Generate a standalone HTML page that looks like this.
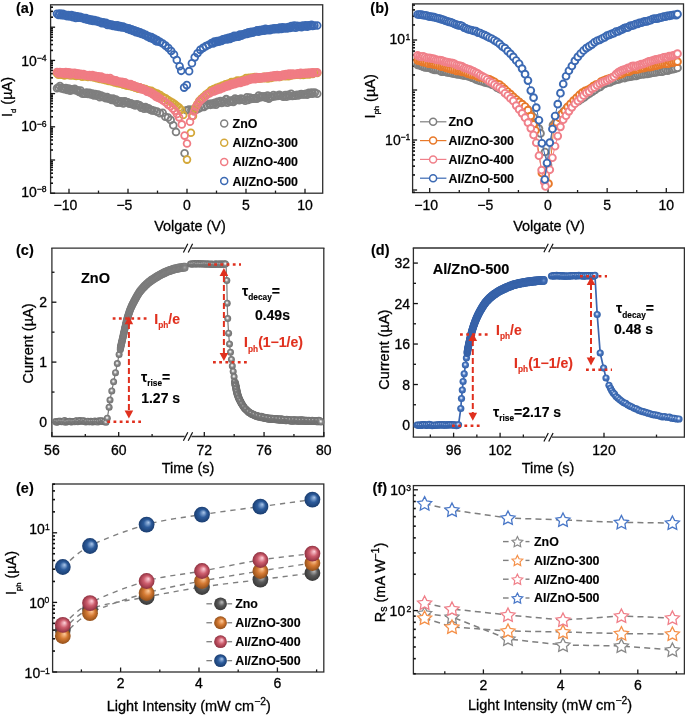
<!DOCTYPE html>
<html><head><meta charset="utf-8"><style>
html,body{margin:0;padding:0;background:#fff;}
svg{display:block;font-family:"Liberation Sans",sans-serif;will-change:transform;}
</style></head><body>
<svg width="685" height="715" viewBox="0 0 685 715">
<defs><radialGradient id="sg" cx="0.5" cy="0.5" r="0.5" fx="0.45" fy="0.4"><stop offset="0" stop-color="#ffffff"/><stop offset="0.22" stop-color="#d8d8d8"/><stop offset="0.5" stop-color="#8a8a8a"/><stop offset="1" stop-color="#6e6e6e"/></radialGradient><radialGradient id="sb" cx="0.5" cy="0.5" r="0.5" fx="0.45" fy="0.4"><stop offset="0" stop-color="#ffffff"/><stop offset="0.22" stop-color="#b0c8ee"/><stop offset="0.5" stop-color="#4a76bd"/><stop offset="1" stop-color="#305fa8"/></radialGradient><radialGradient id="sb2" cx="0.5" cy="0.5" r="0.5" fx="0.45" fy="0.4"><stop offset="0" stop-color="#6d93d0"/><stop offset="0.22" stop-color="#5a83c6"/><stop offset="0.5" stop-color="#3f6bb3"/><stop offset="1" stop-color="#335fa6"/></radialGradient><radialGradient id="sg2" cx="0.5" cy="0.5" r="0.5" fx="0.45" fy="0.4"><stop offset="0" stop-color="#a4a4a4"/><stop offset="0.22" stop-color="#969696"/><stop offset="0.5" stop-color="#858585"/><stop offset="1" stop-color="#787878"/></radialGradient><radialGradient id="eg" cx="0.5" cy="0.5" r="0.5" fx="0.62" fy="0.36"><stop offset="0" stop-color="#c0c0c0"/><stop offset="0.5" stop-color="#5a5a5a"/><stop offset="1" stop-color="#383838"/></radialGradient><radialGradient id="eo" cx="0.5" cy="0.5" r="0.5" fx="0.62" fy="0.36"><stop offset="0" stop-color="#ffcc9c"/><stop offset="0.5" stop-color="#d57a33"/><stop offset="1" stop-color="#94501a"/></radialGradient><radialGradient id="ep" cx="0.5" cy="0.5" r="0.5" fx="0.62" fy="0.36"><stop offset="0" stop-color="#ffd4dc"/><stop offset="0.5" stop-color="#cd5d6d"/><stop offset="1" stop-color="#8f3040"/></radialGradient><radialGradient id="eb" cx="0.5" cy="0.5" r="0.5" fx="0.62" fy="0.36"><stop offset="0" stop-color="#aac6ea"/><stop offset="0.5" stop-color="#2d5c9c"/><stop offset="1" stop-color="#1a3d70"/></radialGradient></defs>
<rect x="50.6" y="4.8" width="272.1" height="188.4" fill="none" stroke="#2e2e2e" stroke-width="1.3"/>
<line x1="69" y1="193.2" x2="69" y2="188.7" stroke="#1a1a1a" stroke-width="1.3" />
<line x1="128" y1="193.2" x2="128" y2="188.7" stroke="#1a1a1a" stroke-width="1.3" />
<line x1="187" y1="193.2" x2="187" y2="188.7" stroke="#1a1a1a" stroke-width="1.3" />
<line x1="246" y1="193.2" x2="246" y2="188.7" stroke="#1a1a1a" stroke-width="1.3" />
<line x1="305" y1="193.2" x2="305" y2="188.7" stroke="#1a1a1a" stroke-width="1.3" />
<line x1="98.5" y1="193.2" x2="98.5" y2="190.6" stroke="#1a1a1a" stroke-width="1.3" />
<line x1="157.5" y1="193.2" x2="157.5" y2="190.6" stroke="#1a1a1a" stroke-width="1.3" />
<line x1="216.5" y1="193.2" x2="216.5" y2="190.6" stroke="#1a1a1a" stroke-width="1.3" />
<line x1="275.5" y1="193.2" x2="275.5" y2="190.6" stroke="#1a1a1a" stroke-width="1.3" />
<line x1="50.6" y1="193.2" x2="55.1" y2="193.2" stroke="#111" stroke-width="1.3" />
<line x1="50.6" y1="160" x2="55.1" y2="160" stroke="#111" stroke-width="1.3" />
<line x1="50.6" y1="126.8" x2="55.1" y2="126.8" stroke="#111" stroke-width="1.3" />
<line x1="50.6" y1="93.6" x2="55.1" y2="93.6" stroke="#111" stroke-width="1.3" />
<line x1="50.6" y1="60.4" x2="55.1" y2="60.4" stroke="#111" stroke-width="1.3" />
<line x1="50.6" y1="27.2" x2="55.1" y2="27.2" stroke="#111" stroke-width="1.3" />
<line x1="50.6" y1="183.21" x2="53" y2="183.21" stroke="#111" stroke-width="1.6" />
<line x1="50.6" y1="177.36" x2="53" y2="177.36" stroke="#111" stroke-width="1.6" />
<line x1="50.6" y1="173.21" x2="53" y2="173.21" stroke="#111" stroke-width="1.6" />
<line x1="50.6" y1="169.99" x2="53" y2="169.99" stroke="#111" stroke-width="1.6" />
<line x1="50.6" y1="167.37" x2="53" y2="167.37" stroke="#111" stroke-width="1.6" />
<line x1="50.6" y1="165.14" x2="53" y2="165.14" stroke="#111" stroke-width="1.6" />
<line x1="50.6" y1="163.22" x2="53" y2="163.22" stroke="#111" stroke-width="1.6" />
<line x1="50.6" y1="161.52" x2="53" y2="161.52" stroke="#111" stroke-width="1.6" />
<line x1="50.6" y1="150.01" x2="53" y2="150.01" stroke="#111" stroke-width="1.6" />
<line x1="50.6" y1="144.16" x2="53" y2="144.16" stroke="#111" stroke-width="1.6" />
<line x1="50.6" y1="140.01" x2="53" y2="140.01" stroke="#111" stroke-width="1.6" />
<line x1="50.6" y1="136.79" x2="53" y2="136.79" stroke="#111" stroke-width="1.6" />
<line x1="50.6" y1="134.17" x2="53" y2="134.17" stroke="#111" stroke-width="1.6" />
<line x1="50.6" y1="131.94" x2="53" y2="131.94" stroke="#111" stroke-width="1.6" />
<line x1="50.6" y1="130.02" x2="53" y2="130.02" stroke="#111" stroke-width="1.6" />
<line x1="50.6" y1="128.32" x2="53" y2="128.32" stroke="#111" stroke-width="1.6" />
<line x1="50.6" y1="116.81" x2="53" y2="116.81" stroke="#111" stroke-width="1.6" />
<line x1="50.6" y1="110.96" x2="53" y2="110.96" stroke="#111" stroke-width="1.6" />
<line x1="50.6" y1="106.81" x2="53" y2="106.81" stroke="#111" stroke-width="1.6" />
<line x1="50.6" y1="103.59" x2="53" y2="103.59" stroke="#111" stroke-width="1.6" />
<line x1="50.6" y1="100.97" x2="53" y2="100.97" stroke="#111" stroke-width="1.6" />
<line x1="50.6" y1="98.74" x2="53" y2="98.74" stroke="#111" stroke-width="1.6" />
<line x1="50.6" y1="96.82" x2="53" y2="96.82" stroke="#111" stroke-width="1.6" />
<line x1="50.6" y1="95.12" x2="53" y2="95.12" stroke="#111" stroke-width="1.6" />
<line x1="50.6" y1="83.61" x2="53" y2="83.61" stroke="#111" stroke-width="1.6" />
<line x1="50.6" y1="77.76" x2="53" y2="77.76" stroke="#111" stroke-width="1.6" />
<line x1="50.6" y1="73.61" x2="53" y2="73.61" stroke="#111" stroke-width="1.6" />
<line x1="50.6" y1="70.39" x2="53" y2="70.39" stroke="#111" stroke-width="1.6" />
<line x1="50.6" y1="67.77" x2="53" y2="67.77" stroke="#111" stroke-width="1.6" />
<line x1="50.6" y1="65.54" x2="53" y2="65.54" stroke="#111" stroke-width="1.6" />
<line x1="50.6" y1="63.62" x2="53" y2="63.62" stroke="#111" stroke-width="1.6" />
<line x1="50.6" y1="61.92" x2="53" y2="61.92" stroke="#111" stroke-width="1.6" />
<line x1="50.6" y1="50.41" x2="53" y2="50.41" stroke="#111" stroke-width="1.6" />
<line x1="50.6" y1="44.56" x2="53" y2="44.56" stroke="#111" stroke-width="1.6" />
<line x1="50.6" y1="40.41" x2="53" y2="40.41" stroke="#111" stroke-width="1.6" />
<line x1="50.6" y1="37.19" x2="53" y2="37.19" stroke="#111" stroke-width="1.6" />
<line x1="50.6" y1="34.57" x2="53" y2="34.57" stroke="#111" stroke-width="1.6" />
<line x1="50.6" y1="32.34" x2="53" y2="32.34" stroke="#111" stroke-width="1.6" />
<line x1="50.6" y1="30.42" x2="53" y2="30.42" stroke="#111" stroke-width="1.6" />
<line x1="50.6" y1="28.72" x2="53" y2="28.72" stroke="#111" stroke-width="1.6" />
<line x1="50.6" y1="17.21" x2="53" y2="17.21" stroke="#111" stroke-width="1.6" />
<line x1="50.6" y1="11.36" x2="53" y2="11.36" stroke="#111" stroke-width="1.6" />
<line x1="50.6" y1="7.21" x2="53" y2="7.21" stroke="#111" stroke-width="1.6" />
<text stroke="#000" stroke-width="0.3" x="65.4" y="210" font-size="14" text-anchor="middle" font-weight="normal" fill="#000" >−10</text>
<text stroke="#000" stroke-width="0.3" x="124.4" y="210" font-size="14" text-anchor="middle" font-weight="normal" fill="#000" >−5</text>
<text stroke="#000" stroke-width="0.3" x="187" y="210" font-size="14" text-anchor="middle" font-weight="normal" fill="#000" >0</text>
<text stroke="#000" stroke-width="0.3" x="246" y="210" font-size="14" text-anchor="middle" font-weight="normal" fill="#000" >5</text>
<text stroke="#000" stroke-width="0.3" x="305" y="210" font-size="14" text-anchor="middle" font-weight="normal" fill="#000" >10</text>
<text stroke="#000" stroke-width="0.3" x="36.9" y="65.8" font-size="14" text-anchor="end" font-weight="normal" fill="#000" >10</text>
<text stroke="#000" stroke-width="0.3" x="46.55" y="61" font-size="8.6" text-anchor="end" font-weight="normal" fill="#000" >−4</text>
<text stroke="#000" stroke-width="0.3" x="36.9" y="131" font-size="14" text-anchor="end" font-weight="normal" fill="#000" >10</text>
<text stroke="#000" stroke-width="0.3" x="46.55" y="126.7" font-size="8.6" text-anchor="end" font-weight="normal" fill="#000" >−6</text>
<text stroke="#000" stroke-width="0.3" x="36.9" y="196.5" font-size="14" text-anchor="end" font-weight="normal" fill="#000" >10</text>
<text stroke="#000" stroke-width="0.3" x="46.65" y="192" font-size="8.6" text-anchor="end" font-weight="normal" fill="#000" >−8</text>
<text stroke="#000" stroke-width="0.3" x="190" y="231" font-size="14.5" text-anchor="middle" font-weight="normal" fill="#000" >Volgate (V)</text>
<text stroke="#000" stroke-width="0.3" transform="translate(11.7,97) rotate(-90)" font-size="14.5" text-anchor="middle" fill="#000">I<tspan font-size="7.8" dy="4.4">d</tspan><tspan dy="-4.4"> (µA)</tspan></text>
<text stroke="#000" stroke-width="0.15" x="16" y="13" font-size="14.5" text-anchor="start" font-weight="bold" fill="#000" >(a)</text>
<rect x="412.6" y="3.9" width="270.9" height="188.7" fill="none" stroke="#2e2e2e" stroke-width="1.3"/>
<line x1="429.7" y1="192.6" x2="429.7" y2="188.1" stroke="#1a1a1a" stroke-width="1.3" />
<line x1="488.85" y1="192.6" x2="488.85" y2="188.1" stroke="#1a1a1a" stroke-width="1.3" />
<line x1="548" y1="192.6" x2="548" y2="188.1" stroke="#1a1a1a" stroke-width="1.3" />
<line x1="607.15" y1="192.6" x2="607.15" y2="188.1" stroke="#1a1a1a" stroke-width="1.3" />
<line x1="666.3" y1="192.6" x2="666.3" y2="188.1" stroke="#1a1a1a" stroke-width="1.3" />
<line x1="459.27" y1="192.6" x2="459.27" y2="190" stroke="#1a1a1a" stroke-width="1.3" />
<line x1="518.42" y1="192.6" x2="518.42" y2="190" stroke="#1a1a1a" stroke-width="1.3" />
<line x1="577.58" y1="192.6" x2="577.58" y2="190" stroke="#1a1a1a" stroke-width="1.3" />
<line x1="636.73" y1="192.6" x2="636.73" y2="190" stroke="#1a1a1a" stroke-width="1.3" />
<line x1="412.6" y1="190" x2="417.1" y2="190" stroke="#111" stroke-width="1.3" />
<line x1="412.6" y1="140" x2="417.1" y2="140" stroke="#111" stroke-width="1.3" />
<line x1="412.6" y1="90" x2="417.1" y2="90" stroke="#111" stroke-width="1.3" />
<line x1="412.6" y1="40" x2="417.1" y2="40" stroke="#111" stroke-width="1.3" />
<line x1="412.6" y1="192.29" x2="415" y2="192.29" stroke="#111" stroke-width="1.6" />
<line x1="412.6" y1="174.95" x2="415" y2="174.95" stroke="#111" stroke-width="1.6" />
<line x1="412.6" y1="166.14" x2="415" y2="166.14" stroke="#111" stroke-width="1.6" />
<line x1="412.6" y1="159.9" x2="415" y2="159.9" stroke="#111" stroke-width="1.6" />
<line x1="412.6" y1="155.05" x2="415" y2="155.05" stroke="#111" stroke-width="1.6" />
<line x1="412.6" y1="151.09" x2="415" y2="151.09" stroke="#111" stroke-width="1.6" />
<line x1="412.6" y1="147.75" x2="415" y2="147.75" stroke="#111" stroke-width="1.6" />
<line x1="412.6" y1="144.85" x2="415" y2="144.85" stroke="#111" stroke-width="1.6" />
<line x1="412.6" y1="142.29" x2="415" y2="142.29" stroke="#111" stroke-width="1.6" />
<line x1="412.6" y1="124.95" x2="415" y2="124.95" stroke="#111" stroke-width="1.6" />
<line x1="412.6" y1="116.14" x2="415" y2="116.14" stroke="#111" stroke-width="1.6" />
<line x1="412.6" y1="109.9" x2="415" y2="109.9" stroke="#111" stroke-width="1.6" />
<line x1="412.6" y1="105.05" x2="415" y2="105.05" stroke="#111" stroke-width="1.6" />
<line x1="412.6" y1="101.09" x2="415" y2="101.09" stroke="#111" stroke-width="1.6" />
<line x1="412.6" y1="97.75" x2="415" y2="97.75" stroke="#111" stroke-width="1.6" />
<line x1="412.6" y1="94.85" x2="415" y2="94.85" stroke="#111" stroke-width="1.6" />
<line x1="412.6" y1="92.29" x2="415" y2="92.29" stroke="#111" stroke-width="1.6" />
<line x1="412.6" y1="74.95" x2="415" y2="74.95" stroke="#111" stroke-width="1.6" />
<line x1="412.6" y1="66.14" x2="415" y2="66.14" stroke="#111" stroke-width="1.6" />
<line x1="412.6" y1="59.9" x2="415" y2="59.9" stroke="#111" stroke-width="1.6" />
<line x1="412.6" y1="55.05" x2="415" y2="55.05" stroke="#111" stroke-width="1.6" />
<line x1="412.6" y1="51.09" x2="415" y2="51.09" stroke="#111" stroke-width="1.6" />
<line x1="412.6" y1="47.75" x2="415" y2="47.75" stroke="#111" stroke-width="1.6" />
<line x1="412.6" y1="44.85" x2="415" y2="44.85" stroke="#111" stroke-width="1.6" />
<line x1="412.6" y1="42.29" x2="415" y2="42.29" stroke="#111" stroke-width="1.6" />
<line x1="412.6" y1="24.95" x2="415" y2="24.95" stroke="#111" stroke-width="1.6" />
<line x1="412.6" y1="16.14" x2="415" y2="16.14" stroke="#111" stroke-width="1.6" />
<line x1="412.6" y1="9.9" x2="415" y2="9.9" stroke="#111" stroke-width="1.6" />
<line x1="412.6" y1="5.05" x2="415" y2="5.05" stroke="#111" stroke-width="1.6" />
<text stroke="#000" stroke-width="0.3" x="426.1" y="210" font-size="14" text-anchor="middle" font-weight="normal" fill="#000" >−10</text>
<text stroke="#000" stroke-width="0.3" x="485.25" y="210" font-size="14" text-anchor="middle" font-weight="normal" fill="#000" >−5</text>
<text stroke="#000" stroke-width="0.3" x="548" y="210" font-size="14" text-anchor="middle" font-weight="normal" fill="#000" >0</text>
<text stroke="#000" stroke-width="0.3" x="607.15" y="210" font-size="14" text-anchor="middle" font-weight="normal" fill="#000" >5</text>
<text stroke="#000" stroke-width="0.3" x="666.3" y="210" font-size="14" text-anchor="middle" font-weight="normal" fill="#000" >10</text>
<text stroke="#000" stroke-width="0.3" x="405.1" y="44.4" font-size="14" text-anchor="end" font-weight="normal" fill="#000" >10</text>
<text stroke="#000" stroke-width="0.3" x="410.4" y="39.7" font-size="8.6" text-anchor="end" font-weight="normal" fill="#000" >1</text>
<text stroke="#000" stroke-width="0.3" x="400.7" y="144.6" font-size="14" text-anchor="end" font-weight="normal" fill="#000" >10</text>
<text stroke="#000" stroke-width="0.3" x="410.4" y="139.7" font-size="8.6" text-anchor="end" font-weight="normal" fill="#000" >−1</text>
<text stroke="#000" stroke-width="0.3" x="549" y="231" font-size="14.5" text-anchor="middle" font-weight="normal" fill="#000" >Volgate (V)</text>
<text stroke="#000" stroke-width="0.3" transform="translate(374.6,96.3) rotate(-90)" font-size="14.5" text-anchor="middle" fill="#000">I<tspan font-size="7.6" dy="4.8">ph</tspan><tspan dy="-4.8"> (µA)</tspan></text>
<text stroke="#000" stroke-width="0.15" x="370.3" y="13" font-size="14.5" text-anchor="start" font-weight="bold" fill="#000" >(b)</text>
<line x1="51.9" y1="248.1" x2="51.9" y2="436.5" stroke="#2e2e2e" stroke-width="1.3" />
<line x1="323.8" y1="248.1" x2="323.8" y2="436.5" stroke="#2e2e2e" stroke-width="1.3" />
<line x1="51.25" y1="248.1" x2="184.6" y2="248.1" stroke="#2e2e2e" stroke-width="1.3" />
<line x1="51.25" y1="436.5" x2="184.6" y2="436.5" stroke="#2e2e2e" stroke-width="1.3" />
<line x1="191.4" y1="248.1" x2="324.45" y2="248.1" stroke="#2e2e2e" stroke-width="1.3" />
<line x1="191.4" y1="436.5" x2="324.45" y2="436.5" stroke="#2e2e2e" stroke-width="1.3" />
<line x1="183.4" y1="252.4" x2="187.8" y2="243.8" stroke="#111" stroke-width="1.2" />
<line x1="188.2" y1="252.4" x2="192.6" y2="243.8" stroke="#111" stroke-width="1.2" />
<line x1="183.4" y1="440.8" x2="187.8" y2="432.2" stroke="#111" stroke-width="1.2" />
<line x1="188.2" y1="440.8" x2="192.6" y2="432.2" stroke="#111" stroke-width="1.2" />
<line x1="51.9" y1="436.5" x2="51.9" y2="432" stroke="#1a1a1a" stroke-width="1.3" />
<line x1="118.7" y1="436.5" x2="118.7" y2="432" stroke="#1a1a1a" stroke-width="1.3" />
<line x1="204.3" y1="436.5" x2="204.3" y2="432" stroke="#1a1a1a" stroke-width="1.3" />
<line x1="264.06" y1="436.5" x2="264.06" y2="432" stroke="#1a1a1a" stroke-width="1.3" />
<line x1="323.82" y1="436.5" x2="323.82" y2="432" stroke="#1a1a1a" stroke-width="1.3" />
<line x1="85.3" y1="436.5" x2="85.3" y2="433.9" stroke="#1a1a1a" stroke-width="1.3" />
<line x1="152.1" y1="436.5" x2="152.1" y2="433.9" stroke="#1a1a1a" stroke-width="1.3" />
<line x1="234.18" y1="436.5" x2="234.18" y2="433.9" stroke="#1a1a1a" stroke-width="1.3" />
<line x1="293.94" y1="436.5" x2="293.94" y2="433.9" stroke="#1a1a1a" stroke-width="1.3" />
<line x1="51.9" y1="422" x2="56.4" y2="422" stroke="#111" stroke-width="1.3" />
<line x1="51.9" y1="362.1" x2="56.4" y2="362.1" stroke="#111" stroke-width="1.3" />
<line x1="51.9" y1="302.2" x2="56.4" y2="302.2" stroke="#111" stroke-width="1.3" />
<line x1="51.9" y1="392.05" x2="54.5" y2="392.05" stroke="#111" stroke-width="1.3" />
<line x1="51.9" y1="332.15" x2="54.5" y2="332.15" stroke="#111" stroke-width="1.3" />
<line x1="51.9" y1="272.25" x2="54.5" y2="272.25" stroke="#111" stroke-width="1.3" />
<text stroke="#000" stroke-width="0.3" x="51.9" y="455" font-size="14" text-anchor="middle" font-weight="normal" fill="#000" >56</text>
<text stroke="#000" stroke-width="0.3" x="118.7" y="455" font-size="14" text-anchor="middle" font-weight="normal" fill="#000" >60</text>
<text stroke="#000" stroke-width="0.3" x="204.3" y="455" font-size="14" text-anchor="middle" font-weight="normal" fill="#000" >72</text>
<text stroke="#000" stroke-width="0.3" x="264.06" y="455" font-size="14" text-anchor="middle" font-weight="normal" fill="#000" >76</text>
<text stroke="#000" stroke-width="0.3" x="323.82" y="455" font-size="14" text-anchor="middle" font-weight="normal" fill="#000" >80</text>
<text stroke="#000" stroke-width="0.3" x="47" y="427" font-size="14" text-anchor="end" font-weight="normal" fill="#000" >0</text>
<text stroke="#000" stroke-width="0.3" x="47" y="367.1" font-size="14" text-anchor="end" font-weight="normal" fill="#000" >1</text>
<text stroke="#000" stroke-width="0.3" x="47" y="307.2" font-size="14" text-anchor="end" font-weight="normal" fill="#000" >2</text>
<text stroke="#000" stroke-width="0.3" x="188" y="473" font-size="14.5" text-anchor="middle" font-weight="normal" fill="#000" >Time (s)</text>
<text stroke="#000" stroke-width="0.3" transform="translate(33.2,343.5) rotate(-90)" font-size="14.5" text-anchor="middle" fill="#000">Current (µA)</text>
<text stroke="#000" stroke-width="0.15" x="16" y="255" font-size="14.5" text-anchor="start" font-weight="bold" fill="#000" >(c)</text>
<line x1="413.4" y1="248" x2="413.4" y2="437.2" stroke="#2e2e2e" stroke-width="1.3" />
<line x1="684.4" y1="248" x2="684.4" y2="437.2" stroke="#2e2e2e" stroke-width="1.3" />
<line x1="412.75" y1="248" x2="545.1" y2="248" stroke="#2e2e2e" stroke-width="1.3" />
<line x1="412.75" y1="437.2" x2="545.1" y2="437.2" stroke="#2e2e2e" stroke-width="1.3" />
<line x1="551.9" y1="248" x2="685.05" y2="248" stroke="#2e2e2e" stroke-width="1.3" />
<line x1="551.9" y1="437.2" x2="685.05" y2="437.2" stroke="#2e2e2e" stroke-width="1.3" />
<line x1="543.9" y1="252.3" x2="548.3" y2="243.7" stroke="#111" stroke-width="1.2" />
<line x1="548.7" y1="252.3" x2="553.1" y2="243.7" stroke="#111" stroke-width="1.2" />
<line x1="543.9" y1="441.5" x2="548.3" y2="432.9" stroke="#111" stroke-width="1.2" />
<line x1="548.7" y1="441.5" x2="553.1" y2="432.9" stroke="#111" stroke-width="1.2" />
<line x1="453.6" y1="437.2" x2="453.6" y2="432.7" stroke="#1a1a1a" stroke-width="1.3" />
<line x1="500.1" y1="437.2" x2="500.1" y2="432.7" stroke="#1a1a1a" stroke-width="1.3" />
<line x1="604" y1="437.2" x2="604" y2="432.7" stroke="#1a1a1a" stroke-width="1.3" />
<line x1="430.35" y1="437.2" x2="430.35" y2="434.6" stroke="#1a1a1a" stroke-width="1.3" />
<line x1="476.85" y1="437.2" x2="476.85" y2="434.6" stroke="#1a1a1a" stroke-width="1.3" />
<line x1="523.35" y1="437.2" x2="523.35" y2="434.6" stroke="#1a1a1a" stroke-width="1.3" />
<line x1="656.5" y1="437.2" x2="656.5" y2="434.6" stroke="#1a1a1a" stroke-width="1.3" />
<line x1="413.4" y1="425" x2="417.9" y2="425" stroke="#111" stroke-width="1.3" />
<line x1="413.4" y1="384.52" x2="417.9" y2="384.52" stroke="#111" stroke-width="1.3" />
<line x1="413.4" y1="344.04" x2="417.9" y2="344.04" stroke="#111" stroke-width="1.3" />
<line x1="413.4" y1="303.56" x2="417.9" y2="303.56" stroke="#111" stroke-width="1.3" />
<line x1="413.4" y1="263.08" x2="417.9" y2="263.08" stroke="#111" stroke-width="1.3" />
<line x1="413.4" y1="404.76" x2="416" y2="404.76" stroke="#111" stroke-width="1.3" />
<line x1="413.4" y1="364.28" x2="416" y2="364.28" stroke="#111" stroke-width="1.3" />
<line x1="413.4" y1="323.8" x2="416" y2="323.8" stroke="#111" stroke-width="1.3" />
<line x1="413.4" y1="283.32" x2="416" y2="283.32" stroke="#111" stroke-width="1.3" />
<text stroke="#000" stroke-width="0.3" x="453.6" y="455" font-size="14" text-anchor="middle" font-weight="normal" fill="#000" >96</text>
<text stroke="#000" stroke-width="0.3" x="500.1" y="455" font-size="14" text-anchor="middle" font-weight="normal" fill="#000" >102</text>
<text stroke="#000" stroke-width="0.3" x="604" y="455" font-size="14" text-anchor="middle" font-weight="normal" fill="#000" >120</text>
<text stroke="#000" stroke-width="0.3" x="410" y="430" font-size="14" text-anchor="end" font-weight="normal" fill="#000" >0</text>
<text stroke="#000" stroke-width="0.3" x="410" y="389.52" font-size="14" text-anchor="end" font-weight="normal" fill="#000" >8</text>
<text stroke="#000" stroke-width="0.3" x="410" y="349.04" font-size="14" text-anchor="end" font-weight="normal" fill="#000" >16</text>
<text stroke="#000" stroke-width="0.3" x="410" y="308.56" font-size="14" text-anchor="end" font-weight="normal" fill="#000" >24</text>
<text stroke="#000" stroke-width="0.3" x="410" y="268.08" font-size="14" text-anchor="end" font-weight="normal" fill="#000" >32</text>
<text stroke="#000" stroke-width="0.3" x="548" y="473" font-size="14.5" text-anchor="middle" font-weight="normal" fill="#000" >Time (s)</text>
<text stroke="#000" stroke-width="0.3" transform="translate(389.2,349.6) rotate(-90)" font-size="14.5" text-anchor="middle" fill="#000">Current (µA)</text>
<text stroke="#000" stroke-width="0.15" x="371" y="255" font-size="14.5" text-anchor="start" font-weight="bold" fill="#000" >(d)</text>
<rect x="52.6" y="484" width="271.2" height="188" fill="none" stroke="#2e2e2e" stroke-width="1.3"/>
<line x1="120.6" y1="672" x2="120.6" y2="667.5" stroke="#1a1a1a" stroke-width="1.3" />
<line x1="199" y1="672" x2="199" y2="667.5" stroke="#1a1a1a" stroke-width="1.3" />
<line x1="277.4" y1="672" x2="277.4" y2="667.5" stroke="#1a1a1a" stroke-width="1.3" />
<line x1="81.4" y1="672" x2="81.4" y2="669.4" stroke="#1a1a1a" stroke-width="1.3" />
<line x1="159.8" y1="672" x2="159.8" y2="669.4" stroke="#1a1a1a" stroke-width="1.3" />
<line x1="238.2" y1="672" x2="238.2" y2="669.4" stroke="#1a1a1a" stroke-width="1.3" />
<line x1="316.6" y1="672" x2="316.6" y2="669.4" stroke="#1a1a1a" stroke-width="1.3" />
<line x1="52.6" y1="672" x2="57.1" y2="672" stroke="#111" stroke-width="1.3" />
<line x1="52.6" y1="602.4" x2="57.1" y2="602.4" stroke="#111" stroke-width="1.3" />
<line x1="52.6" y1="532.8" x2="57.1" y2="532.8" stroke="#111" stroke-width="1.3" />
<line x1="52.6" y1="651.05" x2="55" y2="651.05" stroke="#111" stroke-width="1.6" />
<line x1="52.6" y1="638.79" x2="55" y2="638.79" stroke="#111" stroke-width="1.6" />
<line x1="52.6" y1="630.1" x2="55" y2="630.1" stroke="#111" stroke-width="1.6" />
<line x1="52.6" y1="623.35" x2="55" y2="623.35" stroke="#111" stroke-width="1.6" />
<line x1="52.6" y1="617.84" x2="55" y2="617.84" stroke="#111" stroke-width="1.6" />
<line x1="52.6" y1="613.18" x2="55" y2="613.18" stroke="#111" stroke-width="1.6" />
<line x1="52.6" y1="609.14" x2="55" y2="609.14" stroke="#111" stroke-width="1.6" />
<line x1="52.6" y1="605.58" x2="55" y2="605.58" stroke="#111" stroke-width="1.6" />
<line x1="52.6" y1="581.45" x2="55" y2="581.45" stroke="#111" stroke-width="1.6" />
<line x1="52.6" y1="569.19" x2="55" y2="569.19" stroke="#111" stroke-width="1.6" />
<line x1="52.6" y1="560.5" x2="55" y2="560.5" stroke="#111" stroke-width="1.6" />
<line x1="52.6" y1="553.75" x2="55" y2="553.75" stroke="#111" stroke-width="1.6" />
<line x1="52.6" y1="548.24" x2="55" y2="548.24" stroke="#111" stroke-width="1.6" />
<line x1="52.6" y1="543.58" x2="55" y2="543.58" stroke="#111" stroke-width="1.6" />
<line x1="52.6" y1="539.54" x2="55" y2="539.54" stroke="#111" stroke-width="1.6" />
<line x1="52.6" y1="535.98" x2="55" y2="535.98" stroke="#111" stroke-width="1.6" />
<line x1="52.6" y1="511.85" x2="55" y2="511.85" stroke="#111" stroke-width="1.6" />
<line x1="52.6" y1="499.59" x2="55" y2="499.59" stroke="#111" stroke-width="1.6" />
<line x1="52.6" y1="490.9" x2="55" y2="490.9" stroke="#111" stroke-width="1.6" />
<line x1="52.6" y1="484.15" x2="55" y2="484.15" stroke="#111" stroke-width="1.6" />
<text stroke="#000" stroke-width="0.3" x="120.6" y="688" font-size="14" text-anchor="middle" font-weight="normal" fill="#000" >2</text>
<text stroke="#000" stroke-width="0.3" x="199" y="688" font-size="14" text-anchor="middle" font-weight="normal" fill="#000" >4</text>
<text stroke="#000" stroke-width="0.3" x="277.4" y="688" font-size="14" text-anchor="middle" font-weight="normal" fill="#000" >6</text>
<text stroke="#000" stroke-width="0.3" x="44.8" y="534.3" font-size="14" text-anchor="end" font-weight="normal" fill="#000" >10</text>
<text stroke="#000" stroke-width="0.3" x="49.8" y="529.6" font-size="8.6" text-anchor="end" font-weight="normal" fill="#000" >1</text>
<text stroke="#000" stroke-width="0.3" x="44.8" y="607.5" font-size="14" text-anchor="end" font-weight="normal" fill="#000" >10</text>
<text stroke="#000" stroke-width="0.3" x="49.25" y="603.4" font-size="8.6" text-anchor="end" font-weight="normal" fill="#000" >0</text>
<text stroke="#000" stroke-width="0.3" x="40.2" y="677.8" font-size="14" text-anchor="end" font-weight="normal" fill="#000" >10</text>
<text stroke="#000" stroke-width="0.3" x="49.8" y="673.7" font-size="8.6" text-anchor="end" font-weight="normal" fill="#000" >−1</text>
<text stroke="#000" stroke-width="0.3" x="188.7" y="710.5" font-size="14.5" text-anchor="middle" fill="#000">Light Intensity (mW cm<tspan font-size="10.3" dy="-5.6">−2</tspan><tspan dy="5.6">)</tspan></text>
<text stroke="#000" stroke-width="0.3" transform="translate(16.2,573) rotate(-90)" font-size="14.5" text-anchor="middle" fill="#000">I<tspan font-size="7.6" dy="4.8">ph</tspan><tspan dy="-4.8"> (µA)</tspan></text>
<text stroke="#000" stroke-width="0.15" x="16" y="493" font-size="14.5" text-anchor="start" font-weight="bold" fill="#000" >(e)</text>
<rect x="413.4" y="485.6" width="271" height="188.3" fill="none" stroke="#2e2e2e" stroke-width="1.3"/>
<line x1="483.4" y1="673.9" x2="483.4" y2="669.4" stroke="#1a1a1a" stroke-width="1.3" />
<line x1="560.6" y1="673.9" x2="560.6" y2="669.4" stroke="#1a1a1a" stroke-width="1.3" />
<line x1="637.8" y1="673.9" x2="637.8" y2="669.4" stroke="#1a1a1a" stroke-width="1.3" />
<line x1="444.8" y1="673.9" x2="444.8" y2="671.3" stroke="#1a1a1a" stroke-width="1.3" />
<line x1="522" y1="673.9" x2="522" y2="671.3" stroke="#1a1a1a" stroke-width="1.3" />
<line x1="599.2" y1="673.9" x2="599.2" y2="671.3" stroke="#1a1a1a" stroke-width="1.3" />
<line x1="676.4" y1="673.9" x2="676.4" y2="671.3" stroke="#1a1a1a" stroke-width="1.3" />
<line x1="413.4" y1="610.6" x2="417.9" y2="610.6" stroke="#111" stroke-width="1.3" />
<line x1="413.4" y1="489.8" x2="417.9" y2="489.8" stroke="#111" stroke-width="1.3" />
<line x1="413.4" y1="673.76" x2="415.8" y2="673.76" stroke="#111" stroke-width="1.6" />
<line x1="413.4" y1="658.67" x2="415.8" y2="658.67" stroke="#111" stroke-width="1.6" />
<line x1="413.4" y1="646.96" x2="415.8" y2="646.96" stroke="#111" stroke-width="1.6" />
<line x1="413.4" y1="637.4" x2="415.8" y2="637.4" stroke="#111" stroke-width="1.6" />
<line x1="413.4" y1="629.31" x2="415.8" y2="629.31" stroke="#111" stroke-width="1.6" />
<line x1="413.4" y1="622.31" x2="415.8" y2="622.31" stroke="#111" stroke-width="1.6" />
<line x1="413.4" y1="616.13" x2="415.8" y2="616.13" stroke="#111" stroke-width="1.6" />
<line x1="413.4" y1="574.24" x2="415.8" y2="574.24" stroke="#111" stroke-width="1.6" />
<line x1="413.4" y1="552.96" x2="415.8" y2="552.96" stroke="#111" stroke-width="1.6" />
<line x1="413.4" y1="537.87" x2="415.8" y2="537.87" stroke="#111" stroke-width="1.6" />
<line x1="413.4" y1="526.16" x2="415.8" y2="526.16" stroke="#111" stroke-width="1.6" />
<line x1="413.4" y1="516.6" x2="415.8" y2="516.6" stroke="#111" stroke-width="1.6" />
<line x1="413.4" y1="508.51" x2="415.8" y2="508.51" stroke="#111" stroke-width="1.6" />
<line x1="413.4" y1="501.51" x2="415.8" y2="501.51" stroke="#111" stroke-width="1.6" />
<line x1="413.4" y1="495.33" x2="415.8" y2="495.33" stroke="#111" stroke-width="1.6" />
<text stroke="#000" stroke-width="0.3" x="483.4" y="690" font-size="14" text-anchor="middle" font-weight="normal" fill="#000" >2</text>
<text stroke="#000" stroke-width="0.3" x="560.6" y="690" font-size="14" text-anchor="middle" font-weight="normal" fill="#000" >4</text>
<text stroke="#000" stroke-width="0.3" x="637.8" y="690" font-size="14" text-anchor="middle" font-weight="normal" fill="#000" >6</text>
<text stroke="#000" stroke-width="0.3" x="405.8" y="495.3" font-size="14" text-anchor="end" font-weight="normal" fill="#000" >10</text>
<text stroke="#000" stroke-width="0.3" x="411.15" y="491.2" font-size="8.6" text-anchor="end" font-weight="normal" fill="#000" >3</text>
<text stroke="#000" stroke-width="0.3" x="405.2" y="615.8" font-size="14" text-anchor="end" font-weight="normal" fill="#000" >10</text>
<text stroke="#000" stroke-width="0.3" x="411.25" y="611.5" font-size="8.6" text-anchor="end" font-weight="normal" fill="#000" >2</text>
<text stroke="#000" stroke-width="0.3" x="550" y="710" font-size="14.5" text-anchor="middle" fill="#000">Light Intensity (mW cm<tspan font-size="10.3" dy="-5.6">−2</tspan><tspan dy="5.6">)</tspan></text>
<text stroke="#000" stroke-width="0.3" transform="translate(384.8,582.5) rotate(-90)" font-size="14.5" text-anchor="middle" fill="#000">R<tspan font-size="10.5" dy="2.3">s</tspan><tspan dy="-2.3"> (mA W</tspan><tspan font-size="10" dy="-5.4">−1</tspan><tspan dy="5.4">)</tspan></text>
<text stroke="#000" stroke-width="0.15" x="372.5" y="493" font-size="14.5" text-anchor="start" font-weight="bold" fill="#000" >(f)</text>
<g fill="none" stroke="#7f7f7f" stroke-width="1.8"><circle cx="57" cy="88.29" r="3.4"/><circle cx="59.95" cy="85.93" r="3.4"/><circle cx="62.9" cy="88.14" r="3.4"/><circle cx="65.85" cy="88.01" r="3.4"/><circle cx="68.8" cy="88.56" r="3.4"/><circle cx="71.75" cy="89.21" r="3.4"/><circle cx="74.7" cy="88.68" r="3.4"/><circle cx="77.65" cy="90.34" r="3.4"/><circle cx="80.6" cy="90.59" r="3.4"/><circle cx="83.55" cy="93.75" r="3.4"/><circle cx="86.5" cy="92.55" r="3.4"/><circle cx="89.45" cy="92.86" r="3.4"/><circle cx="92.4" cy="93.57" r="3.4"/><circle cx="95.35" cy="94.02" r="3.4"/><circle cx="98.3" cy="94.48" r="3.4"/><circle cx="101.25" cy="95.59" r="3.4"/><circle cx="104.2" cy="96.84" r="3.4"/><circle cx="107.15" cy="97.13" r="3.4"/><circle cx="110.1" cy="98.58" r="3.4"/><circle cx="113.05" cy="98.62" r="3.4"/><circle cx="116" cy="99.51" r="3.4"/><circle cx="118.95" cy="101.17" r="3.4"/><circle cx="121.9" cy="101.27" r="3.4"/><circle cx="124.85" cy="101.32" r="3.4"/><circle cx="127.8" cy="102.18" r="3.4"/><circle cx="130.75" cy="103.27" r="3.4"/><circle cx="133.7" cy="104.81" r="3.4"/><circle cx="136.65" cy="104.3" r="3.4"/><circle cx="139.6" cy="105.26" r="3.4"/><circle cx="142.55" cy="107.04" r="3.4"/><circle cx="145.5" cy="106.93" r="3.4"/><circle cx="148.45" cy="108.28" r="3.4"/><circle cx="151.37" cy="109.95" r="3.4"/><circle cx="154.24" cy="110.8" r="3.4"/><circle cx="157.08" cy="111.63" r="3.4"/><circle cx="159.87" cy="113.13" r="3.4"/><circle cx="162.63" cy="112.82" r="3.4"/><circle cx="165.34" cy="116.68" r="3.4"/><circle cx="168.02" cy="117.58" r="3.4"/><circle cx="170.66" cy="120.08" r="3.4"/><circle cx="173.27" cy="125.24" r="3.4"/><circle cx="176" cy="131.92" r="3.4"/><circle cx="58.47" cy="87.58" r="3.4"/><circle cx="61.42" cy="88.51" r="3.4"/><circle cx="64.37" cy="89.12" r="3.4"/><circle cx="67.32" cy="89.92" r="3.4"/><circle cx="70.27" cy="90.62" r="3.4"/><circle cx="73.22" cy="90.06" r="3.4"/><circle cx="76.17" cy="90.34" r="3.4"/><circle cx="79.12" cy="91.99" r="3.4"/><circle cx="82.07" cy="93.35" r="3.4"/><circle cx="85.02" cy="93.73" r="3.4"/><circle cx="87.97" cy="94.07" r="3.4"/><circle cx="90.92" cy="94.41" r="3.4"/><circle cx="93.87" cy="95.45" r="3.4"/><circle cx="96.82" cy="95.82" r="3.4"/><circle cx="99.77" cy="97.16" r="3.4"/><circle cx="102.72" cy="96.91" r="3.4"/><circle cx="105.67" cy="98.19" r="3.4"/><circle cx="108.62" cy="98.77" r="3.4"/><circle cx="111.57" cy="99.89" r="3.4"/><circle cx="114.52" cy="100.45" r="3.4"/><circle cx="117.47" cy="102.6" r="3.4"/><circle cx="120.42" cy="102.7" r="3.4"/><circle cx="123.37" cy="103.38" r="3.4"/><circle cx="126.32" cy="101.93" r="3.4"/><circle cx="129.27" cy="103.61" r="3.4"/><circle cx="132.22" cy="104.12" r="3.4"/><circle cx="135.17" cy="105.56" r="3.4"/><circle cx="138.12" cy="104.75" r="3.4"/><circle cx="141.07" cy="107.82" r="3.4"/><circle cx="144.02" cy="108.79" r="3.4"/><circle cx="146.97" cy="108.38" r="3.4"/><circle cx="149.91" cy="109.55" r="3.4"/><circle cx="152" cy="110.36" r="3.4"/><circle cx="184.6" cy="153.3" r="3.4"/><circle cx="210.5" cy="104.83" r="3.4"/><circle cx="213.23" cy="104.5" r="3.4"/><circle cx="216" cy="104.72" r="3.4"/><circle cx="218.81" cy="102.82" r="3.4"/><circle cx="221.66" cy="102.93" r="3.4"/><circle cx="224.55" cy="102.16" r="3.4"/><circle cx="227.48" cy="102.76" r="3.4"/><circle cx="230.43" cy="101.81" r="3.4"/><circle cx="233.38" cy="101.85" r="3.4"/><circle cx="236.33" cy="100.06" r="3.4"/><circle cx="239.28" cy="100.28" r="3.4"/><circle cx="242.23" cy="99.61" r="3.4"/><circle cx="245.18" cy="100.72" r="3.4"/><circle cx="248.13" cy="99.93" r="3.4"/><circle cx="251.08" cy="99.05" r="3.4"/><circle cx="254.03" cy="98.59" r="3.4"/><circle cx="256.98" cy="98.7" r="3.4"/><circle cx="259.93" cy="97.53" r="3.4"/><circle cx="262.88" cy="97.01" r="3.4"/><circle cx="265.83" cy="97.61" r="3.4"/><circle cx="268.78" cy="98.61" r="3.4"/><circle cx="271.73" cy="96.84" r="3.4"/><circle cx="274.68" cy="96.52" r="3.4"/><circle cx="277.63" cy="96.02" r="3.4"/><circle cx="280.58" cy="95.77" r="3.4"/><circle cx="283.53" cy="96.72" r="3.4"/><circle cx="286.48" cy="96.74" r="3.4"/><circle cx="289.43" cy="96.04" r="3.4"/><circle cx="292.38" cy="96.03" r="3.4"/><circle cx="295.33" cy="95.67" r="3.4"/><circle cx="298.28" cy="95.43" r="3.4"/><circle cx="301.23" cy="94.17" r="3.4"/><circle cx="304.18" cy="94.55" r="3.4"/><circle cx="307.13" cy="94.63" r="3.4"/><circle cx="310.08" cy="93.82" r="3.4"/><circle cx="312.7" cy="93.76" r="3.4"/><circle cx="186.5" cy="110.23" r="3.4"/><circle cx="188.91" cy="109.57" r="3.4"/><circle cx="191.35" cy="109.89" r="3.4"/><circle cx="193.82" cy="109.43" r="3.4"/><circle cx="196.32" cy="109.76" r="3.4"/><circle cx="198.86" cy="108.48" r="3.4"/><circle cx="201.43" cy="107.22" r="3.4"/><circle cx="204.04" cy="106.85" r="3.4"/><circle cx="206.68" cy="105.13" r="3.4"/><circle cx="209.36" cy="103.86" r="3.4"/><circle cx="212.08" cy="103.55" r="3.4"/><circle cx="214.83" cy="102.9" r="3.4"/><circle cx="217.62" cy="101.84" r="3.4"/><circle cx="220.46" cy="100.99" r="3.4"/><circle cx="223.33" cy="101.16" r="3.4"/><circle cx="226.24" cy="99.16" r="3.4"/><circle cx="229.19" cy="100.72" r="3.4"/><circle cx="232.14" cy="100.26" r="3.4"/><circle cx="235.09" cy="98.66" r="3.4"/><circle cx="238.04" cy="99.36" r="3.4"/><circle cx="240.99" cy="98.44" r="3.4"/><circle cx="243.94" cy="99.19" r="3.4"/><circle cx="246.89" cy="97.24" r="3.4"/><circle cx="249.84" cy="97.62" r="3.4"/><circle cx="252.79" cy="98.25" r="3.4"/><circle cx="255.74" cy="98.09" r="3.4"/><circle cx="258.69" cy="95.64" r="3.4"/><circle cx="261.64" cy="96.22" r="3.4"/><circle cx="264.59" cy="96.41" r="3.4"/><circle cx="267.54" cy="95.64" r="3.4"/><circle cx="270.49" cy="96.8" r="3.4"/><circle cx="273.44" cy="95" r="3.4"/><circle cx="276.39" cy="95.79" r="3.4"/><circle cx="279.34" cy="94.81" r="3.4"/><circle cx="282.29" cy="96.11" r="3.4"/><circle cx="285.24" cy="95.09" r="3.4"/><circle cx="288.19" cy="94.7" r="3.4"/><circle cx="291.14" cy="93.69" r="3.4"/><circle cx="294.09" cy="95.5" r="3.4"/><circle cx="297.04" cy="94.71" r="3.4"/><circle cx="299.99" cy="94.45" r="3.4"/><circle cx="302.94" cy="94.42" r="3.4"/><circle cx="305.89" cy="93.68" r="3.4"/><circle cx="308.84" cy="92.82" r="3.4"/><circle cx="311.79" cy="92.45" r="3.4"/><circle cx="314.74" cy="92.66" r="3.4"/><circle cx="317.2" cy="93.72" r="3.4"/></g>
<g fill="none" stroke="#d4a83a" stroke-width="1.8"><circle cx="57" cy="73.19" r="3.4"/><circle cx="59.95" cy="73.44" r="3.4"/><circle cx="62.9" cy="73.88" r="3.4"/><circle cx="65.85" cy="73.72" r="3.4"/><circle cx="68.8" cy="73.96" r="3.4"/><circle cx="71.75" cy="74.39" r="3.4"/><circle cx="74.7" cy="74.56" r="3.4"/><circle cx="77.65" cy="75.05" r="3.4"/><circle cx="80.6" cy="74.36" r="3.4"/><circle cx="83.55" cy="75.38" r="3.4"/><circle cx="86.5" cy="75.36" r="3.4"/><circle cx="89.45" cy="75.85" r="3.4"/><circle cx="92.4" cy="76.41" r="3.4"/><circle cx="95.35" cy="76.94" r="3.4"/><circle cx="98.3" cy="77.46" r="3.4"/><circle cx="101.25" cy="77.84" r="3.4"/><circle cx="104.2" cy="78.85" r="3.4"/><circle cx="107.15" cy="79.05" r="3.4"/><circle cx="110.1" cy="79.78" r="3.4"/><circle cx="113.05" cy="80.74" r="3.4"/><circle cx="116" cy="81.24" r="3.4"/><circle cx="118.95" cy="82.76" r="3.4"/><circle cx="121.9" cy="83.24" r="3.4"/><circle cx="124.85" cy="84.25" r="3.4"/><circle cx="127.8" cy="84.41" r="3.4"/><circle cx="130.75" cy="85.02" r="3.4"/><circle cx="133.7" cy="85.9" r="3.4"/><circle cx="136.65" cy="86.82" r="3.4"/><circle cx="139.6" cy="87.26" r="3.4"/><circle cx="142.55" cy="88.3" r="3.4"/><circle cx="145.5" cy="89.04" r="3.4"/><circle cx="148.45" cy="90.38" r="3.4"/><circle cx="151.4" cy="90.86" r="3.4"/><circle cx="154.35" cy="92.54" r="3.4"/><circle cx="157.3" cy="93.54" r="3.4"/><circle cx="160.19" cy="94.98" r="3.4"/><circle cx="162.94" cy="97.06" r="3.4"/><circle cx="165.56" cy="98.4" r="3.4"/><circle cx="168.06" cy="100.11" r="3.4"/><circle cx="170.44" cy="101.64" r="3.4"/><circle cx="172.71" cy="102.76" r="3.4"/><circle cx="174.87" cy="104.3" r="3.4"/><circle cx="176.96" cy="106.12" r="3.4"/><circle cx="179.04" cy="107.5" r="3.4"/><circle cx="181.1" cy="109.89" r="3.4"/><circle cx="183.2" cy="114.93" r="3.4"/><circle cx="58.47" cy="74.79" r="3.4"/><circle cx="61.42" cy="74.78" r="3.4"/><circle cx="64.37" cy="75.51" r="3.4"/><circle cx="67.32" cy="74.98" r="3.4"/><circle cx="70.27" cy="75.48" r="3.4"/><circle cx="73.22" cy="75.53" r="3.4"/><circle cx="76.17" cy="75.86" r="3.4"/><circle cx="79.12" cy="75.66" r="3.4"/><circle cx="82.07" cy="76.66" r="3.4"/><circle cx="85.02" cy="76.49" r="3.4"/><circle cx="87.97" cy="76.85" r="3.4"/><circle cx="90.92" cy="76.97" r="3.4"/><circle cx="93.87" cy="77.44" r="3.4"/><circle cx="96.82" cy="78.27" r="3.4"/><circle cx="99.77" cy="78.94" r="3.4"/><circle cx="102.72" cy="79.5" r="3.4"/><circle cx="105.67" cy="80.28" r="3.4"/><circle cx="108.62" cy="80.84" r="3.4"/><circle cx="111.57" cy="81.37" r="3.4"/><circle cx="114.52" cy="82.36" r="3.4"/><circle cx="117.47" cy="83.15" r="3.4"/><circle cx="120.42" cy="83.78" r="3.4"/><circle cx="123.37" cy="84.73" r="3.4"/><circle cx="126.32" cy="85.58" r="3.4"/><circle cx="129.27" cy="86.02" r="3.4"/><circle cx="132.22" cy="86.59" r="3.4"/><circle cx="135.17" cy="87.62" r="3.4"/><circle cx="138.12" cy="88.69" r="3.4"/><circle cx="141.07" cy="88.95" r="3.4"/><circle cx="144.02" cy="89.79" r="3.4"/><circle cx="146.97" cy="90.66" r="3.4"/><circle cx="149.92" cy="91.99" r="3.4"/><circle cx="152.87" cy="92.36" r="3.4"/><circle cx="155.82" cy="94.26" r="3.4"/><circle cx="159.2" cy="96.19" r="3.4"/><circle cx="187" cy="159.6" r="3.4"/><circle cx="214.9" cy="89.55" r="3.4"/><circle cx="217.8" cy="88.99" r="3.4"/><circle cx="220.75" cy="87.65" r="3.4"/><circle cx="223.7" cy="86.29" r="3.4"/><circle cx="226.65" cy="85.46" r="3.4"/><circle cx="229.6" cy="84.06" r="3.4"/><circle cx="232.55" cy="83.38" r="3.4"/><circle cx="235.5" cy="83.11" r="3.4"/><circle cx="238.45" cy="81.61" r="3.4"/><circle cx="241.4" cy="81.51" r="3.4"/><circle cx="244.35" cy="80.17" r="3.4"/><circle cx="247.3" cy="79.59" r="3.4"/><circle cx="250.25" cy="78.79" r="3.4"/><circle cx="253.2" cy="78.1" r="3.4"/><circle cx="256.15" cy="78.47" r="3.4"/><circle cx="259.1" cy="78.63" r="3.4"/><circle cx="262.05" cy="78.26" r="3.4"/><circle cx="265" cy="78.15" r="3.4"/><circle cx="267.95" cy="78.41" r="3.4"/><circle cx="270.9" cy="77.86" r="3.4"/><circle cx="273.85" cy="77.21" r="3.4"/><circle cx="276.8" cy="77.03" r="3.4"/><circle cx="279.75" cy="76.98" r="3.4"/><circle cx="282.7" cy="76.25" r="3.4"/><circle cx="285.65" cy="76.29" r="3.4"/><circle cx="288.6" cy="76.18" r="3.4"/><circle cx="291.55" cy="75.56" r="3.4"/><circle cx="294.5" cy="75.03" r="3.4"/><circle cx="297.45" cy="74.77" r="3.4"/><circle cx="300.4" cy="74.87" r="3.4"/><circle cx="303.35" cy="74.88" r="3.4"/><circle cx="306.3" cy="74.52" r="3.4"/><circle cx="309.25" cy="74.38" r="3.4"/><circle cx="312.7" cy="73.89" r="3.4"/><circle cx="190.9" cy="132.8" r="3.4"/><circle cx="192.94" cy="115.98" r="3.4"/><circle cx="195" cy="108.27" r="3.4"/><circle cx="197.07" cy="104.43" r="3.4"/><circle cx="199.17" cy="101.02" r="3.4"/><circle cx="201.32" cy="98.89" r="3.4"/><circle cx="203.58" cy="96.68" r="3.4"/><circle cx="205.94" cy="94.64" r="3.4"/><circle cx="208.42" cy="92.81" r="3.4"/><circle cx="211.01" cy="90.27" r="3.4"/><circle cx="213.72" cy="89.01" r="3.4"/><circle cx="216.56" cy="87.89" r="3.4"/><circle cx="219.51" cy="86.75" r="3.4"/><circle cx="222.46" cy="85.63" r="3.4"/><circle cx="225.41" cy="84.42" r="3.4"/><circle cx="228.36" cy="83.59" r="3.4"/><circle cx="231.31" cy="82.17" r="3.4"/><circle cx="234.26" cy="81.77" r="3.4"/><circle cx="237.21" cy="80.67" r="3.4"/><circle cx="240.16" cy="80.45" r="3.4"/><circle cx="243.11" cy="79.68" r="3.4"/><circle cx="246.06" cy="77.99" r="3.4"/><circle cx="249.01" cy="77.8" r="3.4"/><circle cx="251.96" cy="77.45" r="3.4"/><circle cx="254.91" cy="77.17" r="3.4"/><circle cx="257.86" cy="77.53" r="3.4"/><circle cx="260.81" cy="77.25" r="3.4"/><circle cx="263.76" cy="76.88" r="3.4"/><circle cx="266.71" cy="77.14" r="3.4"/><circle cx="269.66" cy="76.92" r="3.4"/><circle cx="272.61" cy="76.63" r="3.4"/><circle cx="275.56" cy="75.88" r="3.4"/><circle cx="278.51" cy="75.9" r="3.4"/><circle cx="281.46" cy="75.51" r="3.4"/><circle cx="284.41" cy="74.69" r="3.4"/><circle cx="287.36" cy="74.54" r="3.4"/><circle cx="290.31" cy="74.43" r="3.4"/><circle cx="293.26" cy="74.07" r="3.4"/><circle cx="296.21" cy="74.42" r="3.4"/><circle cx="299.16" cy="73.82" r="3.4"/><circle cx="302.11" cy="73.3" r="3.4"/><circle cx="305.06" cy="73.14" r="3.4"/><circle cx="308.01" cy="73.11" r="3.4"/><circle cx="310.96" cy="73.49" r="3.4"/><circle cx="313.91" cy="72.67" r="3.4"/><circle cx="317.2" cy="73.03" r="3.4"/></g>
<g fill="none" stroke="#f07c84" stroke-width="1.8"><circle cx="57" cy="72.01" r="3.4"/><circle cx="59.95" cy="71.97" r="3.4"/><circle cx="62.9" cy="72.19" r="3.4"/><circle cx="65.85" cy="72.14" r="3.4"/><circle cx="68.8" cy="72.29" r="3.4"/><circle cx="71.75" cy="72.79" r="3.4"/><circle cx="74.7" cy="72.88" r="3.4"/><circle cx="77.65" cy="73.19" r="3.4"/><circle cx="80.6" cy="73.9" r="3.4"/><circle cx="83.55" cy="74.03" r="3.4"/><circle cx="86.5" cy="75.15" r="3.4"/><circle cx="89.45" cy="75.03" r="3.4"/><circle cx="92.4" cy="75.06" r="3.4"/><circle cx="95.35" cy="75.9" r="3.4"/><circle cx="98.3" cy="76.33" r="3.4"/><circle cx="101.25" cy="76.66" r="3.4"/><circle cx="104.2" cy="77.74" r="3.4"/><circle cx="107.15" cy="77.93" r="3.4"/><circle cx="110.1" cy="78.05" r="3.4"/><circle cx="113.05" cy="79.75" r="3.4"/><circle cx="116" cy="80.24" r="3.4"/><circle cx="118.95" cy="81.6" r="3.4"/><circle cx="121.9" cy="81.78" r="3.4"/><circle cx="124.85" cy="82.32" r="3.4"/><circle cx="127.8" cy="83.79" r="3.4"/><circle cx="130.75" cy="84.01" r="3.4"/><circle cx="133.7" cy="85.28" r="3.4"/><circle cx="136.65" cy="86.6" r="3.4"/><circle cx="139.6" cy="87.34" r="3.4"/><circle cx="142.55" cy="88.46" r="3.4"/><circle cx="145.5" cy="89.78" r="3.4"/><circle cx="148.45" cy="91.37" r="3.4"/><circle cx="151.4" cy="92.5" r="3.4"/><circle cx="154.35" cy="94.53" r="3.4"/><circle cx="157.3" cy="96.31" r="3.4"/><circle cx="160.19" cy="98.66" r="3.4"/><circle cx="162.94" cy="100.45" r="3.4"/><circle cx="165.56" cy="102.26" r="3.4"/><circle cx="168.06" cy="104.61" r="3.4"/><circle cx="170.44" cy="106.31" r="3.4"/><circle cx="172.71" cy="108.55" r="3.4"/><circle cx="174.87" cy="110.75" r="3.4"/><circle cx="176.96" cy="114.08" r="3.4"/><circle cx="179.04" cy="117.36" r="3.4"/><circle cx="181.8" cy="124.38" r="3.4"/><circle cx="58.47" cy="73.4" r="3.4"/><circle cx="61.42" cy="73.18" r="3.4"/><circle cx="64.37" cy="73.94" r="3.4"/><circle cx="67.32" cy="73.83" r="3.4"/><circle cx="70.27" cy="74.5" r="3.4"/><circle cx="73.22" cy="73.72" r="3.4"/><circle cx="76.17" cy="74.67" r="3.4"/><circle cx="79.12" cy="75.03" r="3.4"/><circle cx="82.07" cy="75.01" r="3.4"/><circle cx="85.02" cy="75.55" r="3.4"/><circle cx="87.97" cy="75.99" r="3.4"/><circle cx="90.92" cy="76.35" r="3.4"/><circle cx="93.87" cy="76.52" r="3.4"/><circle cx="96.82" cy="77.13" r="3.4"/><circle cx="99.77" cy="77.98" r="3.4"/><circle cx="102.72" cy="78.66" r="3.4"/><circle cx="105.67" cy="79.02" r="3.4"/><circle cx="108.62" cy="79.69" r="3.4"/><circle cx="111.57" cy="80.42" r="3.4"/><circle cx="114.52" cy="81.42" r="3.4"/><circle cx="117.47" cy="81.75" r="3.4"/><circle cx="120.42" cy="82.47" r="3.4"/><circle cx="123.37" cy="83.5" r="3.4"/><circle cx="126.32" cy="83.92" r="3.4"/><circle cx="129.27" cy="84.89" r="3.4"/><circle cx="132.22" cy="85.97" r="3.4"/><circle cx="135.17" cy="87.04" r="3.4"/><circle cx="138.12" cy="87.69" r="3.4"/><circle cx="141.07" cy="89.28" r="3.4"/><circle cx="144.02" cy="89.86" r="3.4"/><circle cx="146.97" cy="91.77" r="3.4"/><circle cx="149.92" cy="92.72" r="3.4"/><circle cx="152.87" cy="94.41" r="3.4"/><circle cx="155.82" cy="96.61" r="3.4"/><circle cx="157.8" cy="97.59" r="3.4"/><circle cx="184.6" cy="135.6" r="3.4"/><circle cx="187" cy="143.5" r="3.4"/><circle cx="214" cy="91.45" r="3.4"/><circle cx="216.86" cy="90.33" r="3.4"/><circle cx="219.81" cy="89.4" r="3.4"/><circle cx="222.76" cy="88.14" r="3.4"/><circle cx="225.71" cy="87.07" r="3.4"/><circle cx="228.66" cy="86.32" r="3.4"/><circle cx="231.61" cy="84.93" r="3.4"/><circle cx="234.56" cy="84.12" r="3.4"/><circle cx="237.51" cy="83.29" r="3.4"/><circle cx="240.46" cy="82.9" r="3.4"/><circle cx="243.41" cy="81.98" r="3.4"/><circle cx="246.36" cy="81.12" r="3.4"/><circle cx="249.31" cy="79.95" r="3.4"/><circle cx="252.26" cy="79.31" r="3.4"/><circle cx="255.21" cy="79.12" r="3.4"/><circle cx="258.16" cy="78.44" r="3.4"/><circle cx="261.11" cy="78.41" r="3.4"/><circle cx="264.06" cy="78.06" r="3.4"/><circle cx="267.01" cy="77.36" r="3.4"/><circle cx="269.96" cy="77.17" r="3.4"/><circle cx="272.91" cy="76.84" r="3.4"/><circle cx="275.86" cy="76.98" r="3.4"/><circle cx="278.81" cy="76.88" r="3.4"/><circle cx="281.76" cy="75.9" r="3.4"/><circle cx="284.71" cy="75.63" r="3.4"/><circle cx="287.66" cy="74.76" r="3.4"/><circle cx="290.61" cy="75.09" r="3.4"/><circle cx="293.56" cy="74.76" r="3.4"/><circle cx="296.51" cy="74.21" r="3.4"/><circle cx="299.46" cy="74.41" r="3.4"/><circle cx="302.41" cy="73.57" r="3.4"/><circle cx="305.36" cy="73.67" r="3.4"/><circle cx="308.31" cy="73.53" r="3.4"/><circle cx="311.26" cy="72.97" r="3.4"/><circle cx="312.7" cy="73.4" r="3.4"/><circle cx="190" cy="121.76" r="3.4"/><circle cx="192.03" cy="115.92" r="3.4"/><circle cx="194.08" cy="111.43" r="3.4"/><circle cx="196.15" cy="106.65" r="3.4"/><circle cx="198.24" cy="103.37" r="3.4"/><circle cx="200.35" cy="100.61" r="3.4"/><circle cx="202.56" cy="98.8" r="3.4"/><circle cx="204.87" cy="96.66" r="3.4"/><circle cx="207.3" cy="94.44" r="3.4"/><circle cx="209.84" cy="93.25" r="3.4"/><circle cx="212.5" cy="91.22" r="3.4"/><circle cx="215.28" cy="90.08" r="3.4"/><circle cx="218.2" cy="88.55" r="3.4"/><circle cx="221.15" cy="88" r="3.4"/><circle cx="224.1" cy="86.56" r="3.4"/><circle cx="227.05" cy="85.37" r="3.4"/><circle cx="230" cy="84.29" r="3.4"/><circle cx="232.95" cy="83.45" r="3.4"/><circle cx="235.9" cy="82.88" r="3.4"/><circle cx="238.85" cy="81.79" r="3.4"/><circle cx="241.8" cy="81.3" r="3.4"/><circle cx="244.75" cy="80.25" r="3.4"/><circle cx="247.7" cy="79.53" r="3.4"/><circle cx="250.65" cy="78.65" r="3.4"/><circle cx="253.6" cy="77.92" r="3.4"/><circle cx="256.55" cy="77.05" r="3.4"/><circle cx="259.5" cy="77.26" r="3.4"/><circle cx="262.45" cy="77.05" r="3.4"/><circle cx="265.4" cy="76.56" r="3.4"/><circle cx="268.35" cy="76.32" r="3.4"/><circle cx="271.3" cy="75.73" r="3.4"/><circle cx="274.25" cy="75.42" r="3.4"/><circle cx="277.2" cy="74.97" r="3.4"/><circle cx="280.15" cy="75.23" r="3.4"/><circle cx="283.1" cy="74.63" r="3.4"/><circle cx="286.05" cy="74.17" r="3.4"/><circle cx="289" cy="73.66" r="3.4"/><circle cx="291.95" cy="73.67" r="3.4"/><circle cx="294.9" cy="73.79" r="3.4"/><circle cx="297.85" cy="73.27" r="3.4"/><circle cx="300.8" cy="72.71" r="3.4"/><circle cx="303.75" cy="73" r="3.4"/><circle cx="306.7" cy="72.77" r="3.4"/><circle cx="309.65" cy="72.44" r="3.4"/><circle cx="312.6" cy="72.19" r="3.4"/><circle cx="315.55" cy="72.59" r="3.4"/><circle cx="317.2" cy="72.34" r="3.4"/></g>
<g fill="none" stroke="#3b69b3" stroke-width="1.8"><circle cx="57" cy="13.7" r="3.4"/><circle cx="59.9" cy="13.46" r="3.4"/><circle cx="62.79" cy="13.83" r="3.4"/><circle cx="65.68" cy="14.74" r="3.4"/><circle cx="68.57" cy="15.01" r="3.4"/><circle cx="71.46" cy="15.16" r="3.4"/><circle cx="74.35" cy="15.86" r="3.4"/><circle cx="77.23" cy="16.4" r="3.4"/><circle cx="80.11" cy="16.91" r="3.4"/><circle cx="82.99" cy="17.69" r="3.4"/><circle cx="85.87" cy="18.15" r="3.4"/><circle cx="88.75" cy="19.08" r="3.4"/><circle cx="91.62" cy="19.6" r="3.4"/><circle cx="94.49" cy="20.09" r="3.4"/><circle cx="97.36" cy="20.91" r="3.4"/><circle cx="100.22" cy="21.72" r="3.4"/><circle cx="103.09" cy="22.33" r="3.4"/><circle cx="105.95" cy="22.69" r="3.4"/><circle cx="108.81" cy="24.03" r="3.4"/><circle cx="111.67" cy="24.45" r="3.4"/><circle cx="114.52" cy="25.3" r="3.4"/><circle cx="117.38" cy="25.34" r="3.4"/><circle cx="120.23" cy="25.93" r="3.4"/><circle cx="123.08" cy="26.52" r="3.4"/><circle cx="125.93" cy="27.69" r="3.4"/><circle cx="128.77" cy="28.29" r="3.4"/><circle cx="131.61" cy="29.2" r="3.4"/><circle cx="134.45" cy="30.35" r="3.4"/><circle cx="137.29" cy="31.18" r="3.4"/><circle cx="140.13" cy="32.39" r="3.4"/><circle cx="142.96" cy="33.46" r="3.4"/><circle cx="145.8" cy="34.71" r="3.4"/><circle cx="148.63" cy="36.37" r="3.4"/><circle cx="151.45" cy="37.12" r="3.4"/><circle cx="154.28" cy="38.63" r="3.4"/><circle cx="157.1" cy="40.07" r="3.4"/><circle cx="159.93" cy="41.84" r="3.4"/><circle cx="162.75" cy="43.56" r="3.4"/><circle cx="165.56" cy="45.62" r="3.4"/><circle cx="168.38" cy="48.06" r="3.4"/><circle cx="171.19" cy="51" r="3.4"/><circle cx="174" cy="54.54" r="3.4"/><circle cx="176.81" cy="59.94" r="3.4"/><circle cx="179.62" cy="66.31" r="3.4"/><circle cx="181.2" cy="70.83" r="3.4"/><circle cx="58.47" cy="14.94" r="3.4"/><circle cx="61.37" cy="15.29" r="3.4"/><circle cx="64.26" cy="15.44" r="3.4"/><circle cx="67.15" cy="16.14" r="3.4"/><circle cx="70.04" cy="16.34" r="3.4"/><circle cx="72.93" cy="17.23" r="3.4"/><circle cx="75.81" cy="18.03" r="3.4"/><circle cx="78.69" cy="17.7" r="3.4"/><circle cx="81.57" cy="17.87" r="3.4"/><circle cx="84.45" cy="18.86" r="3.4"/><circle cx="87.33" cy="19.64" r="3.4"/><circle cx="90.2" cy="20.41" r="3.4"/><circle cx="93.07" cy="21.06" r="3.4"/><circle cx="95.94" cy="21.29" r="3.4"/><circle cx="98.81" cy="22.02" r="3.4"/><circle cx="101.68" cy="23.29" r="3.4"/><circle cx="104.54" cy="23.49" r="3.4"/><circle cx="107.4" cy="24.9" r="3.4"/><circle cx="110.26" cy="25.3" r="3.4"/><circle cx="113.12" cy="26.07" r="3.4"/><circle cx="115.97" cy="26.48" r="3.4"/><circle cx="118.82" cy="26.94" r="3.4"/><circle cx="121.68" cy="27.5" r="3.4"/><circle cx="124.52" cy="27.79" r="3.4"/><circle cx="127.37" cy="29.03" r="3.4"/><circle cx="130.21" cy="29.96" r="3.4"/><circle cx="133.06" cy="31.06" r="3.4"/><circle cx="135.89" cy="32.29" r="3.4"/><circle cx="138.73" cy="32.95" r="3.4"/><circle cx="141.57" cy="33.92" r="3.4"/><circle cx="144.4" cy="35.07" r="3.4"/><circle cx="147.23" cy="36.39" r="3.4"/><circle cx="150.06" cy="37.94" r="3.4"/><circle cx="152.89" cy="38.92" r="3.4"/><circle cx="155.71" cy="40.86" r="3.4"/><circle cx="157.2" cy="41.44" r="3.4"/><circle cx="184.1" cy="87.6" r="3.4"/><circle cx="186.8" cy="85.1" r="3.4"/><circle cx="213.1" cy="43.46" r="3.4"/><circle cx="215.92" cy="42.16" r="3.4"/><circle cx="218.74" cy="41.67" r="3.4"/><circle cx="221.57" cy="40.98" r="3.4"/><circle cx="224.39" cy="39.58" r="3.4"/><circle cx="227.22" cy="39.52" r="3.4"/><circle cx="230.05" cy="38.84" r="3.4"/><circle cx="232.89" cy="37.74" r="3.4"/><circle cx="235.72" cy="37.02" r="3.4"/><circle cx="238.56" cy="36.75" r="3.4"/><circle cx="241.4" cy="35.72" r="3.4"/><circle cx="244.24" cy="34.46" r="3.4"/><circle cx="247.08" cy="33.99" r="3.4"/><circle cx="249.93" cy="33.3" r="3.4"/><circle cx="252.78" cy="32.65" r="3.4"/><circle cx="255.63" cy="31.48" r="3.4"/><circle cx="258.48" cy="31.7" r="3.4"/><circle cx="261.33" cy="30.87" r="3.4"/><circle cx="264.19" cy="30.67" r="3.4"/><circle cx="267.05" cy="30.23" r="3.4"/><circle cx="269.91" cy="30.15" r="3.4"/><circle cx="272.77" cy="29.54" r="3.4"/><circle cx="275.64" cy="29.11" r="3.4"/><circle cx="278.51" cy="29.14" r="3.4"/><circle cx="281.37" cy="29.07" r="3.4"/><circle cx="284.25" cy="28.36" r="3.4"/><circle cx="287.12" cy="28.51" r="3.4"/><circle cx="290" cy="27.97" r="3.4"/><circle cx="292.87" cy="27.49" r="3.4"/><circle cx="295.75" cy="27.73" r="3.4"/><circle cx="298.64" cy="26.9" r="3.4"/><circle cx="301.52" cy="27.15" r="3.4"/><circle cx="304.41" cy="26.57" r="3.4"/><circle cx="307.3" cy="26.62" r="3.4"/><circle cx="310.19" cy="26.03" r="3.4"/><circle cx="312.7" cy="25.99" r="3.4"/><circle cx="189.1" cy="71.16" r="3.4"/><circle cx="191.9" cy="63.31" r="3.4"/><circle cx="194.71" cy="57.37" r="3.4"/><circle cx="197.51" cy="53.25" r="3.4"/><circle cx="200.32" cy="49.86" r="3.4"/><circle cx="203.13" cy="47.86" r="3.4"/><circle cx="205.95" cy="46.16" r="3.4"/><circle cx="208.76" cy="44.82" r="3.4"/><circle cx="211.58" cy="42.94" r="3.4"/><circle cx="214.4" cy="41.52" r="3.4"/><circle cx="217.22" cy="41.16" r="3.4"/><circle cx="220.04" cy="40.45" r="3.4"/><circle cx="222.87" cy="39.18" r="3.4"/><circle cx="225.69" cy="38.56" r="3.4"/><circle cx="228.52" cy="37.72" r="3.4"/><circle cx="231.36" cy="37.07" r="3.4"/><circle cx="234.19" cy="35.73" r="3.4"/><circle cx="237.03" cy="35.75" r="3.4"/><circle cx="239.86" cy="34.49" r="3.4"/><circle cx="242.71" cy="34.19" r="3.4"/><circle cx="245.55" cy="33.18" r="3.4"/><circle cx="248.39" cy="32.39" r="3.4"/><circle cx="251.24" cy="31.8" r="3.4"/><circle cx="254.09" cy="31.43" r="3.4"/><circle cx="256.94" cy="30.39" r="3.4"/><circle cx="259.79" cy="29.99" r="3.4"/><circle cx="262.65" cy="29.52" r="3.4"/><circle cx="265.51" cy="28.83" r="3.4"/><circle cx="268.36" cy="29.23" r="3.4"/><circle cx="271.23" cy="28.73" r="3.4"/><circle cx="274.09" cy="28.27" r="3.4"/><circle cx="276.96" cy="28.26" r="3.4"/><circle cx="279.82" cy="27.43" r="3.4"/><circle cx="282.7" cy="27.37" r="3.4"/><circle cx="285.57" cy="27.55" r="3.4"/><circle cx="288.44" cy="27.09" r="3.4"/><circle cx="291.32" cy="26.02" r="3.4"/><circle cx="294.2" cy="25.47" r="3.4"/><circle cx="297.08" cy="25.77" r="3.4"/><circle cx="299.96" cy="26.07" r="3.4"/><circle cx="302.85" cy="25.48" r="3.4"/><circle cx="305.74" cy="25.35" r="3.4"/><circle cx="308.63" cy="25.38" r="3.4"/><circle cx="311.52" cy="24.84" r="3.4"/><circle cx="314.41" cy="25.47" r="3.4"/><circle cx="317.2" cy="25.5" r="3.4"/></g>
<g fill="none" stroke="#808080" stroke-width="1.5"><circle cx="224.2" cy="123.5" r="3.5"/></g>
<text stroke="#000" stroke-width="0.15" x="232.6" y="127.9" font-size="12.4" text-anchor="start" font-weight="bold" fill="#000" >ZnO</text>
<g fill="none" stroke="#d4a83a" stroke-width="1.5"><circle cx="224.2" cy="142.7" r="3.5"/></g>
<text stroke="#000" stroke-width="0.15" x="232.6" y="147.1" font-size="12.4" text-anchor="start" font-weight="bold" fill="#000" >Al/ZnO-300</text>
<g fill="none" stroke="#f07c84" stroke-width="1.5"><circle cx="224.2" cy="161.9" r="3.5"/></g>
<text stroke="#000" stroke-width="0.15" x="232.6" y="166.3" font-size="12.4" text-anchor="start" font-weight="bold" fill="#000" >Al/ZnO-400</text>
<g fill="none" stroke="#3b69b3" stroke-width="1.5"><circle cx="224.2" cy="181.1" r="3.5"/></g>
<text stroke="#000" stroke-width="0.15" x="232.6" y="185.5" font-size="12.4" text-anchor="start" font-weight="bold" fill="#000" >Al/ZnO-500</text>
<polyline fill="none" stroke="#7f7f7f" stroke-width="1" points="417.65,64.86 419.47,65.18 421.29,65.98 423.12,66.65 424.95,67.34 426.78,67.49 428.61,67.76 430.45,68.15 432.29,69.06 434.13,69.78 435.98,69.82 437.83,69.83 439.68,70.37 441.54,71.59 443.4,71.62 445.26,71.47 447.13,72.38 449,72.45 450.87,72.97 452.74,73.34 454.62,73.56 456.5,74.21 458.39,74.3 460.27,74.43 462.16,75.05 464.06,75.54 465.95,75.24 467.85,76.19 469.8,76.62 471.79,77.6 473.82,78.06 475.9,79.3 478.03,80.14 480.21,80.9 482.45,81.47 484.73,82.36 487.07,82.8 489.46,83.43 491.91,84.77 494.41,85.5 496.97,87.57 499.59,89.04 502.25,90 504.95,92.56 507.69,94.08 510.48,96.33 513.31,98.2 516.19,99.48 519.11,102.05 522.08,104.33 525.05,107.34 527.96,109.72 530.8,113.81 533.57,117.31 536.28,122.36 538.96,128.62 540.5,133.43 545,152 548,165 553,125.17 555.66,121.82 558.34,117.6 561.05,114.31 563.82,111.35 566.65,108.44 569.55,106.48 572.52,105 575.49,102.68 578.42,101.08 581.3,99.12 584.14,97.4 586.93,95.21 589.67,93.42 592.37,91.74 595.03,89.96 597.65,88.01 600.21,86.91 602.71,84.78 605.15,83.59 607.54,82.53 609.87,82.33 612.15,81.19 614.37,80.31 616.54,79.63 618.66,79.5 620.73,78.52 622.76,77.95 624.73,78.04 626.66,77.06 628.56,76.91 630.46,76.6 632.35,76.1 634.24,75.86 636.13,75.95 638.01,75.08 639.89,74.55 641.77,74.08 643.64,74.28 645.51,73.95 647.38,73.84 649.24,73.33 651.1,73.03 652.96,72.64 654.82,72.38 656.67,72.24 658.52,71.74 660.36,71.54 662.21,71.73 664.04,70.95 665.88,69.98 667.71,70.61 669.55,69.83 671.37,69.08 673.2,69.26 675.02,68.62 677.5,67.92"/>
<g fill="#fff" stroke="#7f7f7f" stroke-width="1.9"><circle cx="417.65" cy="64.86" r="3.4"/><circle cx="419.47" cy="65.18" r="3.4"/><circle cx="421.29" cy="65.98" r="3.4"/><circle cx="423.12" cy="66.65" r="3.4"/><circle cx="424.95" cy="67.34" r="3.4"/><circle cx="426.78" cy="67.49" r="3.4"/><circle cx="428.61" cy="67.76" r="3.4"/><circle cx="430.45" cy="68.15" r="3.4"/><circle cx="432.29" cy="69.06" r="3.4"/><circle cx="434.13" cy="69.78" r="3.4"/><circle cx="435.98" cy="69.82" r="3.4"/><circle cx="437.83" cy="69.83" r="3.4"/><circle cx="439.68" cy="70.37" r="3.4"/><circle cx="441.54" cy="71.59" r="3.4"/><circle cx="443.4" cy="71.62" r="3.4"/><circle cx="445.26" cy="71.47" r="3.4"/><circle cx="447.13" cy="72.38" r="3.4"/><circle cx="449" cy="72.45" r="3.4"/><circle cx="450.87" cy="72.97" r="3.4"/><circle cx="452.74" cy="73.34" r="3.4"/><circle cx="454.62" cy="73.56" r="3.4"/><circle cx="456.5" cy="74.21" r="3.4"/><circle cx="458.39" cy="74.3" r="3.4"/><circle cx="460.27" cy="74.43" r="3.4"/><circle cx="462.16" cy="75.05" r="3.4"/><circle cx="464.06" cy="75.54" r="3.4"/><circle cx="465.95" cy="75.24" r="3.4"/><circle cx="467.85" cy="76.19" r="3.4"/><circle cx="469.8" cy="76.62" r="3.4"/><circle cx="471.79" cy="77.6" r="3.4"/><circle cx="473.82" cy="78.06" r="3.4"/><circle cx="475.9" cy="79.3" r="3.4"/><circle cx="478.03" cy="80.14" r="3.4"/><circle cx="480.21" cy="80.9" r="3.4"/><circle cx="482.45" cy="81.47" r="3.4"/><circle cx="484.73" cy="82.36" r="3.4"/><circle cx="487.07" cy="82.8" r="3.4"/><circle cx="489.46" cy="83.43" r="3.4"/><circle cx="491.91" cy="84.77" r="3.4"/><circle cx="494.41" cy="85.5" r="3.4"/><circle cx="496.97" cy="87.57" r="3.4"/><circle cx="499.59" cy="89.04" r="3.4"/><circle cx="502.25" cy="90" r="3.4"/><circle cx="504.95" cy="92.56" r="3.4"/><circle cx="507.69" cy="94.08" r="3.4"/><circle cx="510.48" cy="96.33" r="3.4"/><circle cx="513.31" cy="98.2" r="3.4"/><circle cx="516.19" cy="99.48" r="3.4"/><circle cx="519.11" cy="102.05" r="3.4"/><circle cx="522.08" cy="104.33" r="3.4"/><circle cx="525.05" cy="107.34" r="3.4"/><circle cx="527.96" cy="109.72" r="3.4"/><circle cx="530.8" cy="113.81" r="3.4"/><circle cx="533.57" cy="117.31" r="3.4"/><circle cx="536.28" cy="122.36" r="3.4"/><circle cx="538.96" cy="128.62" r="3.4"/><circle cx="540.5" cy="133.43" r="3.4"/><circle cx="545" cy="152" r="3.4"/><circle cx="548" cy="165" r="3.4"/><circle cx="553" cy="125.17" r="3.4"/><circle cx="555.66" cy="121.82" r="3.4"/><circle cx="558.34" cy="117.6" r="3.4"/><circle cx="561.05" cy="114.31" r="3.4"/><circle cx="563.82" cy="111.35" r="3.4"/><circle cx="566.65" cy="108.44" r="3.4"/><circle cx="569.55" cy="106.48" r="3.4"/><circle cx="572.52" cy="105" r="3.4"/><circle cx="575.49" cy="102.68" r="3.4"/><circle cx="578.42" cy="101.08" r="3.4"/><circle cx="581.3" cy="99.12" r="3.4"/><circle cx="584.14" cy="97.4" r="3.4"/><circle cx="586.93" cy="95.21" r="3.4"/><circle cx="589.67" cy="93.42" r="3.4"/><circle cx="592.37" cy="91.74" r="3.4"/><circle cx="595.03" cy="89.96" r="3.4"/><circle cx="597.65" cy="88.01" r="3.4"/><circle cx="600.21" cy="86.91" r="3.4"/><circle cx="602.71" cy="84.78" r="3.4"/><circle cx="605.15" cy="83.59" r="3.4"/><circle cx="607.54" cy="82.53" r="3.4"/><circle cx="609.87" cy="82.33" r="3.4"/><circle cx="612.15" cy="81.19" r="3.4"/><circle cx="614.37" cy="80.31" r="3.4"/><circle cx="616.54" cy="79.63" r="3.4"/><circle cx="618.66" cy="79.5" r="3.4"/><circle cx="620.73" cy="78.52" r="3.4"/><circle cx="622.76" cy="77.95" r="3.4"/><circle cx="624.73" cy="78.04" r="3.4"/><circle cx="626.66" cy="77.06" r="3.4"/><circle cx="628.56" cy="76.91" r="3.4"/><circle cx="630.46" cy="76.6" r="3.4"/><circle cx="632.35" cy="76.1" r="3.4"/><circle cx="634.24" cy="75.86" r="3.4"/><circle cx="636.13" cy="75.95" r="3.4"/><circle cx="638.01" cy="75.08" r="3.4"/><circle cx="639.89" cy="74.55" r="3.4"/><circle cx="641.77" cy="74.08" r="3.4"/><circle cx="643.64" cy="74.28" r="3.4"/><circle cx="645.51" cy="73.95" r="3.4"/><circle cx="647.38" cy="73.84" r="3.4"/><circle cx="649.24" cy="73.33" r="3.4"/><circle cx="651.1" cy="73.03" r="3.4"/><circle cx="652.96" cy="72.64" r="3.4"/><circle cx="654.82" cy="72.38" r="3.4"/><circle cx="656.67" cy="72.24" r="3.4"/><circle cx="658.52" cy="71.74" r="3.4"/><circle cx="660.36" cy="71.54" r="3.4"/><circle cx="662.21" cy="71.73" r="3.4"/><circle cx="664.04" cy="70.95" r="3.4"/><circle cx="665.88" cy="69.98" r="3.4"/><circle cx="667.71" cy="70.61" r="3.4"/><circle cx="669.55" cy="69.83" r="3.4"/><circle cx="671.37" cy="69.08" r="3.4"/><circle cx="673.2" cy="69.26" r="3.4"/><circle cx="675.02" cy="68.62" r="3.4"/><circle cx="677.5" cy="67.92" r="3.4"/></g>
<polyline fill="none" stroke="#e8792a" stroke-width="1" points="417.65,60.31 419.47,60.65 421.29,61.41 423.12,62.16 424.95,62.19 426.78,62.87 428.61,63.76 430.45,63.29 432.29,64.19 434.13,64.49 435.98,64.73 437.83,65.2 439.68,65.97 441.54,66.58 443.4,66.76 445.26,67.41 447.13,68.08 449,68.43 450.87,69.08 452.74,69.44 454.62,69.92 456.5,70.8 458.39,70.92 460.27,71.26 462.16,71.94 464.06,71.96 465.95,72.67 467.85,73.56 469.8,74.1 471.79,74.98 473.82,75.14 475.9,75.32 478.03,76.97 480.21,77.3 482.45,77.25 484.73,78.62 487.07,78.95 489.46,79.25 491.91,80.67 494.41,81.8 496.97,83.77 499.59,84.61 502.25,86.79 504.95,89.21 507.69,91.79 510.48,94.15 513.31,96.87 516.19,99.53 519.11,101.89 522.08,104.09 525.05,106.56 527.96,110.2 530.8,116.12 533.57,124.35 535.5,130.5 541.9,173 548.5,183.7 553.9,126.59 556.57,122.39 559.25,117.79 561.98,114.22 564.77,111.06 567.63,106.9 570.55,103.92 573.54,100.6 576.5,97.9 579.41,94.97 582.28,92.65 585.1,90.86 587.87,89.82 590.6,88.35 593.29,86.07 595.93,84.53 598.53,84.19 601.08,81.69 603.56,80.54 605.98,79.64 608.35,78.79 610.66,78.05 612.92,76.99 615.12,75.76 617.28,75.36 619.38,74.51 621.43,74.26 623.44,73.01 625.4,71.97 627.31,71.46 629.21,71.65 631.11,70.54 633,69.58 634.89,69.57 636.77,69.3 638.65,69.22 640.53,68.15 642.41,68.25 644.28,67.89 646.15,67.06 648.02,66.84 649.88,67.05 651.74,66.67 653.6,66.04 655.45,65.51 657.3,65.38 659.15,64.63 661,64.29 662.84,63.7 664.68,63.61 666.51,63.24 668.34,63.76 670.17,62.53 672,62.64 673.82,62.33 675.64,61.56 677.5,61.65"/>
<g fill="#fff" stroke="#e8792a" stroke-width="1.9"><circle cx="417.65" cy="60.31" r="3.4"/><circle cx="419.47" cy="60.65" r="3.4"/><circle cx="421.29" cy="61.41" r="3.4"/><circle cx="423.12" cy="62.16" r="3.4"/><circle cx="424.95" cy="62.19" r="3.4"/><circle cx="426.78" cy="62.87" r="3.4"/><circle cx="428.61" cy="63.76" r="3.4"/><circle cx="430.45" cy="63.29" r="3.4"/><circle cx="432.29" cy="64.19" r="3.4"/><circle cx="434.13" cy="64.49" r="3.4"/><circle cx="435.98" cy="64.73" r="3.4"/><circle cx="437.83" cy="65.2" r="3.4"/><circle cx="439.68" cy="65.97" r="3.4"/><circle cx="441.54" cy="66.58" r="3.4"/><circle cx="443.4" cy="66.76" r="3.4"/><circle cx="445.26" cy="67.41" r="3.4"/><circle cx="447.13" cy="68.08" r="3.4"/><circle cx="449" cy="68.43" r="3.4"/><circle cx="450.87" cy="69.08" r="3.4"/><circle cx="452.74" cy="69.44" r="3.4"/><circle cx="454.62" cy="69.92" r="3.4"/><circle cx="456.5" cy="70.8" r="3.4"/><circle cx="458.39" cy="70.92" r="3.4"/><circle cx="460.27" cy="71.26" r="3.4"/><circle cx="462.16" cy="71.94" r="3.4"/><circle cx="464.06" cy="71.96" r="3.4"/><circle cx="465.95" cy="72.67" r="3.4"/><circle cx="467.85" cy="73.56" r="3.4"/><circle cx="469.8" cy="74.1" r="3.4"/><circle cx="471.79" cy="74.98" r="3.4"/><circle cx="473.82" cy="75.14" r="3.4"/><circle cx="475.9" cy="75.32" r="3.4"/><circle cx="478.03" cy="76.97" r="3.4"/><circle cx="480.21" cy="77.3" r="3.4"/><circle cx="482.45" cy="77.25" r="3.4"/><circle cx="484.73" cy="78.62" r="3.4"/><circle cx="487.07" cy="78.95" r="3.4"/><circle cx="489.46" cy="79.25" r="3.4"/><circle cx="491.91" cy="80.67" r="3.4"/><circle cx="494.41" cy="81.8" r="3.4"/><circle cx="496.97" cy="83.77" r="3.4"/><circle cx="499.59" cy="84.61" r="3.4"/><circle cx="502.25" cy="86.79" r="3.4"/><circle cx="504.95" cy="89.21" r="3.4"/><circle cx="507.69" cy="91.79" r="3.4"/><circle cx="510.48" cy="94.15" r="3.4"/><circle cx="513.31" cy="96.87" r="3.4"/><circle cx="516.19" cy="99.53" r="3.4"/><circle cx="519.11" cy="101.89" r="3.4"/><circle cx="522.08" cy="104.09" r="3.4"/><circle cx="525.05" cy="106.56" r="3.4"/><circle cx="527.96" cy="110.2" r="3.4"/><circle cx="530.8" cy="116.12" r="3.4"/><circle cx="533.57" cy="124.35" r="3.4"/><circle cx="535.5" cy="130.5" r="3.4"/><circle cx="541.9" cy="173" r="3.4"/><circle cx="548.5" cy="183.7" r="3.4"/><circle cx="553.9" cy="126.59" r="3.4"/><circle cx="556.57" cy="122.39" r="3.4"/><circle cx="559.25" cy="117.79" r="3.4"/><circle cx="561.98" cy="114.22" r="3.4"/><circle cx="564.77" cy="111.06" r="3.4"/><circle cx="567.63" cy="106.9" r="3.4"/><circle cx="570.55" cy="103.92" r="3.4"/><circle cx="573.54" cy="100.6" r="3.4"/><circle cx="576.5" cy="97.9" r="3.4"/><circle cx="579.41" cy="94.97" r="3.4"/><circle cx="582.28" cy="92.65" r="3.4"/><circle cx="585.1" cy="90.86" r="3.4"/><circle cx="587.87" cy="89.82" r="3.4"/><circle cx="590.6" cy="88.35" r="3.4"/><circle cx="593.29" cy="86.07" r="3.4"/><circle cx="595.93" cy="84.53" r="3.4"/><circle cx="598.53" cy="84.19" r="3.4"/><circle cx="601.08" cy="81.69" r="3.4"/><circle cx="603.56" cy="80.54" r="3.4"/><circle cx="605.98" cy="79.64" r="3.4"/><circle cx="608.35" cy="78.79" r="3.4"/><circle cx="610.66" cy="78.05" r="3.4"/><circle cx="612.92" cy="76.99" r="3.4"/><circle cx="615.12" cy="75.76" r="3.4"/><circle cx="617.28" cy="75.36" r="3.4"/><circle cx="619.38" cy="74.51" r="3.4"/><circle cx="621.43" cy="74.26" r="3.4"/><circle cx="623.44" cy="73.01" r="3.4"/><circle cx="625.4" cy="71.97" r="3.4"/><circle cx="627.31" cy="71.46" r="3.4"/><circle cx="629.21" cy="71.65" r="3.4"/><circle cx="631.11" cy="70.54" r="3.4"/><circle cx="633" cy="69.58" r="3.4"/><circle cx="634.89" cy="69.57" r="3.4"/><circle cx="636.77" cy="69.3" r="3.4"/><circle cx="638.65" cy="69.22" r="3.4"/><circle cx="640.53" cy="68.15" r="3.4"/><circle cx="642.41" cy="68.25" r="3.4"/><circle cx="644.28" cy="67.89" r="3.4"/><circle cx="646.15" cy="67.06" r="3.4"/><circle cx="648.02" cy="66.84" r="3.4"/><circle cx="649.88" cy="67.05" r="3.4"/><circle cx="651.74" cy="66.67" r="3.4"/><circle cx="653.6" cy="66.04" r="3.4"/><circle cx="655.45" cy="65.51" r="3.4"/><circle cx="657.3" cy="65.38" r="3.4"/><circle cx="659.15" cy="64.63" r="3.4"/><circle cx="661" cy="64.29" r="3.4"/><circle cx="662.84" cy="63.7" r="3.4"/><circle cx="664.68" cy="63.61" r="3.4"/><circle cx="666.51" cy="63.24" r="3.4"/><circle cx="668.34" cy="63.76" r="3.4"/><circle cx="670.17" cy="62.53" r="3.4"/><circle cx="672" cy="62.64" r="3.4"/><circle cx="673.82" cy="62.33" r="3.4"/><circle cx="675.64" cy="61.56" r="3.4"/><circle cx="677.5" cy="61.65" r="3.4"/></g>
<polyline fill="none" stroke="#f0808a" stroke-width="1" points="417.65,55.45 419.47,56.42 421.29,56.96 423.12,56.3 424.95,57 426.78,58 428.61,57.95 430.45,58.06 432.29,58.64 434.13,58.96 435.98,59.71 437.83,60.02 439.68,60.19 441.54,60.46 443.4,61.05 445.26,61.89 447.13,62.05 449,62.62 450.87,62.9 452.74,63.14 454.62,63.94 456.5,65.02 458.39,65.55 460.27,65.96 462.16,66.47 464.06,67.71 465.95,68.29 467.85,68.98 469.8,69.7 471.79,70.64 473.82,71.47 475.9,72.6 478.03,73.68 480.21,75.11 482.45,76.44 484.73,77.72 487.07,79.51 489.46,81.39 491.91,82.8 494.41,84.64 496.97,86.48 499.59,87.83 502.25,89.84 504.95,93.26 507.69,95.51 510.48,98.45 513.31,100.93 516.19,105.6 519.11,109.43 522.08,113.33 525.05,117.71 527.96,122.66 530.8,128.34 533.57,135.02 536.28,142.74 538.96,155.71 541.62,170.11 544.26,181.92 545.5,186.43 549.8,169.79 552.43,157.77 555.09,146.26 557.76,136.06 560.46,126.85 563.22,119.71 566.04,115.72 568.92,111.37 571.87,107.35 574.86,103.75 577.8,100.93 580.69,98.32 583.53,95.43 586.33,92.94 589.09,91.61 591.8,88.83 594.47,87.46 597.09,85.32 599.67,83.63 602.18,82.33 604.64,81.44 607.03,80.51 609.38,79.08 611.66,77.98 613.9,76.51 616.08,74.02 618.21,72.26 620.29,71.2 622.33,70.15 624.31,69.53 626.25,68.75 628.15,67.87 630.05,67.74 631.94,66.15 633.83,65.94 635.72,66.38 637.6,65.53 639.48,64.81 641.36,64.22 643.24,64.04 645.11,63.1 646.97,62.39 648.84,61.43 650.7,61.22 652.56,60.48 654.42,59.95 656.27,59.43 658.12,59.12 659.96,58.52 661.81,58.38 663.65,57.23 665.49,57.08 667.32,57.21 669.15,56.19 670.98,56.07 672.8,55.59 674.63,55.19 676.45,54.58 677.5,53.69"/>
<g fill="#fff" stroke="#f0808a" stroke-width="1.9"><circle cx="417.65" cy="55.45" r="3.4"/><circle cx="419.47" cy="56.42" r="3.4"/><circle cx="421.29" cy="56.96" r="3.4"/><circle cx="423.12" cy="56.3" r="3.4"/><circle cx="424.95" cy="57" r="3.4"/><circle cx="426.78" cy="58" r="3.4"/><circle cx="428.61" cy="57.95" r="3.4"/><circle cx="430.45" cy="58.06" r="3.4"/><circle cx="432.29" cy="58.64" r="3.4"/><circle cx="434.13" cy="58.96" r="3.4"/><circle cx="435.98" cy="59.71" r="3.4"/><circle cx="437.83" cy="60.02" r="3.4"/><circle cx="439.68" cy="60.19" r="3.4"/><circle cx="441.54" cy="60.46" r="3.4"/><circle cx="443.4" cy="61.05" r="3.4"/><circle cx="445.26" cy="61.89" r="3.4"/><circle cx="447.13" cy="62.05" r="3.4"/><circle cx="449" cy="62.62" r="3.4"/><circle cx="450.87" cy="62.9" r="3.4"/><circle cx="452.74" cy="63.14" r="3.4"/><circle cx="454.62" cy="63.94" r="3.4"/><circle cx="456.5" cy="65.02" r="3.4"/><circle cx="458.39" cy="65.55" r="3.4"/><circle cx="460.27" cy="65.96" r="3.4"/><circle cx="462.16" cy="66.47" r="3.4"/><circle cx="464.06" cy="67.71" r="3.4"/><circle cx="465.95" cy="68.29" r="3.4"/><circle cx="467.85" cy="68.98" r="3.4"/><circle cx="469.8" cy="69.7" r="3.4"/><circle cx="471.79" cy="70.64" r="3.4"/><circle cx="473.82" cy="71.47" r="3.4"/><circle cx="475.9" cy="72.6" r="3.4"/><circle cx="478.03" cy="73.68" r="3.4"/><circle cx="480.21" cy="75.11" r="3.4"/><circle cx="482.45" cy="76.44" r="3.4"/><circle cx="484.73" cy="77.72" r="3.4"/><circle cx="487.07" cy="79.51" r="3.4"/><circle cx="489.46" cy="81.39" r="3.4"/><circle cx="491.91" cy="82.8" r="3.4"/><circle cx="494.41" cy="84.64" r="3.4"/><circle cx="496.97" cy="86.48" r="3.4"/><circle cx="499.59" cy="87.83" r="3.4"/><circle cx="502.25" cy="89.84" r="3.4"/><circle cx="504.95" cy="93.26" r="3.4"/><circle cx="507.69" cy="95.51" r="3.4"/><circle cx="510.48" cy="98.45" r="3.4"/><circle cx="513.31" cy="100.93" r="3.4"/><circle cx="516.19" cy="105.6" r="3.4"/><circle cx="519.11" cy="109.43" r="3.4"/><circle cx="522.08" cy="113.33" r="3.4"/><circle cx="525.05" cy="117.71" r="3.4"/><circle cx="527.96" cy="122.66" r="3.4"/><circle cx="530.8" cy="128.34" r="3.4"/><circle cx="533.57" cy="135.02" r="3.4"/><circle cx="536.28" cy="142.74" r="3.4"/><circle cx="538.96" cy="155.71" r="3.4"/><circle cx="541.62" cy="170.11" r="3.4"/><circle cx="544.26" cy="181.92" r="3.4"/><circle cx="545.5" cy="186.43" r="3.4"/><circle cx="549.8" cy="169.79" r="3.4"/><circle cx="552.43" cy="157.77" r="3.4"/><circle cx="555.09" cy="146.26" r="3.4"/><circle cx="557.76" cy="136.06" r="3.4"/><circle cx="560.46" cy="126.85" r="3.4"/><circle cx="563.22" cy="119.71" r="3.4"/><circle cx="566.04" cy="115.72" r="3.4"/><circle cx="568.92" cy="111.37" r="3.4"/><circle cx="571.87" cy="107.35" r="3.4"/><circle cx="574.86" cy="103.75" r="3.4"/><circle cx="577.8" cy="100.93" r="3.4"/><circle cx="580.69" cy="98.32" r="3.4"/><circle cx="583.53" cy="95.43" r="3.4"/><circle cx="586.33" cy="92.94" r="3.4"/><circle cx="589.09" cy="91.61" r="3.4"/><circle cx="591.8" cy="88.83" r="3.4"/><circle cx="594.47" cy="87.46" r="3.4"/><circle cx="597.09" cy="85.32" r="3.4"/><circle cx="599.67" cy="83.63" r="3.4"/><circle cx="602.18" cy="82.33" r="3.4"/><circle cx="604.64" cy="81.44" r="3.4"/><circle cx="607.03" cy="80.51" r="3.4"/><circle cx="609.38" cy="79.08" r="3.4"/><circle cx="611.66" cy="77.98" r="3.4"/><circle cx="613.9" cy="76.51" r="3.4"/><circle cx="616.08" cy="74.02" r="3.4"/><circle cx="618.21" cy="72.26" r="3.4"/><circle cx="620.29" cy="71.2" r="3.4"/><circle cx="622.33" cy="70.15" r="3.4"/><circle cx="624.31" cy="69.53" r="3.4"/><circle cx="626.25" cy="68.75" r="3.4"/><circle cx="628.15" cy="67.87" r="3.4"/><circle cx="630.05" cy="67.74" r="3.4"/><circle cx="631.94" cy="66.15" r="3.4"/><circle cx="633.83" cy="65.94" r="3.4"/><circle cx="635.72" cy="66.38" r="3.4"/><circle cx="637.6" cy="65.53" r="3.4"/><circle cx="639.48" cy="64.81" r="3.4"/><circle cx="641.36" cy="64.22" r="3.4"/><circle cx="643.24" cy="64.04" r="3.4"/><circle cx="645.11" cy="63.1" r="3.4"/><circle cx="646.97" cy="62.39" r="3.4"/><circle cx="648.84" cy="61.43" r="3.4"/><circle cx="650.7" cy="61.22" r="3.4"/><circle cx="652.56" cy="60.48" r="3.4"/><circle cx="654.42" cy="59.95" r="3.4"/><circle cx="656.27" cy="59.43" r="3.4"/><circle cx="658.12" cy="59.12" r="3.4"/><circle cx="659.96" cy="58.52" r="3.4"/><circle cx="661.81" cy="58.38" r="3.4"/><circle cx="663.65" cy="57.23" r="3.4"/><circle cx="665.49" cy="57.08" r="3.4"/><circle cx="667.32" cy="57.21" r="3.4"/><circle cx="669.15" cy="56.19" r="3.4"/><circle cx="670.98" cy="56.07" r="3.4"/><circle cx="672.8" cy="55.59" r="3.4"/><circle cx="674.63" cy="55.19" r="3.4"/><circle cx="676.45" cy="54.58" r="3.4"/><circle cx="677.5" cy="53.69" r="3.4"/></g>
<polyline fill="none" stroke="#3b69b3" stroke-width="1" points="417.65,14.52 419.47,14.71 421.29,14.61 423.12,15.22 424.95,15.29 426.78,15.49 428.61,16.4 430.45,16.7 432.29,16.89 434.13,17.22 435.98,17.76 437.83,18.24 439.68,18.7 441.54,19.32 443.4,19.76 445.26,20.6 447.13,21.27 449,21.88 450.87,22.26 452.74,22.98 454.62,24.01 456.5,24.55 458.39,25.33 460.27,25.32 462.16,25.98 464.06,27.59 465.95,28.28 467.85,29.26 469.8,29.73 471.79,30.26 473.82,30.9 475.9,31.2 478.03,32.66 480.21,33.04 482.45,34.28 484.73,35.17 487.07,36.3 489.46,37.74 491.91,38.73 494.41,40.31 496.97,41.88 499.59,43.87 502.25,46.53 504.95,48.2 507.69,51.19 510.48,53.84 513.31,56.94 516.19,60.48 519.11,63.79 522.08,68.59 525.05,74.19 527.96,80.56 530.8,90.57 533.57,97.65 536.28,107.7 538.96,120.25 541.9,143.28 547,163 544.8,179.5 549.8,142.69 552.43,129.01 555.09,116.01 557.76,104.14 560.46,93.18 563.22,83.96 566.04,76.25 568.92,70.77 571.87,65.98 574.86,60.88 577.8,56.88 580.69,53.48 583.53,50.49 586.33,48.11 589.09,46.34 591.8,44.55 594.47,42.32 597.09,40.75 599.67,39.9 602.18,38.49 604.64,37.31 607.03,35.62 609.38,34.88 611.66,33.85 613.9,33.08 616.08,31.54 618.21,31.47 620.29,30.26 622.33,29.42 624.31,28.09 626.25,27.66 628.15,27.34 630.05,25.77 631.94,25.65 633.83,25.09 635.72,24.02 637.6,23.83 639.48,22.87 641.36,22.75 643.24,21.97 645.11,21.34 646.97,21.37 648.84,20.54 650.7,20.21 652.56,19.01 654.42,18.72 656.27,18.73 658.12,18.33 659.96,17.63 661.81,17.48 663.65,16.54 665.49,16.56 667.32,15.79 669.15,15.9 670.98,15.34 672.8,14.99 674.63,14.92 676.45,15.19 677.5,14.2"/>
<g fill="#fff" stroke="#3b69b3" stroke-width="1.9"><circle cx="417.65" cy="14.52" r="3.4"/><circle cx="419.47" cy="14.71" r="3.4"/><circle cx="421.29" cy="14.61" r="3.4"/><circle cx="423.12" cy="15.22" r="3.4"/><circle cx="424.95" cy="15.29" r="3.4"/><circle cx="426.78" cy="15.49" r="3.4"/><circle cx="428.61" cy="16.4" r="3.4"/><circle cx="430.45" cy="16.7" r="3.4"/><circle cx="432.29" cy="16.89" r="3.4"/><circle cx="434.13" cy="17.22" r="3.4"/><circle cx="435.98" cy="17.76" r="3.4"/><circle cx="437.83" cy="18.24" r="3.4"/><circle cx="439.68" cy="18.7" r="3.4"/><circle cx="441.54" cy="19.32" r="3.4"/><circle cx="443.4" cy="19.76" r="3.4"/><circle cx="445.26" cy="20.6" r="3.4"/><circle cx="447.13" cy="21.27" r="3.4"/><circle cx="449" cy="21.88" r="3.4"/><circle cx="450.87" cy="22.26" r="3.4"/><circle cx="452.74" cy="22.98" r="3.4"/><circle cx="454.62" cy="24.01" r="3.4"/><circle cx="456.5" cy="24.55" r="3.4"/><circle cx="458.39" cy="25.33" r="3.4"/><circle cx="460.27" cy="25.32" r="3.4"/><circle cx="462.16" cy="25.98" r="3.4"/><circle cx="464.06" cy="27.59" r="3.4"/><circle cx="465.95" cy="28.28" r="3.4"/><circle cx="467.85" cy="29.26" r="3.4"/><circle cx="469.8" cy="29.73" r="3.4"/><circle cx="471.79" cy="30.26" r="3.4"/><circle cx="473.82" cy="30.9" r="3.4"/><circle cx="475.9" cy="31.2" r="3.4"/><circle cx="478.03" cy="32.66" r="3.4"/><circle cx="480.21" cy="33.04" r="3.4"/><circle cx="482.45" cy="34.28" r="3.4"/><circle cx="484.73" cy="35.17" r="3.4"/><circle cx="487.07" cy="36.3" r="3.4"/><circle cx="489.46" cy="37.74" r="3.4"/><circle cx="491.91" cy="38.73" r="3.4"/><circle cx="494.41" cy="40.31" r="3.4"/><circle cx="496.97" cy="41.88" r="3.4"/><circle cx="499.59" cy="43.87" r="3.4"/><circle cx="502.25" cy="46.53" r="3.4"/><circle cx="504.95" cy="48.2" r="3.4"/><circle cx="507.69" cy="51.19" r="3.4"/><circle cx="510.48" cy="53.84" r="3.4"/><circle cx="513.31" cy="56.94" r="3.4"/><circle cx="516.19" cy="60.48" r="3.4"/><circle cx="519.11" cy="63.79" r="3.4"/><circle cx="522.08" cy="68.59" r="3.4"/><circle cx="525.05" cy="74.19" r="3.4"/><circle cx="527.96" cy="80.56" r="3.4"/><circle cx="530.8" cy="90.57" r="3.4"/><circle cx="533.57" cy="97.65" r="3.4"/><circle cx="536.28" cy="107.7" r="3.4"/><circle cx="538.96" cy="120.25" r="3.4"/><circle cx="541.9" cy="143.28" r="3.4"/><circle cx="547" cy="163" r="3.4"/><circle cx="544.8" cy="179.5" r="3.4"/><circle cx="549.8" cy="142.69" r="3.4"/><circle cx="552.43" cy="129.01" r="3.4"/><circle cx="555.09" cy="116.01" r="3.4"/><circle cx="557.76" cy="104.14" r="3.4"/><circle cx="560.46" cy="93.18" r="3.4"/><circle cx="563.22" cy="83.96" r="3.4"/><circle cx="566.04" cy="76.25" r="3.4"/><circle cx="568.92" cy="70.77" r="3.4"/><circle cx="571.87" cy="65.98" r="3.4"/><circle cx="574.86" cy="60.88" r="3.4"/><circle cx="577.8" cy="56.88" r="3.4"/><circle cx="580.69" cy="53.48" r="3.4"/><circle cx="583.53" cy="50.49" r="3.4"/><circle cx="586.33" cy="48.11" r="3.4"/><circle cx="589.09" cy="46.34" r="3.4"/><circle cx="591.8" cy="44.55" r="3.4"/><circle cx="594.47" cy="42.32" r="3.4"/><circle cx="597.09" cy="40.75" r="3.4"/><circle cx="599.67" cy="39.9" r="3.4"/><circle cx="602.18" cy="38.49" r="3.4"/><circle cx="604.64" cy="37.31" r="3.4"/><circle cx="607.03" cy="35.62" r="3.4"/><circle cx="609.38" cy="34.88" r="3.4"/><circle cx="611.66" cy="33.85" r="3.4"/><circle cx="613.9" cy="33.08" r="3.4"/><circle cx="616.08" cy="31.54" r="3.4"/><circle cx="618.21" cy="31.47" r="3.4"/><circle cx="620.29" cy="30.26" r="3.4"/><circle cx="622.33" cy="29.42" r="3.4"/><circle cx="624.31" cy="28.09" r="3.4"/><circle cx="626.25" cy="27.66" r="3.4"/><circle cx="628.15" cy="27.34" r="3.4"/><circle cx="630.05" cy="25.77" r="3.4"/><circle cx="631.94" cy="25.65" r="3.4"/><circle cx="633.83" cy="25.09" r="3.4"/><circle cx="635.72" cy="24.02" r="3.4"/><circle cx="637.6" cy="23.83" r="3.4"/><circle cx="639.48" cy="22.87" r="3.4"/><circle cx="641.36" cy="22.75" r="3.4"/><circle cx="643.24" cy="21.97" r="3.4"/><circle cx="645.11" cy="21.34" r="3.4"/><circle cx="646.97" cy="21.37" r="3.4"/><circle cx="648.84" cy="20.54" r="3.4"/><circle cx="650.7" cy="20.21" r="3.4"/><circle cx="652.56" cy="19.01" r="3.4"/><circle cx="654.42" cy="18.72" r="3.4"/><circle cx="656.27" cy="18.73" r="3.4"/><circle cx="658.12" cy="18.33" r="3.4"/><circle cx="659.96" cy="17.63" r="3.4"/><circle cx="661.81" cy="17.48" r="3.4"/><circle cx="663.65" cy="16.54" r="3.4"/><circle cx="665.49" cy="16.56" r="3.4"/><circle cx="667.32" cy="15.79" r="3.4"/><circle cx="669.15" cy="15.9" r="3.4"/><circle cx="670.98" cy="15.34" r="3.4"/><circle cx="672.8" cy="14.99" r="3.4"/><circle cx="674.63" cy="14.92" r="3.4"/><circle cx="676.45" cy="15.19" r="3.4"/><circle cx="677.5" cy="14.2" r="3.4"/></g>
<line x1="420" y1="121.8" x2="446.4" y2="121.8" stroke="#7f7f7f" stroke-width="1.2" />
<g fill="#fff" stroke="#7f7f7f" stroke-width="1.5"><circle cx="433.1" cy="121.8" r="3.5"/></g>
<text stroke="#000" stroke-width="0.15" x="448.5" y="126.2" font-size="12.4" text-anchor="start" font-weight="bold" fill="#000" >ZnO</text>
<line x1="420" y1="140.6" x2="446.4" y2="140.6" stroke="#e8792a" stroke-width="1.2" />
<g fill="#fff" stroke="#e8792a" stroke-width="1.5"><circle cx="433.1" cy="140.6" r="3.5"/></g>
<text stroke="#000" stroke-width="0.15" x="448.5" y="145" font-size="12.4" text-anchor="start" font-weight="bold" fill="#000" >Al/ZnO-300</text>
<line x1="420" y1="159.4" x2="446.4" y2="159.4" stroke="#f0808a" stroke-width="1.2" />
<g fill="#fff" stroke="#f0808a" stroke-width="1.5"><circle cx="433.1" cy="159.4" r="3.5"/></g>
<text stroke="#000" stroke-width="0.15" x="448.5" y="163.8" font-size="12.4" text-anchor="start" font-weight="bold" fill="#000" >Al/ZnO-400</text>
<line x1="420" y1="178.2" x2="446.4" y2="178.2" stroke="#3b69b3" stroke-width="1.2" />
<g fill="#fff" stroke="#3b69b3" stroke-width="1.5"><circle cx="433.1" cy="178.2" r="3.5"/></g>
<text stroke="#000" stroke-width="0.15" x="448.5" y="182.6" font-size="12.4" text-anchor="start" font-weight="bold" fill="#000" >Al/ZnO-500</text>
<polyline fill="none" stroke="#7a7a7a" stroke-width="1.2" points="55.5,421.52 56.51,422.18 57.52,422.11 58.53,421.24 59.54,421.35 60.55,421.24 61.56,421.78 62.57,421.47 63.58,421.87 64.59,420.58 65.6,422.28 66.61,421.45 67.62,421.84 68.63,421.43 69.64,421.31 70.65,421.73 71.66,421.91 72.67,421.4 73.68,421.42 74.69,421.84 75.7,421.06 76.71,420.74 77.72,421.7 78.73,421.16 79.74,420.54 80.75,421.09 81.76,421.27 82.77,420.9 83.78,420.75 84.79,421.52 85.8,421.95 86.81,421.38 87.82,421.13 88.83,421.69 89.84,421.86 90.85,421.35 91.86,421.77 92.87,422.02 93.88,421.4 94.89,421.09 95.9,421.67 96.91,421.62 97.92,422.05 98.93,420.86 99.94,421.17 100.95,421.08 101.96,420.63 102.97,421.56 103.98,421.76 104.99,421.13 106,422.19 107.3,418.2 109.1,407.3 110,400 111.8,391 113.6,381.8 115.5,372.7 117.3,363.6 119.1,354.5 120.3,347.88 120.3,349.68 120.57,346.6 120.57,348.4 120.85,345.32 120.85,347.12 121.13,344.05 121.13,345.85 121.42,342.77 121.42,344.57 121.7,341.5 121.7,343.3 121.99,340.22 121.99,342.02 122.28,338.95 122.28,340.75 122.57,337.67 122.57,339.47 122.86,336.4 122.86,338.2 123.14,335.12 123.14,336.92 123.43,333.85 123.43,335.65 123.72,332.57 123.72,334.37 124.01,331.3 124.01,333.1 124.29,330.02 124.29,331.82 124.58,328.75 124.58,330.55 124.86,327.47 124.86,329.27 125.14,326.19 125.14,327.99 125.42,324.92 125.42,326.72 125.7,323.64 125.7,325.44 125.99,322.37 125.99,324.17 126.3,321.1 126.3,322.9 126.63,319.83 126.63,321.63 126.98,318.57 126.98,320.37 127.34,317.32 127.34,319.12 127.72,316.07 127.72,317.87 128.11,314.82 128.11,316.62 128.51,313.58 128.51,315.38 128.91,312.33 128.91,314.13 129.32,311.09 129.32,312.89 129.75,309.86 129.75,311.66 130.19,308.63 130.19,310.43 130.68,307.41 130.68,309.21 131.19,306.21 131.19,308.01 131.74,305.03 131.74,306.83 132.31,303.85 132.31,305.65 132.9,302.68 132.9,304.48 133.5,301.52 133.5,303.32 134.12,300.37 134.12,302.17 134.74,299.22 134.74,301.02 135.35,298.07 135.35,299.87 135.97,296.92 135.97,298.72 136.59,295.77 136.59,297.57 137.23,294.63 137.23,296.43 137.9,293.5 137.9,295.3 138.59,292.4 138.59,294.2 139.34,291.32 139.34,293.12 140.12,290.28 140.12,292.08 140.93,289.25 140.93,291.05 141.77,288.25 141.77,290.05 142.64,287.27 142.64,289.07 143.53,286.31 143.53,288.11 144.43,285.37 144.43,287.17 145.34,284.44 145.34,286.24 146.28,283.52 146.28,285.32 147.23,282.63 147.23,284.43 148.21,281.76 148.21,283.56 149.21,280.93 149.21,282.73 150.25,280.13 150.25,281.93 151.31,279.37 151.31,281.17 152.4,278.64 152.4,280.44 153.49,277.93 153.49,279.73 154.6,277.23 154.6,279.03 155.7,276.53 155.7,278.33 156.81,275.84 156.81,277.64 157.93,275.17 157.93,276.97 159.07,274.52 159.07,276.32 160.21,273.89 160.21,275.69 161.37,273.28 161.37,275.08 162.53,272.69 162.53,274.49 163.71,272.12 163.71,273.92 164.9,271.58 164.9,273.38 166.1,271.05 166.1,272.85 167.3,270.55 167.3,272.35 168.52,270.07 168.52,271.87 169.74,269.61 169.74,271.41 170.97,269.17 170.97,270.97 172.21,268.75 172.21,270.55 173.45,268.34 173.45,270.14 174.7,267.98 174.7,269.78 175.97,267.66 175.97,269.46 177.25,267.38 177.25,269.18 178.53,267.12 178.53,268.92 179.82,266.89 179.82,268.69 181.11,266.68 181.11,268.48 182.4,266.49 182.4,268.29 183.7,266.35 183.7,268.15 185,266.24 185,268.04"/>
<polyline fill="none" stroke="#7a7a7a" stroke-width="1.2" points="226,264.2 226.8,280.5 227.2,303.2 227.7,318.6 228.6,333.2 229.5,344.1 230.5,352.3 231.4,359.5 232.3,365.9 233.2,371.4 234.1,376.8 234.5,381.5 235.5,382.7 234.7,382.83 235.7,384.03 234.9,384.11 235.9,385.31 235.11,385.28 236.11,386.48 235.32,385.8 236.32,387 235.54,387.07 236.54,388.27 235.77,388.35 236.77,389.55 236,389.57 237,390.77 236.23,390.48 237.23,391.68 236.46,391.39 237.46,392.59 236.71,392.63 237.71,393.83 236.98,393.66 237.98,394.86 237.31,394.69 238.31,395.89 237.67,395.66 238.67,396.86 238.06,396.87 239.06,398.07 238.48,397.89 239.48,399.09 238.92,398.85 239.92,400.05 239.4,399.83 240.4,401.03 239.91,400.65 240.91,401.85 240.45,401.75 241.45,402.95 241.01,402.96 242.01,404.16 241.58,403.7 242.58,404.9 242.17,404.45 243.17,405.65 242.79,405.79 243.79,406.99 243.44,406.58 244.44,407.78 244.12,407.69 245.12,408.89 244.84,408.23 245.84,409.43 245.62,408.94 246.62,410.14 246.42,409.56 247.42,410.76 247.25,410.72 248.25,411.92 248.1,411.61 249.1,412.81 248.99,411.78 249.99,412.98 249.9,412.44 250.9,413.64 250.85,413.2 251.85,414.4 251.84,413.49 252.84,414.69 252.85,414.03 253.85,415.23 253.88,414.45 254.88,415.65 254.91,414.93 255.91,416.13 255.96,415.43 256.96,416.63 257.02,415.61 258.02,416.81 258.09,416.06 259.09,417.26 259.16,416.14 260.16,417.34 260.24,416.51 261.24,417.71 261.33,416.37 262.33,417.57 262.42,416.69 263.42,417.89 263.51,417.23 264.51,418.43 264.6,417.22 265.6,418.42 265.69,417.58 266.69,418.78 266.79,417.75 267.79,418.95 267.89,418.04 268.89,419.24 268.99,418.11 269.99,419.31 270.09,418.29 271.09,419.49 271.19,418.25 272.19,419.45 272.3,418.29 273.3,419.49 273.4,418.39 274.4,419.59 274.51,418.53 275.51,419.73 275.62,418.52 276.62,419.72 276.72,418.7 277.72,419.9 277.83,418.85 278.83,420.05 278.94,418.98 279.94,420.18 280.05,418.97 281.05,420.17 281.16,418.81 282.16,420.01 282.26,419.16 283.26,420.36 283.37,419.27 284.37,420.47 284.48,419.47 285.48,420.67 285.59,419.46 286.59,420.66 286.7,419.34 287.7,420.54 287.81,419.38 288.81,420.58 288.92,419.85 289.92,421.05 290.03,419.72 291.03,420.92 291.14,419.93 292.14,421.13 292.25,420.02 293.25,421.22 293.36,419.63 294.36,420.83 294.47,419.86 295.47,421.06 295.58,419.92 296.58,421.12 296.69,419.98 297.69,421.18 297.8,420.02 298.8,421.22 298.91,420.01 299.91,421.21 300.02,420.05 301.02,421.25 301.13,419.83 302.13,421.03 302.24,420.08 303.24,421.28 303.35,420.03 304.35,421.23 304.46,420.2 305.46,421.4 305.57,420.15 306.57,421.35 306.68,420.35 307.68,421.55 307.79,420.41 308.79,421.61 308.9,420.37 309.9,421.57 310.01,420.4 311.01,421.6 311.12,420.4 312.12,421.6 312.23,420.35 313.23,421.55 313.34,420.42 314.34,421.62 314.45,420.4 315.45,421.6 315.56,420.56 316.56,421.76 316.67,420.53 317.67,421.73 317.78,420.64 318.78,421.84 318.89,420.37 319.89,421.57 320,420.72 321,421.92"/>
<g fill="url(#sg)"><circle cx="55.5" cy="421.52" r="3.5"/><circle cx="56.51" cy="422.18" r="3.5"/><circle cx="57.52" cy="422.11" r="3.5"/><circle cx="58.53" cy="421.24" r="3.5"/><circle cx="59.54" cy="421.35" r="3.5"/><circle cx="60.55" cy="421.24" r="3.5"/><circle cx="61.56" cy="421.78" r="3.5"/><circle cx="62.57" cy="421.47" r="3.5"/><circle cx="63.58" cy="421.87" r="3.5"/><circle cx="64.59" cy="420.58" r="3.5"/><circle cx="65.6" cy="422.28" r="3.5"/><circle cx="66.61" cy="421.45" r="3.5"/><circle cx="67.62" cy="421.84" r="3.5"/><circle cx="68.63" cy="421.43" r="3.5"/><circle cx="69.64" cy="421.31" r="3.5"/><circle cx="70.65" cy="421.73" r="3.5"/><circle cx="71.66" cy="421.91" r="3.5"/><circle cx="72.67" cy="421.4" r="3.5"/><circle cx="73.68" cy="421.42" r="3.5"/><circle cx="74.69" cy="421.84" r="3.5"/><circle cx="75.7" cy="421.06" r="3.5"/><circle cx="76.71" cy="420.74" r="3.5"/><circle cx="77.72" cy="421.7" r="3.5"/><circle cx="78.73" cy="421.16" r="3.5"/><circle cx="79.74" cy="420.54" r="3.5"/><circle cx="80.75" cy="421.09" r="3.5"/><circle cx="81.76" cy="421.27" r="3.5"/><circle cx="82.77" cy="420.9" r="3.5"/><circle cx="83.78" cy="420.75" r="3.5"/><circle cx="84.79" cy="421.52" r="3.5"/><circle cx="85.8" cy="421.95" r="3.5"/><circle cx="86.81" cy="421.38" r="3.5"/><circle cx="87.82" cy="421.13" r="3.5"/><circle cx="88.83" cy="421.69" r="3.5"/><circle cx="89.84" cy="421.86" r="3.5"/><circle cx="90.85" cy="421.35" r="3.5"/><circle cx="91.86" cy="421.77" r="3.5"/><circle cx="92.87" cy="422.02" r="3.5"/><circle cx="93.88" cy="421.4" r="3.5"/><circle cx="94.89" cy="421.09" r="3.5"/><circle cx="95.9" cy="421.67" r="3.5"/><circle cx="96.91" cy="421.62" r="3.5"/><circle cx="97.92" cy="422.05" r="3.5"/><circle cx="98.93" cy="420.86" r="3.5"/><circle cx="99.94" cy="421.17" r="3.5"/><circle cx="100.95" cy="421.08" r="3.5"/><circle cx="101.96" cy="420.63" r="3.5"/><circle cx="102.97" cy="421.56" r="3.5"/><circle cx="103.98" cy="421.76" r="3.5"/><circle cx="104.99" cy="421.13" r="3.5"/><circle cx="106" cy="422.19" r="3.5"/><circle cx="107.3" cy="418.2" r="3.5"/><circle cx="109.1" cy="407.3" r="3.5"/><circle cx="110" cy="400" r="3.5"/><circle cx="111.8" cy="391" r="3.5"/><circle cx="113.6" cy="381.8" r="3.5"/><circle cx="115.5" cy="372.7" r="3.5"/><circle cx="117.3" cy="363.6" r="3.5"/><circle cx="119.1" cy="354.5" r="3.5"/></g>
<g fill="url(#sg2)"><circle cx="120.3" cy="347.88" r="3.5"/><circle cx="120.3" cy="349.68" r="3.5"/><circle cx="120.57" cy="346.6" r="3.5"/><circle cx="120.57" cy="348.4" r="3.5"/><circle cx="120.85" cy="345.32" r="3.5"/><circle cx="120.85" cy="347.12" r="3.5"/><circle cx="121.13" cy="344.05" r="3.5"/><circle cx="121.13" cy="345.85" r="3.5"/><circle cx="121.42" cy="342.77" r="3.5"/><circle cx="121.42" cy="344.57" r="3.5"/><circle cx="121.7" cy="341.5" r="3.5"/><circle cx="121.7" cy="343.3" r="3.5"/><circle cx="121.99" cy="340.22" r="3.5"/><circle cx="121.99" cy="342.02" r="3.5"/><circle cx="122.28" cy="338.95" r="3.5"/><circle cx="122.28" cy="340.75" r="3.5"/><circle cx="122.57" cy="337.67" r="3.5"/><circle cx="122.57" cy="339.47" r="3.5"/><circle cx="122.86" cy="336.4" r="3.5"/><circle cx="122.86" cy="338.2" r="3.5"/><circle cx="123.14" cy="335.12" r="3.5"/><circle cx="123.14" cy="336.92" r="3.5"/><circle cx="123.43" cy="333.85" r="3.5"/><circle cx="123.43" cy="335.65" r="3.5"/><circle cx="123.72" cy="332.57" r="3.5"/><circle cx="123.72" cy="334.37" r="3.5"/><circle cx="124.01" cy="331.3" r="3.5"/><circle cx="124.01" cy="333.1" r="3.5"/><circle cx="124.29" cy="330.02" r="3.5"/><circle cx="124.29" cy="331.82" r="3.5"/><circle cx="124.58" cy="328.75" r="3.5"/><circle cx="124.58" cy="330.55" r="3.5"/><circle cx="124.86" cy="327.47" r="3.5"/><circle cx="124.86" cy="329.27" r="3.5"/><circle cx="125.14" cy="326.19" r="3.5"/><circle cx="125.14" cy="327.99" r="3.5"/><circle cx="125.42" cy="324.92" r="3.5"/><circle cx="125.42" cy="326.72" r="3.5"/><circle cx="125.7" cy="323.64" r="3.5"/><circle cx="125.7" cy="325.44" r="3.5"/><circle cx="125.99" cy="322.37" r="3.5"/><circle cx="125.99" cy="324.17" r="3.5"/><circle cx="126.3" cy="321.1" r="3.5"/><circle cx="126.3" cy="322.9" r="3.5"/><circle cx="126.63" cy="319.83" r="3.5"/><circle cx="126.63" cy="321.63" r="3.5"/><circle cx="126.98" cy="318.57" r="3.5"/><circle cx="126.98" cy="320.37" r="3.5"/><circle cx="127.34" cy="317.32" r="3.5"/><circle cx="127.34" cy="319.12" r="3.5"/><circle cx="127.72" cy="316.07" r="3.5"/><circle cx="127.72" cy="317.87" r="3.5"/><circle cx="128.11" cy="314.82" r="3.5"/><circle cx="128.11" cy="316.62" r="3.5"/><circle cx="128.51" cy="313.58" r="3.5"/><circle cx="128.51" cy="315.38" r="3.5"/><circle cx="128.91" cy="312.33" r="3.5"/><circle cx="128.91" cy="314.13" r="3.5"/><circle cx="129.32" cy="311.09" r="3.5"/><circle cx="129.32" cy="312.89" r="3.5"/><circle cx="129.75" cy="309.86" r="3.5"/><circle cx="129.75" cy="311.66" r="3.5"/><circle cx="130.19" cy="308.63" r="3.5"/><circle cx="130.19" cy="310.43" r="3.5"/><circle cx="130.68" cy="307.41" r="3.5"/><circle cx="130.68" cy="309.21" r="3.5"/><circle cx="131.19" cy="306.21" r="3.5"/><circle cx="131.19" cy="308.01" r="3.5"/><circle cx="131.74" cy="305.03" r="3.5"/><circle cx="131.74" cy="306.83" r="3.5"/><circle cx="132.31" cy="303.85" r="3.5"/><circle cx="132.31" cy="305.65" r="3.5"/><circle cx="132.9" cy="302.68" r="3.5"/><circle cx="132.9" cy="304.48" r="3.5"/><circle cx="133.5" cy="301.52" r="3.5"/><circle cx="133.5" cy="303.32" r="3.5"/><circle cx="134.12" cy="300.37" r="3.5"/><circle cx="134.12" cy="302.17" r="3.5"/><circle cx="134.74" cy="299.22" r="3.5"/><circle cx="134.74" cy="301.02" r="3.5"/><circle cx="135.35" cy="298.07" r="3.5"/><circle cx="135.35" cy="299.87" r="3.5"/><circle cx="135.97" cy="296.92" r="3.5"/><circle cx="135.97" cy="298.72" r="3.5"/><circle cx="136.59" cy="295.77" r="3.5"/><circle cx="136.59" cy="297.57" r="3.5"/><circle cx="137.23" cy="294.63" r="3.5"/><circle cx="137.23" cy="296.43" r="3.5"/><circle cx="137.9" cy="293.5" r="3.5"/><circle cx="137.9" cy="295.3" r="3.5"/><circle cx="138.59" cy="292.4" r="3.5"/><circle cx="138.59" cy="294.2" r="3.5"/><circle cx="139.34" cy="291.32" r="3.5"/><circle cx="139.34" cy="293.12" r="3.5"/><circle cx="140.12" cy="290.28" r="3.5"/><circle cx="140.12" cy="292.08" r="3.5"/><circle cx="140.93" cy="289.25" r="3.5"/><circle cx="140.93" cy="291.05" r="3.5"/><circle cx="141.77" cy="288.25" r="3.5"/><circle cx="141.77" cy="290.05" r="3.5"/><circle cx="142.64" cy="287.27" r="3.5"/><circle cx="142.64" cy="289.07" r="3.5"/><circle cx="143.53" cy="286.31" r="3.5"/><circle cx="143.53" cy="288.11" r="3.5"/><circle cx="144.43" cy="285.37" r="3.5"/><circle cx="144.43" cy="287.17" r="3.5"/><circle cx="145.34" cy="284.44" r="3.5"/><circle cx="145.34" cy="286.24" r="3.5"/><circle cx="146.28" cy="283.52" r="3.5"/><circle cx="146.28" cy="285.32" r="3.5"/><circle cx="147.23" cy="282.63" r="3.5"/><circle cx="147.23" cy="284.43" r="3.5"/><circle cx="148.21" cy="281.76" r="3.5"/><circle cx="148.21" cy="283.56" r="3.5"/><circle cx="149.21" cy="280.93" r="3.5"/><circle cx="149.21" cy="282.73" r="3.5"/><circle cx="150.25" cy="280.13" r="3.5"/><circle cx="150.25" cy="281.93" r="3.5"/><circle cx="151.31" cy="279.37" r="3.5"/><circle cx="151.31" cy="281.17" r="3.5"/><circle cx="152.4" cy="278.64" r="3.5"/><circle cx="152.4" cy="280.44" r="3.5"/><circle cx="153.49" cy="277.93" r="3.5"/><circle cx="153.49" cy="279.73" r="3.5"/><circle cx="154.6" cy="277.23" r="3.5"/><circle cx="154.6" cy="279.03" r="3.5"/><circle cx="155.7" cy="276.53" r="3.5"/><circle cx="155.7" cy="278.33" r="3.5"/><circle cx="156.81" cy="275.84" r="3.5"/><circle cx="156.81" cy="277.64" r="3.5"/><circle cx="157.93" cy="275.17" r="3.5"/><circle cx="157.93" cy="276.97" r="3.5"/><circle cx="159.07" cy="274.52" r="3.5"/><circle cx="159.07" cy="276.32" r="3.5"/><circle cx="160.21" cy="273.89" r="3.5"/><circle cx="160.21" cy="275.69" r="3.5"/><circle cx="161.37" cy="273.28" r="3.5"/><circle cx="161.37" cy="275.08" r="3.5"/><circle cx="162.53" cy="272.69" r="3.5"/><circle cx="162.53" cy="274.49" r="3.5"/><circle cx="163.71" cy="272.12" r="3.5"/><circle cx="163.71" cy="273.92" r="3.5"/><circle cx="164.9" cy="271.58" r="3.5"/><circle cx="164.9" cy="273.38" r="3.5"/><circle cx="166.1" cy="271.05" r="3.5"/><circle cx="166.1" cy="272.85" r="3.5"/><circle cx="167.3" cy="270.55" r="3.5"/><circle cx="167.3" cy="272.35" r="3.5"/><circle cx="168.52" cy="270.07" r="3.5"/><circle cx="168.52" cy="271.87" r="3.5"/><circle cx="169.74" cy="269.61" r="3.5"/><circle cx="169.74" cy="271.41" r="3.5"/><circle cx="170.97" cy="269.17" r="3.5"/><circle cx="170.97" cy="270.97" r="3.5"/><circle cx="172.21" cy="268.75" r="3.5"/><circle cx="172.21" cy="270.55" r="3.5"/><circle cx="173.45" cy="268.34" r="3.5"/><circle cx="173.45" cy="270.14" r="3.5"/><circle cx="174.7" cy="267.98" r="3.5"/><circle cx="174.7" cy="269.78" r="3.5"/><circle cx="175.97" cy="267.66" r="3.5"/><circle cx="175.97" cy="269.46" r="3.5"/><circle cx="177.25" cy="267.38" r="3.5"/><circle cx="177.25" cy="269.18" r="3.5"/><circle cx="178.53" cy="267.12" r="3.5"/><circle cx="178.53" cy="268.92" r="3.5"/><circle cx="179.82" cy="266.89" r="3.5"/><circle cx="179.82" cy="268.69" r="3.5"/><circle cx="181.11" cy="266.68" r="3.5"/><circle cx="181.11" cy="268.48" r="3.5"/><circle cx="182.4" cy="266.49" r="3.5"/><circle cx="182.4" cy="268.29" r="3.5"/><circle cx="183.7" cy="266.35" r="3.5"/><circle cx="183.7" cy="268.15" r="3.5"/><circle cx="185" cy="266.24" r="3.5"/><circle cx="185" cy="268.04" r="3.5"/></g>
<g fill="url(#sg)"></g>
<g fill="#f4f4f4" fill-opacity="0.6"></g>
<g fill="url(#sg)"><circle cx="190.5" cy="264.02" r="3.5"/><circle cx="191.5" cy="263.98" r="3.5"/><circle cx="192.5" cy="263.94" r="3.5"/><circle cx="193.5" cy="264.09" r="3.5"/><circle cx="194.5" cy="263.53" r="3.5"/><circle cx="195.5" cy="264.02" r="3.5"/><circle cx="196.5" cy="264.03" r="3.5"/><circle cx="197.5" cy="263.45" r="3.5"/><circle cx="198.5" cy="263.99" r="3.5"/><circle cx="199.5" cy="263.85" r="3.5"/><circle cx="200.5" cy="264.12" r="3.5"/><circle cx="201.5" cy="263.83" r="3.5"/><circle cx="202.5" cy="263.94" r="3.5"/><circle cx="203.5" cy="264.04" r="3.5"/><circle cx="204.5" cy="263.75" r="3.5"/><circle cx="205.5" cy="264.13" r="3.5"/><circle cx="206.5" cy="263.96" r="3.5"/><circle cx="207.5" cy="264.12" r="3.5"/><circle cx="208.5" cy="263.88" r="3.5"/><circle cx="209.5" cy="264.29" r="3.5"/><circle cx="210.5" cy="264.18" r="3.5"/><circle cx="211.5" cy="264" r="3.5"/><circle cx="212.5" cy="264.21" r="3.5"/><circle cx="213.5" cy="264.38" r="3.5"/><circle cx="214.5" cy="264.52" r="3.5"/><circle cx="215.5" cy="263.69" r="3.5"/><circle cx="216.5" cy="264.32" r="3.5"/><circle cx="217.5" cy="264.22" r="3.5"/><circle cx="218.5" cy="264.1" r="3.5"/><circle cx="219.5" cy="263.88" r="3.5"/><circle cx="220.5" cy="264.45" r="3.5"/><circle cx="221.5" cy="263.84" r="3.5"/><circle cx="222.5" cy="264.3" r="3.5"/><circle cx="223.5" cy="264.5" r="3.5"/><circle cx="224.5" cy="263.78" r="3.5"/><circle cx="225.5" cy="264.12" r="3.5"/><circle cx="226.8" cy="280.5" r="3.5"/><circle cx="227.2" cy="303.2" r="3.5"/><circle cx="227.7" cy="318.6" r="3.5"/><circle cx="228.6" cy="333.2" r="3.5"/><circle cx="229.5" cy="344.1" r="3.5"/><circle cx="230.5" cy="352.3" r="3.5"/><circle cx="231.4" cy="359.5" r="3.5"/><circle cx="232.3" cy="365.9" r="3.5"/><circle cx="233.2" cy="371.4" r="3.5"/><circle cx="234.1" cy="376.8" r="3.5"/><circle cx="234.5" cy="381.5" r="3.5"/><circle cx="235.5" cy="382.7" r="3.5"/><circle cx="234.7" cy="382.83" r="3.5"/><circle cx="235.7" cy="384.03" r="3.5"/><circle cx="234.9" cy="384.11" r="3.5"/><circle cx="235.9" cy="385.31" r="3.5"/><circle cx="235.11" cy="385.28" r="3.5"/><circle cx="236.11" cy="386.48" r="3.5"/><circle cx="235.32" cy="385.8" r="3.5"/><circle cx="236.32" cy="387" r="3.5"/><circle cx="235.54" cy="387.07" r="3.5"/><circle cx="236.54" cy="388.27" r="3.5"/><circle cx="235.77" cy="388.35" r="3.5"/><circle cx="236.77" cy="389.55" r="3.5"/><circle cx="236" cy="389.57" r="3.5"/><circle cx="237" cy="390.77" r="3.5"/><circle cx="236.23" cy="390.48" r="3.5"/><circle cx="237.23" cy="391.68" r="3.5"/><circle cx="236.46" cy="391.39" r="3.5"/><circle cx="237.46" cy="392.59" r="3.5"/><circle cx="236.71" cy="392.63" r="3.5"/><circle cx="237.71" cy="393.83" r="3.5"/><circle cx="236.98" cy="393.66" r="3.5"/><circle cx="237.98" cy="394.86" r="3.5"/><circle cx="237.31" cy="394.69" r="3.5"/><circle cx="238.31" cy="395.89" r="3.5"/><circle cx="237.67" cy="395.66" r="3.5"/><circle cx="238.67" cy="396.86" r="3.5"/><circle cx="238.06" cy="396.87" r="3.5"/><circle cx="239.06" cy="398.07" r="3.5"/><circle cx="238.48" cy="397.89" r="3.5"/><circle cx="239.48" cy="399.09" r="3.5"/><circle cx="238.92" cy="398.85" r="3.5"/><circle cx="239.92" cy="400.05" r="3.5"/><circle cx="239.4" cy="399.83" r="3.5"/><circle cx="240.4" cy="401.03" r="3.5"/><circle cx="239.91" cy="400.65" r="3.5"/><circle cx="240.91" cy="401.85" r="3.5"/><circle cx="240.45" cy="401.75" r="3.5"/><circle cx="241.45" cy="402.95" r="3.5"/><circle cx="241.01" cy="402.96" r="3.5"/><circle cx="242.01" cy="404.16" r="3.5"/><circle cx="241.58" cy="403.7" r="3.5"/><circle cx="242.58" cy="404.9" r="3.5"/><circle cx="242.17" cy="404.45" r="3.5"/><circle cx="243.17" cy="405.65" r="3.5"/><circle cx="242.79" cy="405.79" r="3.5"/><circle cx="243.79" cy="406.99" r="3.5"/><circle cx="243.44" cy="406.58" r="3.5"/><circle cx="244.44" cy="407.78" r="3.5"/><circle cx="244.12" cy="407.69" r="3.5"/><circle cx="245.12" cy="408.89" r="3.5"/><circle cx="244.84" cy="408.23" r="3.5"/><circle cx="245.84" cy="409.43" r="3.5"/><circle cx="245.62" cy="408.94" r="3.5"/><circle cx="246.62" cy="410.14" r="3.5"/><circle cx="246.42" cy="409.56" r="3.5"/><circle cx="247.42" cy="410.76" r="3.5"/><circle cx="247.25" cy="410.72" r="3.5"/><circle cx="248.25" cy="411.92" r="3.5"/><circle cx="248.1" cy="411.61" r="3.5"/><circle cx="249.1" cy="412.81" r="3.5"/><circle cx="248.99" cy="411.78" r="3.5"/><circle cx="249.99" cy="412.98" r="3.5"/><circle cx="249.9" cy="412.44" r="3.5"/><circle cx="250.9" cy="413.64" r="3.5"/><circle cx="250.85" cy="413.2" r="3.5"/><circle cx="251.85" cy="414.4" r="3.5"/><circle cx="251.84" cy="413.49" r="3.5"/><circle cx="252.84" cy="414.69" r="3.5"/><circle cx="252.85" cy="414.03" r="3.5"/><circle cx="253.85" cy="415.23" r="3.5"/><circle cx="253.88" cy="414.45" r="3.5"/><circle cx="254.88" cy="415.65" r="3.5"/><circle cx="254.91" cy="414.93" r="3.5"/><circle cx="255.91" cy="416.13" r="3.5"/><circle cx="255.96" cy="415.43" r="3.5"/><circle cx="256.96" cy="416.63" r="3.5"/><circle cx="257.02" cy="415.61" r="3.5"/><circle cx="258.02" cy="416.81" r="3.5"/><circle cx="258.09" cy="416.06" r="3.5"/><circle cx="259.09" cy="417.26" r="3.5"/><circle cx="259.16" cy="416.14" r="3.5"/><circle cx="260.16" cy="417.34" r="3.5"/><circle cx="260.24" cy="416.51" r="3.5"/><circle cx="261.24" cy="417.71" r="3.5"/><circle cx="261.33" cy="416.37" r="3.5"/><circle cx="262.33" cy="417.57" r="3.5"/><circle cx="262.42" cy="416.69" r="3.5"/><circle cx="263.42" cy="417.89" r="3.5"/><circle cx="263.51" cy="417.23" r="3.5"/><circle cx="264.51" cy="418.43" r="3.5"/><circle cx="264.6" cy="417.22" r="3.5"/><circle cx="265.6" cy="418.42" r="3.5"/><circle cx="265.69" cy="417.58" r="3.5"/><circle cx="266.69" cy="418.78" r="3.5"/><circle cx="266.79" cy="417.75" r="3.5"/><circle cx="267.79" cy="418.95" r="3.5"/><circle cx="267.89" cy="418.04" r="3.5"/><circle cx="268.89" cy="419.24" r="3.5"/><circle cx="268.99" cy="418.11" r="3.5"/><circle cx="269.99" cy="419.31" r="3.5"/><circle cx="270.09" cy="418.29" r="3.5"/><circle cx="271.09" cy="419.49" r="3.5"/><circle cx="271.19" cy="418.25" r="3.5"/><circle cx="272.19" cy="419.45" r="3.5"/><circle cx="272.3" cy="418.29" r="3.5"/><circle cx="273.3" cy="419.49" r="3.5"/><circle cx="273.4" cy="418.39" r="3.5"/><circle cx="274.4" cy="419.59" r="3.5"/><circle cx="274.51" cy="418.53" r="3.5"/><circle cx="275.51" cy="419.73" r="3.5"/><circle cx="275.62" cy="418.52" r="3.5"/><circle cx="276.62" cy="419.72" r="3.5"/><circle cx="276.72" cy="418.7" r="3.5"/><circle cx="277.72" cy="419.9" r="3.5"/><circle cx="277.83" cy="418.85" r="3.5"/><circle cx="278.83" cy="420.05" r="3.5"/><circle cx="278.94" cy="418.98" r="3.5"/><circle cx="279.94" cy="420.18" r="3.5"/><circle cx="280.05" cy="418.97" r="3.5"/><circle cx="281.05" cy="420.17" r="3.5"/><circle cx="281.16" cy="418.81" r="3.5"/><circle cx="282.16" cy="420.01" r="3.5"/><circle cx="282.26" cy="419.16" r="3.5"/><circle cx="283.26" cy="420.36" r="3.5"/><circle cx="283.37" cy="419.27" r="3.5"/><circle cx="284.37" cy="420.47" r="3.5"/><circle cx="284.48" cy="419.47" r="3.5"/><circle cx="285.48" cy="420.67" r="3.5"/><circle cx="285.59" cy="419.46" r="3.5"/><circle cx="286.59" cy="420.66" r="3.5"/><circle cx="286.7" cy="419.34" r="3.5"/><circle cx="287.7" cy="420.54" r="3.5"/><circle cx="287.81" cy="419.38" r="3.5"/><circle cx="288.81" cy="420.58" r="3.5"/><circle cx="288.92" cy="419.85" r="3.5"/><circle cx="289.92" cy="421.05" r="3.5"/><circle cx="290.03" cy="419.72" r="3.5"/><circle cx="291.03" cy="420.92" r="3.5"/><circle cx="291.14" cy="419.93" r="3.5"/><circle cx="292.14" cy="421.13" r="3.5"/><circle cx="292.25" cy="420.02" r="3.5"/><circle cx="293.25" cy="421.22" r="3.5"/><circle cx="293.36" cy="419.63" r="3.5"/><circle cx="294.36" cy="420.83" r="3.5"/><circle cx="294.47" cy="419.86" r="3.5"/><circle cx="295.47" cy="421.06" r="3.5"/><circle cx="295.58" cy="419.92" r="3.5"/><circle cx="296.58" cy="421.12" r="3.5"/><circle cx="296.69" cy="419.98" r="3.5"/><circle cx="297.69" cy="421.18" r="3.5"/><circle cx="297.8" cy="420.02" r="3.5"/><circle cx="298.8" cy="421.22" r="3.5"/><circle cx="298.91" cy="420.01" r="3.5"/><circle cx="299.91" cy="421.21" r="3.5"/><circle cx="300.02" cy="420.05" r="3.5"/><circle cx="301.02" cy="421.25" r="3.5"/><circle cx="301.13" cy="419.83" r="3.5"/><circle cx="302.13" cy="421.03" r="3.5"/><circle cx="302.24" cy="420.08" r="3.5"/><circle cx="303.24" cy="421.28" r="3.5"/><circle cx="303.35" cy="420.03" r="3.5"/><circle cx="304.35" cy="421.23" r="3.5"/><circle cx="304.46" cy="420.2" r="3.5"/><circle cx="305.46" cy="421.4" r="3.5"/><circle cx="305.57" cy="420.15" r="3.5"/><circle cx="306.57" cy="421.35" r="3.5"/><circle cx="306.68" cy="420.35" r="3.5"/><circle cx="307.68" cy="421.55" r="3.5"/><circle cx="307.79" cy="420.41" r="3.5"/><circle cx="308.79" cy="421.61" r="3.5"/><circle cx="308.9" cy="420.37" r="3.5"/><circle cx="309.9" cy="421.57" r="3.5"/><circle cx="310.01" cy="420.4" r="3.5"/><circle cx="311.01" cy="421.6" r="3.5"/><circle cx="311.12" cy="420.4" r="3.5"/><circle cx="312.12" cy="421.6" r="3.5"/><circle cx="312.23" cy="420.35" r="3.5"/><circle cx="313.23" cy="421.55" r="3.5"/><circle cx="313.34" cy="420.42" r="3.5"/><circle cx="314.34" cy="421.62" r="3.5"/><circle cx="314.45" cy="420.4" r="3.5"/><circle cx="315.45" cy="421.6" r="3.5"/><circle cx="315.56" cy="420.56" r="3.5"/><circle cx="316.56" cy="421.76" r="3.5"/><circle cx="316.67" cy="420.53" r="3.5"/><circle cx="317.67" cy="421.73" r="3.5"/><circle cx="317.78" cy="420.64" r="3.5"/><circle cx="318.78" cy="421.84" r="3.5"/><circle cx="318.89" cy="420.37" r="3.5"/><circle cx="319.89" cy="421.57" r="3.5"/><circle cx="320" cy="420.72" r="3.5"/><circle cx="321" cy="421.92" r="3.5"/></g>
<g fill="#f2f2f2" fill-opacity="0.55"><circle cx="189.9" cy="263.22" r="0.6"/><circle cx="191.9" cy="263.14" r="0.6"/><circle cx="193.9" cy="262.73" r="0.6"/><circle cx="195.9" cy="263.23" r="0.6"/><circle cx="197.9" cy="263.19" r="0.6"/><circle cx="199.9" cy="263.32" r="0.6"/><circle cx="201.9" cy="263.14" r="0.6"/><circle cx="203.9" cy="262.95" r="0.6"/><circle cx="205.9" cy="263.16" r="0.6"/><circle cx="207.9" cy="263.08" r="0.6"/><circle cx="209.9" cy="263.38" r="0.6"/><circle cx="211.9" cy="263.41" r="0.6"/><circle cx="213.9" cy="263.72" r="0.6"/><circle cx="215.9" cy="263.52" r="0.6"/><circle cx="217.9" cy="263.3" r="0.6"/><circle cx="219.9" cy="263.65" r="0.6"/><circle cx="221.9" cy="263.5" r="0.6"/><circle cx="223.9" cy="262.98" r="0.6"/><circle cx="233.9" cy="380.7" r="0.6"/><circle cx="234.51" cy="384.48" r="0.6"/><circle cx="235.17" cy="387.55" r="0.6"/><circle cx="235.86" cy="390.59" r="0.6"/><circle cx="236.71" cy="393.89" r="0.6"/><circle cx="237.88" cy="397.09" r="0.6"/><circle cx="239.31" cy="399.85" r="0.6"/><circle cx="240.98" cy="402.9" r="0.6"/><circle cx="242.84" cy="405.78" r="0.6"/><circle cx="245.02" cy="408.14" r="0.6"/><circle cx="247.5" cy="410.81" r="0.6"/><circle cx="250.25" cy="412.4" r="0.6"/><circle cx="253.28" cy="413.65" r="0.6"/><circle cx="256.42" cy="414.81" r="0.6"/><circle cx="259.64" cy="415.71" r="0.6"/><circle cx="262.91" cy="416.43" r="0.6"/><circle cx="266.19" cy="416.95" r="0.6"/><circle cx="269.49" cy="417.49" r="0.6"/><circle cx="272.8" cy="417.59" r="0.6"/><circle cx="276.12" cy="417.9" r="0.6"/><circle cx="279.45" cy="418.17" r="0.6"/><circle cx="282.77" cy="418.47" r="0.6"/><circle cx="286.1" cy="418.54" r="0.6"/><circle cx="289.43" cy="418.92" r="0.6"/><circle cx="292.76" cy="418.83" r="0.6"/><circle cx="296.09" cy="419.18" r="0.6"/><circle cx="299.42" cy="419.25" r="0.6"/><circle cx="302.75" cy="419.23" r="0.6"/><circle cx="306.08" cy="419.55" r="0.6"/><circle cx="309.41" cy="419.6" r="0.6"/><circle cx="312.74" cy="419.62" r="0.6"/><circle cx="316.07" cy="419.73" r="0.6"/><circle cx="319.4" cy="419.92" r="0.6"/></g>
<g fill="#f2f2f2" fill-opacity="0.5"><circle cx="54.9" cy="420.32" r="0.55"/><circle cx="56.92" cy="420.91" r="0.55"/><circle cx="58.94" cy="420.15" r="0.55"/><circle cx="60.96" cy="420.58" r="0.55"/><circle cx="62.98" cy="420.67" r="0.55"/><circle cx="65" cy="421.08" r="0.55"/><circle cx="67.02" cy="420.64" r="0.55"/><circle cx="69.04" cy="420.11" r="0.55"/><circle cx="71.06" cy="420.71" r="0.55"/><circle cx="73.08" cy="420.22" r="0.55"/><circle cx="75.1" cy="419.86" r="0.55"/><circle cx="77.12" cy="420.5" r="0.55"/><circle cx="79.14" cy="419.34" r="0.55"/><circle cx="81.16" cy="420.07" r="0.55"/><circle cx="83.18" cy="419.55" r="0.55"/><circle cx="85.2" cy="420.75" r="0.55"/><circle cx="87.22" cy="419.93" r="0.55"/><circle cx="89.24" cy="420.66" r="0.55"/><circle cx="91.26" cy="420.57" r="0.55"/><circle cx="93.28" cy="420.2" r="0.55"/><circle cx="95.3" cy="420.47" r="0.55"/><circle cx="97.32" cy="420.85" r="0.55"/><circle cx="99.34" cy="419.97" r="0.55"/><circle cx="101.36" cy="419.43" r="0.55"/><circle cx="103.38" cy="420.56" r="0.55"/><circle cx="105.4" cy="420.99" r="0.55"/></g>
<text stroke="#000" stroke-width="0.15" x="81" y="282.8" font-size="14.5" text-anchor="start" font-weight="bold" fill="#000" >ZnO</text>
<line x1="112.7" y1="318.4" x2="147" y2="318.4" stroke="#e0301e" stroke-width="2.5" stroke-dasharray="2.8 3.4"/>
<line x1="107.3" y1="421.8" x2="141" y2="421.8" stroke="#e0301e" stroke-width="2.5" stroke-dasharray="2.8 3.4"/>
<line x1="128.9" y1="323" x2="128.9" y2="411" stroke="#e0301e" stroke-width="2" stroke-dasharray="6 3"/>
<polygon points="128.9,316.2 124.6,324.2 133.2,324.2" fill="#e0301e"/>
<polygon points="128.9,418.4 124.6,410.4 133.2,410.4" fill="#e0301e"/>
<text stroke="#e0301e" stroke-width="0.15" x="154.3" y="323.8" font-size="14" font-weight="bold" fill="#e0301e">I<tspan font-size="8.3" dy="4.3">ph</tspan><tspan dy="-4.3">/e</tspan></text>
<text stroke="#000" stroke-width="0.15" x="141" y="381.5" font-size="14" font-weight="bold" fill="#000">τ<tspan font-size="8.3" dy="4.6">rise</tspan><tspan dy="-4.6">=</tspan></text>
<text stroke="#000" stroke-width="0.15" x="141.2" y="403.4" font-size="14" text-anchor="start" font-weight="bold" fill="#000" >1.27 s</text>
<line x1="208" y1="264.6" x2="241" y2="264.6" stroke="#e0301e" stroke-width="2.5" stroke-dasharray="2.8 3.4"/>
<line x1="213" y1="362.2" x2="247" y2="362.2" stroke="#e0301e" stroke-width="2.5" stroke-dasharray="2.8 3.4"/>
<line x1="223.9" y1="276" x2="223.9" y2="353" stroke="#e0301e" stroke-width="2" stroke-dasharray="6 3"/>
<polygon points="223.9,268 219.6,276 228.2,276" fill="#e0301e"/>
<polygon points="223.9,361 219.6,353 228.2,353" fill="#e0301e"/>
<text stroke="#000" stroke-width="0.15" x="242" y="295.8" font-size="14" font-weight="bold" fill="#000">τ<tspan font-size="8.3" dy="4.6">decay</tspan><tspan dy="-4.6">=</tspan></text>
<text stroke="#000" stroke-width="0.15" x="254.9" y="320.3" font-size="14" text-anchor="start" font-weight="bold" fill="#000" >0.49s</text>
<text stroke="#e0301e" stroke-width="0.15" x="244.1" y="347.2" font-size="14" font-weight="bold" fill="#e0301e">I<tspan font-size="8.3" dy="4.3">ph</tspan><tspan dy="-4.3">(1−1/e)</tspan></text>
<polyline fill="none" stroke="#3b66b0" stroke-width="1.7" points="417,425 418.01,425.31 419.02,425.22 420.04,425.22 421.05,425.49 422.06,424.64 423.07,424.81 424.09,424.6 425.1,424.97 426.11,425.3 427.12,424.99 428.13,425.15 429.15,424.43 430.16,425.04 431.17,424.73 432.18,425.53 433.2,425.27 434.21,425.28 435.22,424.98 436.23,425.18 437.24,425.2 438.26,424.9 439.27,424.85 440.28,424.97 441.29,424.82 442.3,424.82 443.32,424.91 444.33,424.78 445.34,425.23 446.35,424.52 447.37,425.25 448.38,424.81 449.39,424.84 450.4,424.59 451.41,424.96 452.43,424.93 453.44,425.06 454.45,424.84 455.46,425.03 456.48,425.55 457.49,425.12 458.5,424.83 460.8,408.5 461.5,398.5 462.3,390 463.1,381.5 464.2,373.8 465.4,365 466.4,358 467.2,352.01 467.2,353.61 467.36,351.02 467.36,352.62 467.53,350.03 467.53,351.63 467.71,349.04 467.71,350.64 467.89,348.06 467.89,349.66 468.08,347.07 468.08,348.67 468.28,346.08 468.28,347.68 468.48,345.1 468.48,346.7 468.69,344.12 468.69,345.72 468.9,343.14 468.9,344.74 469.12,342.16 469.12,343.76 469.35,341.18 469.35,342.78 469.57,340.2 469.57,341.8 469.8,339.22 469.8,340.82 470.02,338.24 470.02,339.84 470.24,337.26 470.24,338.86 470.46,336.28 470.46,337.88 470.69,335.3 470.69,336.9 470.92,334.33 470.92,335.93 471.16,333.35 471.16,334.95 471.4,332.38 471.4,333.98 471.66,331.41 471.66,333.01 471.93,330.44 471.93,332.04 472.21,329.48 472.21,331.08 472.5,328.51 472.5,330.11 472.79,327.55 472.79,329.15 473.09,326.59 473.09,328.19 473.4,325.64 473.4,327.24 473.72,324.69 473.72,326.29 474.05,323.74 474.05,325.34 474.38,322.79 474.38,324.39 474.73,321.85 474.73,323.45 475.08,320.91 475.08,322.51 475.45,319.97 475.45,321.57 475.82,319.04 475.82,320.64 476.21,318.11 476.21,319.71 476.61,317.19 476.61,318.79 477.02,316.28 477.02,317.88 477.44,315.36 477.44,316.96 477.88,314.46 477.88,316.06 478.32,313.56 478.32,315.16 478.77,312.66 478.77,314.26 479.24,311.77 479.24,313.37 479.71,310.88 479.71,312.48 480.2,310.01 480.2,311.61 480.69,309.13 480.69,310.73 481.2,308.26 481.2,309.86 481.71,307.4 481.71,309 482.22,306.54 482.22,308.14 482.75,305.68 482.75,307.28 483.29,304.83 483.29,306.43 483.84,303.99 483.84,305.59 484.4,303.16 484.4,304.76 484.99,302.35 484.99,303.95 485.6,301.55 485.6,303.15 486.24,300.77 486.24,302.37 486.9,300.02 486.9,301.62 487.58,299.28 487.58,300.88 488.28,298.56 488.28,300.16 488.99,297.85 488.99,299.45 489.72,297.16 489.72,298.76 490.46,296.48 490.46,298.08 491.22,295.82 491.22,297.42 491.99,295.18 491.99,296.78 492.78,294.56 492.78,296.16 493.58,293.95 493.58,295.55 494.39,293.36 494.39,294.96 495.22,292.79 495.22,294.39 496.05,292.23 496.05,293.83 496.9,291.69 496.9,293.29 497.75,291.16 497.75,292.76 498.62,290.65 498.62,292.25 499.49,290.15 499.49,291.75 500.37,289.67 500.37,291.27 501.26,289.2 501.26,290.8 502.15,288.75 502.15,290.35 503.06,288.31 503.06,289.91 503.97,287.89 503.97,289.49 504.88,287.47 504.88,289.07 505.8,287.06 505.8,288.66 506.72,286.65 506.72,288.25 507.64,286.26 507.64,287.86 508.57,285.87 508.57,287.47 509.5,285.5 509.5,287.1 510.44,285.14 510.44,286.74 511.38,284.79 511.38,286.39 512.33,284.46 512.33,286.06 513.28,284.15 513.28,285.75 514.25,283.86 514.25,285.46 515.21,283.6 515.21,285.2 516.19,283.35 516.19,284.95 517.16,283.1 517.16,284.7 518.14,282.87 518.14,284.47 519.12,282.65 519.12,284.25 520.1,282.44 520.1,284.04 521.08,282.24 521.08,283.84 522.07,282.04 522.07,283.64 523.06,281.86 523.06,283.46 524.04,281.68 524.04,283.28 525.03,281.51 525.03,283.11 526.02,281.35 526.02,282.95 527.02,281.19 527.02,282.79 528.01,281.04 528.01,282.64 529,280.9 529,282.5 530,280.77 530,282.37 531,280.64 531,282.24 531.99,280.52 531.99,282.12 532.99,280.4 532.99,282 533.99,280.3 533.99,281.9 534.99,280.2 534.99,281.8 535.99,280.1 535.99,281.7 536.99,280.01 536.99,281.61 537.99,279.92 537.99,281.52 538.99,279.84 538.99,281.44 539.99,279.76 539.99,281.36 540.99,279.69 540.99,281.29 541.99,279.62 541.99,281.22 543,279.56 543,281.16 544,279.5 544,281.1"/>
<polyline fill="none" stroke="#3b66b0" stroke-width="1.7" points="595,276 597.2,314.5 600.2,353 603.6,368 606,378 609,385.3 610.5,388.24 611.68,390.6 613.04,392.64 614.51,394.16 616.09,396.54 617.81,397.94 619.66,399.55 621.61,401.1 623.63,402.55 625.71,403.38 627.81,405.09 629.92,406.1 632.06,407.09 634.23,408.29 636.44,408.92 638.69,410.14 640.98,411.12 643.29,411.69 645.62,412.47 647.96,413.16 650.31,413.83 652.67,414.62 655.03,414.96 657.41,415.43 659.8,416.05 662.19,416.78 664.59,416.69 666.99,417.24 669.39,417.21 671.79,418.17 674.19,418.41 676.6,418.91 679,418.99"/>
<g fill="url(#sb)"><circle cx="417" cy="425" r="3.6"/><circle cx="418.01" cy="425.31" r="3.6"/><circle cx="419.02" cy="425.22" r="3.6"/><circle cx="420.04" cy="425.22" r="3.6"/><circle cx="421.05" cy="425.49" r="3.6"/><circle cx="422.06" cy="424.64" r="3.6"/><circle cx="423.07" cy="424.81" r="3.6"/><circle cx="424.09" cy="424.6" r="3.6"/><circle cx="425.1" cy="424.97" r="3.6"/><circle cx="426.11" cy="425.3" r="3.6"/><circle cx="427.12" cy="424.99" r="3.6"/><circle cx="428.13" cy="425.15" r="3.6"/><circle cx="429.15" cy="424.43" r="3.6"/><circle cx="430.16" cy="425.04" r="3.6"/><circle cx="431.17" cy="424.73" r="3.6"/><circle cx="432.18" cy="425.53" r="3.6"/><circle cx="433.2" cy="425.27" r="3.6"/><circle cx="434.21" cy="425.28" r="3.6"/><circle cx="435.22" cy="424.98" r="3.6"/><circle cx="436.23" cy="425.18" r="3.6"/><circle cx="437.24" cy="425.2" r="3.6"/><circle cx="438.26" cy="424.9" r="3.6"/><circle cx="439.27" cy="424.85" r="3.6"/><circle cx="440.28" cy="424.97" r="3.6"/><circle cx="441.29" cy="424.82" r="3.6"/><circle cx="442.3" cy="424.82" r="3.6"/><circle cx="443.32" cy="424.91" r="3.6"/><circle cx="444.33" cy="424.78" r="3.6"/><circle cx="445.34" cy="425.23" r="3.6"/><circle cx="446.35" cy="424.52" r="3.6"/><circle cx="447.37" cy="425.25" r="3.6"/><circle cx="448.38" cy="424.81" r="3.6"/><circle cx="449.39" cy="424.84" r="3.6"/><circle cx="450.4" cy="424.59" r="3.6"/><circle cx="451.41" cy="424.96" r="3.6"/><circle cx="452.43" cy="424.93" r="3.6"/><circle cx="453.44" cy="425.06" r="3.6"/><circle cx="454.45" cy="424.84" r="3.6"/><circle cx="455.46" cy="425.03" r="3.6"/><circle cx="456.48" cy="425.55" r="3.6"/><circle cx="457.49" cy="425.12" r="3.6"/><circle cx="458.5" cy="424.83" r="3.6"/><circle cx="460.8" cy="408.5" r="3.6"/><circle cx="461.5" cy="398.5" r="3.6"/><circle cx="462.3" cy="390" r="3.6"/><circle cx="463.1" cy="381.5" r="3.6"/><circle cx="464.2" cy="373.8" r="3.6"/><circle cx="465.4" cy="365" r="3.6"/><circle cx="466.4" cy="358" r="3.6"/></g>
<g fill="url(#sb2)"><circle cx="467.2" cy="352.01" r="3.6"/><circle cx="467.2" cy="353.61" r="3.6"/><circle cx="467.36" cy="351.02" r="3.6"/><circle cx="467.36" cy="352.62" r="3.6"/><circle cx="467.53" cy="350.03" r="3.6"/><circle cx="467.53" cy="351.63" r="3.6"/><circle cx="467.71" cy="349.04" r="3.6"/><circle cx="467.71" cy="350.64" r="3.6"/><circle cx="467.89" cy="348.06" r="3.6"/><circle cx="467.89" cy="349.66" r="3.6"/><circle cx="468.08" cy="347.07" r="3.6"/><circle cx="468.08" cy="348.67" r="3.6"/><circle cx="468.28" cy="346.08" r="3.6"/><circle cx="468.28" cy="347.68" r="3.6"/><circle cx="468.48" cy="345.1" r="3.6"/><circle cx="468.48" cy="346.7" r="3.6"/><circle cx="468.69" cy="344.12" r="3.6"/><circle cx="468.69" cy="345.72" r="3.6"/><circle cx="468.9" cy="343.14" r="3.6"/><circle cx="468.9" cy="344.74" r="3.6"/><circle cx="469.12" cy="342.16" r="3.6"/><circle cx="469.12" cy="343.76" r="3.6"/><circle cx="469.35" cy="341.18" r="3.6"/><circle cx="469.35" cy="342.78" r="3.6"/><circle cx="469.57" cy="340.2" r="3.6"/><circle cx="469.57" cy="341.8" r="3.6"/><circle cx="469.8" cy="339.22" r="3.6"/><circle cx="469.8" cy="340.82" r="3.6"/><circle cx="470.02" cy="338.24" r="3.6"/><circle cx="470.02" cy="339.84" r="3.6"/><circle cx="470.24" cy="337.26" r="3.6"/><circle cx="470.24" cy="338.86" r="3.6"/><circle cx="470.46" cy="336.28" r="3.6"/><circle cx="470.46" cy="337.88" r="3.6"/><circle cx="470.69" cy="335.3" r="3.6"/><circle cx="470.69" cy="336.9" r="3.6"/><circle cx="470.92" cy="334.33" r="3.6"/><circle cx="470.92" cy="335.93" r="3.6"/><circle cx="471.16" cy="333.35" r="3.6"/><circle cx="471.16" cy="334.95" r="3.6"/><circle cx="471.4" cy="332.38" r="3.6"/><circle cx="471.4" cy="333.98" r="3.6"/><circle cx="471.66" cy="331.41" r="3.6"/><circle cx="471.66" cy="333.01" r="3.6"/><circle cx="471.93" cy="330.44" r="3.6"/><circle cx="471.93" cy="332.04" r="3.6"/><circle cx="472.21" cy="329.48" r="3.6"/><circle cx="472.21" cy="331.08" r="3.6"/><circle cx="472.5" cy="328.51" r="3.6"/><circle cx="472.5" cy="330.11" r="3.6"/><circle cx="472.79" cy="327.55" r="3.6"/><circle cx="472.79" cy="329.15" r="3.6"/><circle cx="473.09" cy="326.59" r="3.6"/><circle cx="473.09" cy="328.19" r="3.6"/><circle cx="473.4" cy="325.64" r="3.6"/><circle cx="473.4" cy="327.24" r="3.6"/><circle cx="473.72" cy="324.69" r="3.6"/><circle cx="473.72" cy="326.29" r="3.6"/><circle cx="474.05" cy="323.74" r="3.6"/><circle cx="474.05" cy="325.34" r="3.6"/><circle cx="474.38" cy="322.79" r="3.6"/><circle cx="474.38" cy="324.39" r="3.6"/><circle cx="474.73" cy="321.85" r="3.6"/><circle cx="474.73" cy="323.45" r="3.6"/><circle cx="475.08" cy="320.91" r="3.6"/><circle cx="475.08" cy="322.51" r="3.6"/><circle cx="475.45" cy="319.97" r="3.6"/><circle cx="475.45" cy="321.57" r="3.6"/><circle cx="475.82" cy="319.04" r="3.6"/><circle cx="475.82" cy="320.64" r="3.6"/><circle cx="476.21" cy="318.11" r="3.6"/><circle cx="476.21" cy="319.71" r="3.6"/><circle cx="476.61" cy="317.19" r="3.6"/><circle cx="476.61" cy="318.79" r="3.6"/><circle cx="477.02" cy="316.28" r="3.6"/><circle cx="477.02" cy="317.88" r="3.6"/><circle cx="477.44" cy="315.36" r="3.6"/><circle cx="477.44" cy="316.96" r="3.6"/><circle cx="477.88" cy="314.46" r="3.6"/><circle cx="477.88" cy="316.06" r="3.6"/><circle cx="478.32" cy="313.56" r="3.6"/><circle cx="478.32" cy="315.16" r="3.6"/><circle cx="478.77" cy="312.66" r="3.6"/><circle cx="478.77" cy="314.26" r="3.6"/><circle cx="479.24" cy="311.77" r="3.6"/><circle cx="479.24" cy="313.37" r="3.6"/><circle cx="479.71" cy="310.88" r="3.6"/><circle cx="479.71" cy="312.48" r="3.6"/><circle cx="480.2" cy="310.01" r="3.6"/><circle cx="480.2" cy="311.61" r="3.6"/><circle cx="480.69" cy="309.13" r="3.6"/><circle cx="480.69" cy="310.73" r="3.6"/><circle cx="481.2" cy="308.26" r="3.6"/><circle cx="481.2" cy="309.86" r="3.6"/><circle cx="481.71" cy="307.4" r="3.6"/><circle cx="481.71" cy="309" r="3.6"/><circle cx="482.22" cy="306.54" r="3.6"/><circle cx="482.22" cy="308.14" r="3.6"/><circle cx="482.75" cy="305.68" r="3.6"/><circle cx="482.75" cy="307.28" r="3.6"/><circle cx="483.29" cy="304.83" r="3.6"/><circle cx="483.29" cy="306.43" r="3.6"/><circle cx="483.84" cy="303.99" r="3.6"/><circle cx="483.84" cy="305.59" r="3.6"/><circle cx="484.4" cy="303.16" r="3.6"/><circle cx="484.4" cy="304.76" r="3.6"/><circle cx="484.99" cy="302.35" r="3.6"/><circle cx="484.99" cy="303.95" r="3.6"/><circle cx="485.6" cy="301.55" r="3.6"/><circle cx="485.6" cy="303.15" r="3.6"/><circle cx="486.24" cy="300.77" r="3.6"/><circle cx="486.24" cy="302.37" r="3.6"/><circle cx="486.9" cy="300.02" r="3.6"/><circle cx="486.9" cy="301.62" r="3.6"/><circle cx="487.58" cy="299.28" r="3.6"/><circle cx="487.58" cy="300.88" r="3.6"/><circle cx="488.28" cy="298.56" r="3.6"/><circle cx="488.28" cy="300.16" r="3.6"/><circle cx="488.99" cy="297.85" r="3.6"/><circle cx="488.99" cy="299.45" r="3.6"/><circle cx="489.72" cy="297.16" r="3.6"/><circle cx="489.72" cy="298.76" r="3.6"/><circle cx="490.46" cy="296.48" r="3.6"/><circle cx="490.46" cy="298.08" r="3.6"/><circle cx="491.22" cy="295.82" r="3.6"/><circle cx="491.22" cy="297.42" r="3.6"/><circle cx="491.99" cy="295.18" r="3.6"/><circle cx="491.99" cy="296.78" r="3.6"/><circle cx="492.78" cy="294.56" r="3.6"/><circle cx="492.78" cy="296.16" r="3.6"/><circle cx="493.58" cy="293.95" r="3.6"/><circle cx="493.58" cy="295.55" r="3.6"/><circle cx="494.39" cy="293.36" r="3.6"/><circle cx="494.39" cy="294.96" r="3.6"/><circle cx="495.22" cy="292.79" r="3.6"/><circle cx="495.22" cy="294.39" r="3.6"/><circle cx="496.05" cy="292.23" r="3.6"/><circle cx="496.05" cy="293.83" r="3.6"/><circle cx="496.9" cy="291.69" r="3.6"/><circle cx="496.9" cy="293.29" r="3.6"/><circle cx="497.75" cy="291.16" r="3.6"/><circle cx="497.75" cy="292.76" r="3.6"/><circle cx="498.62" cy="290.65" r="3.6"/><circle cx="498.62" cy="292.25" r="3.6"/><circle cx="499.49" cy="290.15" r="3.6"/><circle cx="499.49" cy="291.75" r="3.6"/><circle cx="500.37" cy="289.67" r="3.6"/><circle cx="500.37" cy="291.27" r="3.6"/><circle cx="501.26" cy="289.2" r="3.6"/><circle cx="501.26" cy="290.8" r="3.6"/><circle cx="502.15" cy="288.75" r="3.6"/><circle cx="502.15" cy="290.35" r="3.6"/><circle cx="503.06" cy="288.31" r="3.6"/><circle cx="503.06" cy="289.91" r="3.6"/><circle cx="503.97" cy="287.89" r="3.6"/><circle cx="503.97" cy="289.49" r="3.6"/><circle cx="504.88" cy="287.47" r="3.6"/><circle cx="504.88" cy="289.07" r="3.6"/><circle cx="505.8" cy="287.06" r="3.6"/><circle cx="505.8" cy="288.66" r="3.6"/><circle cx="506.72" cy="286.65" r="3.6"/><circle cx="506.72" cy="288.25" r="3.6"/><circle cx="507.64" cy="286.26" r="3.6"/><circle cx="507.64" cy="287.86" r="3.6"/><circle cx="508.57" cy="285.87" r="3.6"/><circle cx="508.57" cy="287.47" r="3.6"/><circle cx="509.5" cy="285.5" r="3.6"/><circle cx="509.5" cy="287.1" r="3.6"/><circle cx="510.44" cy="285.14" r="3.6"/><circle cx="510.44" cy="286.74" r="3.6"/><circle cx="511.38" cy="284.79" r="3.6"/><circle cx="511.38" cy="286.39" r="3.6"/><circle cx="512.33" cy="284.46" r="3.6"/><circle cx="512.33" cy="286.06" r="3.6"/><circle cx="513.28" cy="284.15" r="3.6"/><circle cx="513.28" cy="285.75" r="3.6"/><circle cx="514.25" cy="283.86" r="3.6"/><circle cx="514.25" cy="285.46" r="3.6"/><circle cx="515.21" cy="283.6" r="3.6"/><circle cx="515.21" cy="285.2" r="3.6"/><circle cx="516.19" cy="283.35" r="3.6"/><circle cx="516.19" cy="284.95" r="3.6"/><circle cx="517.16" cy="283.1" r="3.6"/><circle cx="517.16" cy="284.7" r="3.6"/><circle cx="518.14" cy="282.87" r="3.6"/><circle cx="518.14" cy="284.47" r="3.6"/><circle cx="519.12" cy="282.65" r="3.6"/><circle cx="519.12" cy="284.25" r="3.6"/><circle cx="520.1" cy="282.44" r="3.6"/><circle cx="520.1" cy="284.04" r="3.6"/><circle cx="521.08" cy="282.24" r="3.6"/><circle cx="521.08" cy="283.84" r="3.6"/><circle cx="522.07" cy="282.04" r="3.6"/><circle cx="522.07" cy="283.64" r="3.6"/><circle cx="523.06" cy="281.86" r="3.6"/><circle cx="523.06" cy="283.46" r="3.6"/><circle cx="524.04" cy="281.68" r="3.6"/><circle cx="524.04" cy="283.28" r="3.6"/><circle cx="525.03" cy="281.51" r="3.6"/><circle cx="525.03" cy="283.11" r="3.6"/><circle cx="526.02" cy="281.35" r="3.6"/><circle cx="526.02" cy="282.95" r="3.6"/><circle cx="527.02" cy="281.19" r="3.6"/><circle cx="527.02" cy="282.79" r="3.6"/><circle cx="528.01" cy="281.04" r="3.6"/><circle cx="528.01" cy="282.64" r="3.6"/><circle cx="529" cy="280.9" r="3.6"/><circle cx="529" cy="282.5" r="3.6"/><circle cx="530" cy="280.77" r="3.6"/><circle cx="530" cy="282.37" r="3.6"/><circle cx="531" cy="280.64" r="3.6"/><circle cx="531" cy="282.24" r="3.6"/><circle cx="531.99" cy="280.52" r="3.6"/><circle cx="531.99" cy="282.12" r="3.6"/><circle cx="532.99" cy="280.4" r="3.6"/><circle cx="532.99" cy="282" r="3.6"/><circle cx="533.99" cy="280.3" r="3.6"/><circle cx="533.99" cy="281.9" r="3.6"/><circle cx="534.99" cy="280.2" r="3.6"/><circle cx="534.99" cy="281.8" r="3.6"/><circle cx="535.99" cy="280.1" r="3.6"/><circle cx="535.99" cy="281.7" r="3.6"/><circle cx="536.99" cy="280.01" r="3.6"/><circle cx="536.99" cy="281.61" r="3.6"/><circle cx="537.99" cy="279.92" r="3.6"/><circle cx="537.99" cy="281.52" r="3.6"/><circle cx="538.99" cy="279.84" r="3.6"/><circle cx="538.99" cy="281.44" r="3.6"/><circle cx="539.99" cy="279.76" r="3.6"/><circle cx="539.99" cy="281.36" r="3.6"/><circle cx="540.99" cy="279.69" r="3.6"/><circle cx="540.99" cy="281.29" r="3.6"/><circle cx="541.99" cy="279.62" r="3.6"/><circle cx="541.99" cy="281.22" r="3.6"/><circle cx="543" cy="279.56" r="3.6"/><circle cx="543" cy="281.16" r="3.6"/><circle cx="544" cy="279.5" r="3.6"/><circle cx="544" cy="281.1" r="3.6"/></g>
<g fill="#eef4ff" fill-opacity="0.6"><circle cx="416.4" cy="424" r="0.6"/><circle cx="418.42" cy="424.22" r="0.6"/><circle cx="420.45" cy="424.49" r="0.6"/><circle cx="422.47" cy="423.81" r="0.6"/><circle cx="424.5" cy="423.97" r="0.6"/><circle cx="426.52" cy="423.99" r="0.6"/><circle cx="428.55" cy="423.43" r="0.6"/><circle cx="430.57" cy="423.73" r="0.6"/><circle cx="432.6" cy="424.27" r="0.6"/><circle cx="434.62" cy="423.98" r="0.6"/><circle cx="436.64" cy="424.2" r="0.6"/><circle cx="438.67" cy="423.85" r="0.6"/><circle cx="440.69" cy="423.82" r="0.6"/><circle cx="442.72" cy="423.91" r="0.6"/><circle cx="444.74" cy="424.23" r="0.6"/><circle cx="446.77" cy="424.25" r="0.6"/><circle cx="448.79" cy="423.84" r="0.6"/><circle cx="450.81" cy="423.96" r="0.6"/><circle cx="452.84" cy="424.06" r="0.6"/><circle cx="454.86" cy="424.03" r="0.6"/><circle cx="456.89" cy="424.12" r="0.6"/></g>
<g fill="url(#sb)"><circle cx="551.5" cy="275.99" r="3.6"/><circle cx="552.51" cy="275.77" r="3.6"/><circle cx="553.52" cy="275.92" r="3.6"/><circle cx="554.53" cy="275.92" r="3.6"/><circle cx="555.55" cy="275.72" r="3.6"/><circle cx="556.56" cy="275.41" r="3.6"/><circle cx="557.57" cy="275.73" r="3.6"/><circle cx="558.58" cy="275.91" r="3.6"/><circle cx="559.59" cy="275.72" r="3.6"/><circle cx="560.6" cy="275.89" r="3.6"/><circle cx="561.62" cy="276" r="3.6"/><circle cx="562.63" cy="275.69" r="3.6"/><circle cx="563.64" cy="276.05" r="3.6"/><circle cx="564.65" cy="276.12" r="3.6"/><circle cx="565.66" cy="276.02" r="3.6"/><circle cx="566.67" cy="276.03" r="3.6"/><circle cx="567.69" cy="276.02" r="3.6"/><circle cx="568.7" cy="276.25" r="3.6"/><circle cx="569.71" cy="275.84" r="3.6"/><circle cx="570.72" cy="275.8" r="3.6"/><circle cx="571.73" cy="275.92" r="3.6"/><circle cx="572.74" cy="275.62" r="3.6"/><circle cx="573.76" cy="275.49" r="3.6"/><circle cx="574.77" cy="275.62" r="3.6"/><circle cx="575.78" cy="275.87" r="3.6"/><circle cx="576.79" cy="275.89" r="3.6"/><circle cx="577.8" cy="275.49" r="3.6"/><circle cx="578.81" cy="275.42" r="3.6"/><circle cx="579.83" cy="275.74" r="3.6"/><circle cx="580.84" cy="275.76" r="3.6"/><circle cx="581.85" cy="275.79" r="3.6"/><circle cx="582.86" cy="275.93" r="3.6"/><circle cx="583.87" cy="276.05" r="3.6"/><circle cx="584.88" cy="275.85" r="3.6"/><circle cx="585.9" cy="275.92" r="3.6"/><circle cx="586.91" cy="275.58" r="3.6"/><circle cx="587.92" cy="275.56" r="3.6"/><circle cx="588.93" cy="275.85" r="3.6"/><circle cx="589.94" cy="275.93" r="3.6"/><circle cx="590.95" cy="275.95" r="3.6"/><circle cx="591.97" cy="275.92" r="3.6"/><circle cx="592.98" cy="275.96" r="3.6"/><circle cx="593.99" cy="275.96" r="3.6"/><circle cx="595" cy="275.45" r="3.6"/><circle cx="597.2" cy="314.5" r="3.6"/><circle cx="600.2" cy="353" r="3.6"/><circle cx="603.6" cy="368" r="3.6"/><circle cx="606" cy="378" r="3.6"/><circle cx="609" cy="385.3" r="3.6"/><circle cx="610.5" cy="388.24" r="3.6"/><circle cx="611.68" cy="390.6" r="3.6"/><circle cx="613.04" cy="392.64" r="3.6"/><circle cx="614.51" cy="394.16" r="3.6"/><circle cx="616.09" cy="396.54" r="3.6"/><circle cx="617.81" cy="397.94" r="3.6"/><circle cx="619.66" cy="399.55" r="3.6"/><circle cx="621.61" cy="401.1" r="3.6"/><circle cx="623.63" cy="402.55" r="3.6"/><circle cx="625.71" cy="403.38" r="3.6"/><circle cx="627.81" cy="405.09" r="3.6"/><circle cx="629.92" cy="406.1" r="3.6"/><circle cx="632.06" cy="407.09" r="3.6"/><circle cx="634.23" cy="408.29" r="3.6"/><circle cx="636.44" cy="408.92" r="3.6"/><circle cx="638.69" cy="410.14" r="3.6"/><circle cx="640.98" cy="411.12" r="3.6"/><circle cx="643.29" cy="411.69" r="3.6"/><circle cx="645.62" cy="412.47" r="3.6"/><circle cx="647.96" cy="413.16" r="3.6"/><circle cx="650.31" cy="413.83" r="3.6"/><circle cx="652.67" cy="414.62" r="3.6"/><circle cx="655.03" cy="414.96" r="3.6"/><circle cx="657.41" cy="415.43" r="3.6"/><circle cx="659.8" cy="416.05" r="3.6"/><circle cx="662.19" cy="416.78" r="3.6"/><circle cx="664.59" cy="416.69" r="3.6"/><circle cx="666.99" cy="417.24" r="3.6"/><circle cx="669.39" cy="417.21" r="3.6"/><circle cx="671.79" cy="418.17" r="3.6"/><circle cx="674.19" cy="418.41" r="3.6"/><circle cx="676.6" cy="418.91" r="3.6"/><circle cx="679" cy="418.99" r="3.6"/></g>
<g fill="#eef4ff" fill-opacity="0.65"><circle cx="550.9" cy="274.99" r="0.6"/><circle cx="552.92" cy="274.92" r="0.6"/><circle cx="554.95" cy="274.72" r="0.6"/><circle cx="556.97" cy="274.73" r="0.6"/><circle cx="558.99" cy="274.72" r="0.6"/><circle cx="561.02" cy="275" r="0.6"/><circle cx="563.04" cy="275.05" r="0.6"/><circle cx="565.06" cy="275.02" r="0.6"/><circle cx="567.09" cy="275.02" r="0.6"/><circle cx="569.11" cy="274.84" r="0.6"/><circle cx="571.13" cy="274.92" r="0.6"/><circle cx="573.16" cy="274.49" r="0.6"/><circle cx="575.18" cy="274.87" r="0.6"/><circle cx="577.2" cy="274.49" r="0.6"/><circle cx="579.23" cy="274.74" r="0.6"/><circle cx="581.25" cy="274.79" r="0.6"/><circle cx="583.27" cy="275.05" r="0.6"/><circle cx="585.3" cy="274.92" r="0.6"/><circle cx="587.32" cy="274.56" r="0.6"/><circle cx="589.34" cy="274.93" r="0.6"/><circle cx="591.37" cy="274.92" r="0.6"/><circle cx="593.39" cy="274.96" r="0.6"/><circle cx="609.9" cy="387.24" r="0.6"/><circle cx="611.08" cy="389.6" r="0.6"/><circle cx="612.44" cy="391.64" r="0.6"/><circle cx="613.91" cy="393.16" r="0.6"/><circle cx="615.49" cy="395.54" r="0.6"/><circle cx="617.21" cy="396.94" r="0.6"/><circle cx="619.06" cy="398.55" r="0.6"/><circle cx="621.01" cy="400.1" r="0.6"/><circle cx="623.03" cy="401.55" r="0.6"/><circle cx="625.11" cy="402.38" r="0.6"/><circle cx="627.21" cy="404.09" r="0.6"/><circle cx="629.32" cy="405.1" r="0.6"/><circle cx="631.46" cy="406.09" r="0.6"/><circle cx="633.63" cy="407.29" r="0.6"/><circle cx="635.84" cy="407.92" r="0.6"/><circle cx="638.09" cy="409.14" r="0.6"/><circle cx="640.38" cy="410.12" r="0.6"/><circle cx="642.69" cy="410.69" r="0.6"/><circle cx="645.02" cy="411.47" r="0.6"/><circle cx="647.36" cy="412.16" r="0.6"/><circle cx="649.71" cy="412.83" r="0.6"/><circle cx="652.07" cy="413.62" r="0.6"/><circle cx="654.43" cy="413.96" r="0.6"/><circle cx="656.81" cy="414.43" r="0.6"/><circle cx="659.2" cy="415.05" r="0.6"/><circle cx="661.59" cy="415.78" r="0.6"/><circle cx="663.99" cy="415.69" r="0.6"/><circle cx="666.39" cy="416.24" r="0.6"/><circle cx="668.79" cy="416.21" r="0.6"/><circle cx="671.19" cy="417.17" r="0.6"/><circle cx="673.59" cy="417.41" r="0.6"/><circle cx="676" cy="417.91" r="0.6"/><circle cx="678.4" cy="417.99" r="0.6"/></g>
<text stroke="#000" stroke-width="0.15" x="432.8" y="273.7" font-size="14.5" text-anchor="start" font-weight="bold" fill="#000" >Al/ZnO-500</text>
<line x1="460" y1="334.4" x2="489" y2="334.4" stroke="#e0301e" stroke-width="2.5" stroke-dasharray="2.8 3.4"/>
<line x1="452" y1="425.8" x2="481" y2="425.8" stroke="#e0301e" stroke-width="2.5" stroke-dasharray="2.8 3.4"/>
<line x1="472.8" y1="340" x2="472.8" y2="414" stroke="#e0301e" stroke-width="2" stroke-dasharray="6 3"/>
<polygon points="472.8,333 468.5,341 477.1,341" fill="#e0301e"/>
<polygon points="472.8,420.8 468.5,412.8 477.1,412.8" fill="#e0301e"/>
<text stroke="#e0301e" stroke-width="0.15" x="496" y="334.5" font-size="14" font-weight="bold" fill="#e0301e">I<tspan font-size="8.3" dy="4.3">ph</tspan><tspan dy="-4.3">/e</tspan></text>
<text stroke="#000" stroke-width="0.15" x="493" y="416.7" font-size="14" font-weight="bold" fill="#000">τ<tspan font-size="8.3" dy="4.6">rise</tspan><tspan dy="-4.6">=2.17 s</tspan></text>
<line x1="580" y1="276.2" x2="607" y2="276.2" stroke="#e0301e" stroke-width="2.5" stroke-dasharray="2.8 3.4"/>
<line x1="586" y1="369.8" x2="612" y2="369.8" stroke="#e0301e" stroke-width="2.5" stroke-dasharray="2.8 3.4"/>
<line x1="591" y1="284" x2="591" y2="358" stroke="#e0301e" stroke-width="2" stroke-dasharray="6 3"/>
<polygon points="591,277 586.7,285 595.3,285" fill="#e0301e"/>
<polygon points="591,365.5 586.7,357.5 595.3,357.5" fill="#e0301e"/>
<text stroke="#000" stroke-width="0.15" x="616" y="313" font-size="14" font-weight="bold" fill="#000">τ<tspan font-size="8.3" dy="4.6">decay</tspan><tspan dy="-4.6">=</tspan></text>
<text stroke="#000" stroke-width="0.15" x="614" y="334" font-size="14" text-anchor="start" font-weight="bold" fill="#000" >0.48 s</text>
<text stroke="#e0301e" stroke-width="0.15" x="514.1" y="367.9" font-size="14" font-weight="bold" fill="#e0301e">I<tspan font-size="8.3" dy="4.3">ph</tspan><tspan dy="-4.3">(1−1/e)</tspan></text>
<path d="M62.8,630 C67.33,626.5 76.03,614.5 90,609 C103.97,603.5 127.93,600.67 146.6,597 C165.27,593.33 183.03,589.9 202,587 C220.97,584.1 242,581.93 260.4,579.6 C278.8,577.27 303.73,574.1 312.4,573" fill="none" stroke="#7f7f7f" stroke-width="1.4" stroke-dasharray="5.2 4.8"/>
<path d="M62.8,636 C67.33,632.2 76.03,620.37 90,613.2 C103.97,606.03 127.93,598.37 146.6,593 C165.27,587.63 183.03,584.67 202,581 C220.97,577.33 242,574 260.4,571 C278.8,568 303.73,564.33 312.4,563" fill="none" stroke="#7f7f7f" stroke-width="1.4" stroke-dasharray="5.2 4.8"/>
<path d="M62.8,624.9 C67.33,621.27 76.03,610.42 90,603.1 C103.97,595.78 127.93,586.35 146.6,581 C165.27,575.65 183.03,574.5 202,571 C220.97,567.5 242,562.9 260.4,560 C278.8,557.1 303.73,554.67 312.4,553.6" fill="none" stroke="#7f7f7f" stroke-width="1.4" stroke-dasharray="5.2 4.8"/>
<path d="M62.8,567 C67.33,563.5 76.03,553.07 90,546 C103.97,538.93 127.93,529.83 146.6,524.6 C165.27,519.37 183.03,517.6 202,514.6 C220.97,511.6 242,509.1 260.4,506.6 C278.8,504.1 303.73,500.77 312.4,499.6" fill="none" stroke="#7f7f7f" stroke-width="1.4" stroke-dasharray="5.2 4.8"/>
<g fill="url(#eg)"><circle cx="62.8" cy="630" r="7.9"/><circle cx="90" cy="609" r="7.9"/><circle cx="146.6" cy="597" r="7.9"/><circle cx="202" cy="587" r="7.9"/><circle cx="260.4" cy="579.6" r="7.9"/><circle cx="312.4" cy="573" r="7.9"/></g>
<g fill="url(#eo)"><circle cx="62.8" cy="636" r="7.9"/><circle cx="90" cy="613.2" r="7.9"/><circle cx="146.6" cy="593" r="7.9"/><circle cx="202" cy="581" r="7.9"/><circle cx="260.4" cy="571" r="7.9"/><circle cx="312.4" cy="563" r="7.9"/></g>
<g fill="url(#ep)"><circle cx="62.8" cy="624.9" r="7.9"/><circle cx="90" cy="603.1" r="7.9"/><circle cx="146.6" cy="581" r="7.9"/><circle cx="202" cy="571" r="7.9"/><circle cx="260.4" cy="560" r="7.9"/><circle cx="312.4" cy="553.6" r="7.9"/></g>
<g fill="url(#eb)"><circle cx="62.8" cy="567" r="7.9"/><circle cx="90" cy="546" r="7.9"/><circle cx="146.6" cy="524.6" r="7.9"/><circle cx="202" cy="514.6" r="7.9"/><circle cx="260.4" cy="506.6" r="7.9"/><circle cx="312.4" cy="499.6" r="7.9"/></g>
<line x1="206.4" y1="603.8" x2="212" y2="603.8" stroke="#7f7f7f" stroke-width="1.3" />
<line x1="227.3" y1="603.8" x2="232.1" y2="603.8" stroke="#7f7f7f" stroke-width="1.3" />
<g fill="url(#eg)"><circle cx="220.5" cy="603.8" r="6.4"/></g>
<text stroke="#000" stroke-width="0.15" x="235.2" y="608.2" font-size="12.4" text-anchor="start" font-weight="bold" fill="#000" >Zno</text>
<line x1="206.4" y1="622.75" x2="212" y2="622.75" stroke="#7f7f7f" stroke-width="1.3" />
<line x1="227.3" y1="622.75" x2="232.1" y2="622.75" stroke="#7f7f7f" stroke-width="1.3" />
<g fill="url(#eo)"><circle cx="220.5" cy="622.75" r="6.4"/></g>
<text stroke="#000" stroke-width="0.15" x="235.2" y="627.15" font-size="12.4" text-anchor="start" font-weight="bold" fill="#000" >Al/ZnO-300</text>
<line x1="206.4" y1="641.7" x2="212" y2="641.7" stroke="#7f7f7f" stroke-width="1.3" />
<line x1="227.3" y1="641.7" x2="232.1" y2="641.7" stroke="#7f7f7f" stroke-width="1.3" />
<g fill="url(#ep)"><circle cx="220.5" cy="641.7" r="6.4"/></g>
<text stroke="#000" stroke-width="0.15" x="235.2" y="646.1" font-size="12.4" text-anchor="start" font-weight="bold" fill="#000" >Al/ZnO-400</text>
<line x1="206.4" y1="660.65" x2="212" y2="660.65" stroke="#7f7f7f" stroke-width="1.3" />
<line x1="227.3" y1="660.65" x2="232.1" y2="660.65" stroke="#7f7f7f" stroke-width="1.3" />
<g fill="url(#eb)"><circle cx="220.5" cy="660.65" r="6.4"/></g>
<text stroke="#000" stroke-width="0.15" x="235.2" y="665.05" font-size="12.4" text-anchor="start" font-weight="bold" fill="#000" >Al/ZnO-500</text>
<polyline points="424.6,613.6 452,617 508,639 563,645 621.4,646 672.4,650" fill="none" stroke="#7f7f7f" stroke-width="1.5" stroke-dasharray="6 4.2"/>
<polyline points="424.6,618 452,627 508,631 563,632 621.4,633.6 672.4,634" fill="none" stroke="#7f7f7f" stroke-width="1.5" stroke-dasharray="6 4.2"/>
<polyline points="424.6,603 452,609 508,615 563,620 621.4,616 672.4,618" fill="none" stroke="#7f7f7f" stroke-width="1.5" stroke-dasharray="6 4.2"/>
<polyline points="424.6,503.6 452,510 508,518 563,520 621.4,522.4 672.4,523" fill="none" stroke="#7f7f7f" stroke-width="1.5" stroke-dasharray="6 4.2"/>
<path d="M424.6,606.6 L426.77,611.01 L431.64,611.71 L428.12,615.14 L428.95,619.99 L424.6,617.7 L420.25,619.99 L421.08,615.14 L417.56,611.71 L422.43,611.01ZM452,610 L454.17,614.41 L459.04,615.11 L455.52,618.54 L456.35,623.39 L452,621.1 L447.65,623.39 L448.48,618.54 L444.96,615.11 L449.83,614.41ZM508,632 L510.17,636.41 L515.04,637.11 L511.52,640.54 L512.35,645.39 L508,643.1 L503.65,645.39 L504.48,640.54 L500.96,637.11 L505.83,636.41ZM563,638 L565.17,642.41 L570.04,643.11 L566.52,646.54 L567.35,651.39 L563,649.1 L558.65,651.39 L559.48,646.54 L555.96,643.11 L560.83,642.41ZM621.4,639 L623.57,643.41 L628.44,644.11 L624.92,647.54 L625.75,652.39 L621.4,650.1 L617.05,652.39 L617.88,647.54 L614.36,644.11 L619.23,643.41ZM672.4,643 L674.57,647.41 L679.44,648.11 L675.92,651.54 L676.75,656.39 L672.4,654.1 L668.05,656.39 L668.88,651.54 L665.36,648.11 L670.23,647.41Z" fill="#fff" stroke="#8a8a8a" stroke-width="1.3" stroke-linejoin="miter"/>
<path d="M424.6,611 L426.77,615.41 L431.64,616.11 L428.12,619.54 L428.95,624.39 L424.6,622.1 L420.25,624.39 L421.08,619.54 L417.56,616.11 L422.43,615.41ZM452,620 L454.17,624.41 L459.04,625.11 L455.52,628.54 L456.35,633.39 L452,631.1 L447.65,633.39 L448.48,628.54 L444.96,625.11 L449.83,624.41ZM508,624 L510.17,628.41 L515.04,629.11 L511.52,632.54 L512.35,637.39 L508,635.1 L503.65,637.39 L504.48,632.54 L500.96,629.11 L505.83,628.41ZM563,625 L565.17,629.41 L570.04,630.11 L566.52,633.54 L567.35,638.39 L563,636.1 L558.65,638.39 L559.48,633.54 L555.96,630.11 L560.83,629.41ZM621.4,626.6 L623.57,631.01 L628.44,631.71 L624.92,635.14 L625.75,639.99 L621.4,637.7 L617.05,639.99 L617.88,635.14 L614.36,631.71 L619.23,631.01ZM672.4,627 L674.57,631.41 L679.44,632.11 L675.92,635.54 L676.75,640.39 L672.4,638.1 L668.05,640.39 L668.88,635.54 L665.36,632.11 L670.23,631.41Z" fill="#fff" stroke="#f5914a" stroke-width="1.3" stroke-linejoin="miter"/>
<path d="M424.6,596 L426.77,600.41 L431.64,601.11 L428.12,604.54 L428.95,609.39 L424.6,607.1 L420.25,609.39 L421.08,604.54 L417.56,601.11 L422.43,600.41ZM452,602 L454.17,606.41 L459.04,607.11 L455.52,610.54 L456.35,615.39 L452,613.1 L447.65,615.39 L448.48,610.54 L444.96,607.11 L449.83,606.41ZM508,608 L510.17,612.41 L515.04,613.11 L511.52,616.54 L512.35,621.39 L508,619.1 L503.65,621.39 L504.48,616.54 L500.96,613.11 L505.83,612.41ZM563,613 L565.17,617.41 L570.04,618.11 L566.52,621.54 L567.35,626.39 L563,624.1 L558.65,626.39 L559.48,621.54 L555.96,618.11 L560.83,617.41ZM621.4,609 L623.57,613.41 L628.44,614.11 L624.92,617.54 L625.75,622.39 L621.4,620.1 L617.05,622.39 L617.88,617.54 L614.36,614.11 L619.23,613.41ZM672.4,611 L674.57,615.41 L679.44,616.11 L675.92,619.54 L676.75,624.39 L672.4,622.1 L668.05,624.39 L668.88,619.54 L665.36,616.11 L670.23,615.41Z" fill="#fff" stroke="#f0808a" stroke-width="1.3" stroke-linejoin="miter"/>
<path d="M424.6,496.6 L426.77,501.01 L431.64,501.71 L428.12,505.14 L428.95,509.99 L424.6,507.7 L420.25,509.99 L421.08,505.14 L417.56,501.71 L422.43,501.01ZM452,503 L454.17,507.41 L459.04,508.11 L455.52,511.54 L456.35,516.39 L452,514.1 L447.65,516.39 L448.48,511.54 L444.96,508.11 L449.83,507.41ZM508,511 L510.17,515.41 L515.04,516.11 L511.52,519.54 L512.35,524.39 L508,522.1 L503.65,524.39 L504.48,519.54 L500.96,516.11 L505.83,515.41ZM563,513 L565.17,517.41 L570.04,518.11 L566.52,521.54 L567.35,526.39 L563,524.1 L558.65,526.39 L559.48,521.54 L555.96,518.11 L560.83,517.41ZM621.4,515.4 L623.57,519.81 L628.44,520.51 L624.92,523.94 L625.75,528.79 L621.4,526.5 L617.05,528.79 L617.88,523.94 L614.36,520.51 L619.23,519.81ZM672.4,516 L674.57,520.41 L679.44,521.11 L675.92,524.54 L676.75,529.39 L672.4,527.1 L668.05,529.39 L668.88,524.54 L665.36,521.11 L670.23,520.41Z" fill="#fff" stroke="#4a78c8" stroke-width="1.3" stroke-linejoin="miter"/>
<line x1="503" y1="541.6" x2="508.6" y2="541.6" stroke="#7f7f7f" stroke-width="1.4" />
<line x1="525.5" y1="541.6" x2="529.5" y2="541.6" stroke="#7f7f7f" stroke-width="1.4" />
<path d="M517.4,536.6 L519.05,539.93 L522.73,540.47 L520.06,543.07 L520.69,546.73 L517.4,545 L514.11,546.73 L514.74,543.07 L512.07,540.47 L515.75,539.93Z" fill="#fff" stroke="#8a8a8a" stroke-width="1.2"/>
<text stroke="#000" stroke-width="0.15" x="534" y="546" font-size="12.4" text-anchor="start" font-weight="bold" fill="#000" >ZnO</text>
<line x1="503" y1="560.4" x2="508.6" y2="560.4" stroke="#7f7f7f" stroke-width="1.4" />
<line x1="525.5" y1="560.4" x2="529.5" y2="560.4" stroke="#7f7f7f" stroke-width="1.4" />
<path d="M517.4,555.4 L519.05,558.73 L522.73,559.27 L520.06,561.87 L520.69,565.53 L517.4,563.8 L514.11,565.53 L514.74,561.87 L512.07,559.27 L515.75,558.73Z" fill="#fff" stroke="#f5914a" stroke-width="1.2"/>
<text stroke="#000" stroke-width="0.15" x="534" y="564.8" font-size="12.4" text-anchor="start" font-weight="bold" fill="#000" >Al/ZnO-300</text>
<line x1="503" y1="579.2" x2="508.6" y2="579.2" stroke="#7f7f7f" stroke-width="1.4" />
<line x1="525.5" y1="579.2" x2="529.5" y2="579.2" stroke="#7f7f7f" stroke-width="1.4" />
<path d="M517.4,574.2 L519.05,577.53 L522.73,578.07 L520.06,580.67 L520.69,584.33 L517.4,582.6 L514.11,584.33 L514.74,580.67 L512.07,578.07 L515.75,577.53Z" fill="#fff" stroke="#f0808a" stroke-width="1.2"/>
<text stroke="#000" stroke-width="0.15" x="534" y="583.6" font-size="12.4" text-anchor="start" font-weight="bold" fill="#000" >Al/ZnO-400</text>
<line x1="503" y1="598" x2="508.6" y2="598" stroke="#7f7f7f" stroke-width="1.4" />
<line x1="525.5" y1="598" x2="529.5" y2="598" stroke="#7f7f7f" stroke-width="1.4" />
<path d="M517.4,593 L519.05,596.33 L522.73,596.87 L520.06,599.47 L520.69,603.13 L517.4,601.4 L514.11,603.13 L514.74,599.47 L512.07,596.87 L515.75,596.33Z" fill="#fff" stroke="#4a78c8" stroke-width="1.2"/>
<text stroke="#000" stroke-width="0.15" x="534" y="602.4" font-size="12.4" text-anchor="start" font-weight="bold" fill="#000" >Al/ZnO-500</text>
</svg></body></html>
